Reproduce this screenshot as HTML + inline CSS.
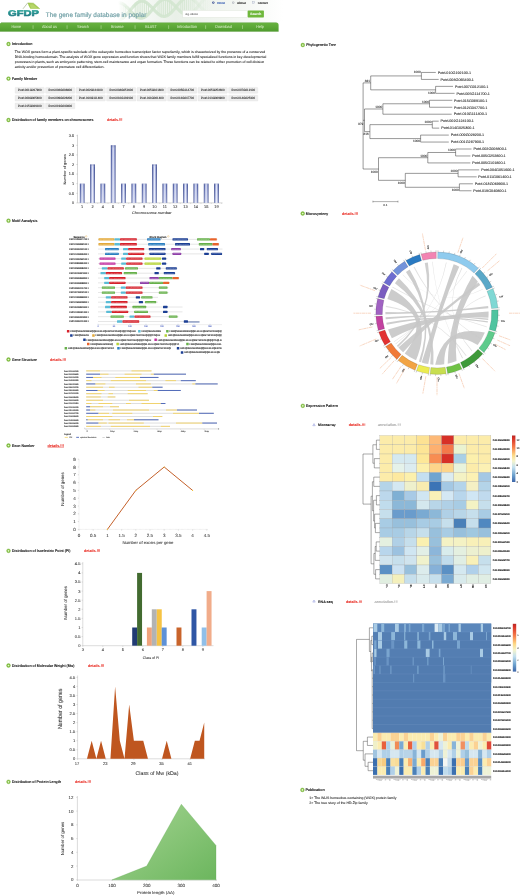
<!DOCTYPE html>
<html><head><meta charset="utf-8"><title>GFDP</title>
<style>html,body{margin:0;padding:0;background:#fff;}body{width:520px;height:896px;overflow:hidden;font-family:"Liberation Sans",sans-serif;}svg{display:block;will-change:transform;opacity:0.999;font-family:"Liberation Sans",sans-serif;}text{white-space:pre;}</style></head>
<body>
<svg width="520" height="896" viewBox="0 0 520 896" text-rendering="geometricPrecision">
<rect width="520" height="896" fill="#ffffff"/>
<defs>
<linearGradient id="nav" x1="0" y1="0" x2="0" y2="1"><stop offset="0" stop-color="#4b962c"/><stop offset="0.1" stop-color="#66b03e"/><stop offset="0.5" stop-color="#5ca837"/><stop offset="1" stop-color="#4f9b2e"/></linearGradient>
<linearGradient id="logo" x1="0" y1="0" x2="0" y2="1"><stop offset="0" stop-color="#2fb09f"/><stop offset="1" stop-color="#1c6c7c"/></linearGradient>
<linearGradient id="hdr" x1="0" y1="0" x2="1" y2="0"><stop offset="0" stop-color="#ffffff"/><stop offset="0.42" stop-color="#ffffff"/><stop offset="0.62" stop-color="#e9f0e8"/><stop offset="0.85" stop-color="#f4f7f3"/><stop offset="1" stop-color="#ffffff"/></linearGradient>
<linearGradient id="cyl" x1="0" y1="0" x2="1" y2="0"><stop offset="0" stop-color="#2e3d82"/><stop offset="0.1" stop-color="#3f4f96"/><stop offset="0.24" stop-color="#949fd3"/><stop offset="0.5" stop-color="#e2e6f7"/><stop offset="0.76" stop-color="#949fd3"/><stop offset="0.9" stop-color="#3f4f96"/><stop offset="1" stop-color="#2e3d82"/></linearGradient>
<linearGradient id="cylv" x1="0" y1="0" x2="0" y2="1"><stop offset="0" stop-color="#33438a" stop-opacity="0.35"/><stop offset="0.08" stop-color="#ffffff" stop-opacity="0"/><stop offset="1" stop-color="#ffffff" stop-opacity="0.3"/></linearGradient>
<linearGradient id="plen" x1="0" y1="0" x2="1" y2="1"><stop offset="0" stop-color="#a6d593"/><stop offset="1" stop-color="#6cb65e"/></linearGradient>
<linearGradient id="hm" x1="0" y1="0" x2="0" y2="1"><stop offset="0" stop-color="#b52a26"/><stop offset="0.06" stop-color="#d73027"/><stop offset="0.25" stop-color="#f67d4a"/><stop offset="0.42" stop-color="#fdd884"/><stop offset="0.55" stop-color="#f4f4cc"/><stop offset="0.68" stop-color="#c4e0ee"/><stop offset="0.85" stop-color="#6ea3cf"/><stop offset="1" stop-color="#3c65a8"/></linearGradient>
</defs>
<rect x="0" y="0" width="283" height="22" fill="url(#hdr)"/>
<linearGradient id="hx" gradientUnits="userSpaceOnUse" x1="118" y1="0" x2="212" y2="0"><stop offset="0" stop-color="#cfe4cc" stop-opacity="0"/><stop offset="0.18" stop-color="#cfe4cc" stop-opacity="0.9"/><stop offset="0.7" stop-color="#d3e6d0" stop-opacity="0.85"/><stop offset="1" stop-color="#d8e9d6" stop-opacity="0"/></linearGradient>
<clipPath id="hclip"><rect x="100" y="0" width="183" height="21.3"/></clipPath>
<g clip-path="url(#hclip)">
<polyline points="118.0,2.9 118.5,2.9 119.0,2.8 119.5,2.9 120.0,2.9 120.5,3.0 121.0,3.2 121.5,3.3 122.0,3.6 122.5,3.8 123.0,4.1 123.5,4.4 124.0,4.7 124.5,5.1 125.0,5.5 125.5,5.9 126.0,6.4 126.5,6.9 127.0,7.3 127.5,7.8 128.0,8.4 128.5,8.9 129.0,9.4 129.5,10.0 130.0,10.5 130.5,11.0 131.0,11.6 131.5,12.1 132.0,12.6 132.5,13.2 133.0,13.7 133.5,14.1 134.0,14.6 134.5,15.1 135.0,15.5 135.5,15.9 136.0,16.3 136.5,16.6 137.0,16.9 137.5,17.2 138.0,17.4 138.5,17.7 139.0,17.8 139.5,18.0 140.0,18.1 140.5,18.1 141.0,18.2 141.5,18.1 142.0,18.1 142.5,18.0 143.0,17.8 143.5,17.7 144.0,17.5 144.5,17.2 145.0,16.9 145.5,16.6 146.0,16.2 146.5,15.9 147.0,15.4 147.5,15.0 148.0,14.5 148.5,14.0 149.0,13.5 149.5,12.9 150.0,12.4 150.5,11.8 151.0,11.2 151.5,10.6 152.0,10.0 152.5,9.4 153.0,8.8 153.5,8.2 154.0,7.5 154.5,6.9 155.0,6.3 155.5,5.7 156.0,5.2 156.5,4.6 157.0,4.1 157.5,3.5 158.0,3.0 158.5,2.6 159.0,2.1 159.5,1.7 160.0,1.3 160.5,0.9 161.0,0.6 161.5,0.3 162.0,0.1 162.5,-0.1 163.0,-0.3 163.5,-0.4 164.0,-0.5 164.5,-0.6 165.0,-0.6 165.5,-0.6 166.0,-0.5 166.5,-0.4 167.0,-0.3 167.5,-0.1 168.0,0.1 168.5,0.3 169.0,0.6 169.5,0.9 170.0,1.3 170.5,1.7 171.0,2.1 171.5,2.5 172.0,2.9 172.5,3.4 173.0,3.9 173.5,4.4 174.0,4.9 174.5,5.4 175.0,6.0 175.5,6.5 176.0,7.0 176.5,7.6 177.0,8.1 177.5,8.7 178.0,9.2 178.5,9.7 179.0,10.2 179.5,10.7 180.0,11.2 180.5,11.6 181.0,12.0 181.5,12.4 182.0,12.8 182.5,13.2 183.0,13.5 183.5,13.8 184.0,14.0 184.5,14.2 185.0,14.4 185.5,14.5 186.0,14.6 186.5,14.7 187.0,14.7 187.5,14.7 188.0,14.6 188.5,14.5 189.0,14.4 189.5,14.2 190.0,14.0 190.5,13.8 191.0,13.5 191.5,13.2 192.0,12.8 192.5,12.4 193.0,12.0 193.5,11.5 194.0,11.1 194.5,10.6 195.0,10.0 195.5,9.5 196.0,8.9 196.5,8.4 197.0,7.8 197.5,7.2 198.0,6.6 198.5,5.9 199.0,5.3 199.5,4.7 200.0,4.1 200.5,3.5 201.0,2.9 201.5,2.3 202.0,1.7 202.5,1.2 203.0,0.6 203.5,0.1 204.0,-0.4 204.5,-0.9 205.0,-1.3 205.5,-1.8 206.0,-2.1 206.5,-2.5 207.0,-2.8 207.5,-3.1 208.0,-3.4 208.5,-3.6 209.0,-3.7 209.5,-3.9 210.0,-4.0 210.5,-4.0 211.0,-4.1 211.5,-4.0 212.0,-4.0 212.5,-3.9" fill="none" stroke="url(#hx)" stroke-width="3.2" stroke-linecap="round"/>
<polyline points="118.0,19.9 118.5,19.9 119.0,19.8 119.5,19.7 120.0,19.6 120.5,19.4 121.0,19.2 121.5,18.9 122.0,18.6 122.5,18.3 123.0,18.0 123.5,17.6 124.0,17.2 124.5,16.7 125.0,16.2 125.5,15.7 126.0,15.2 126.5,14.7 127.0,14.1 127.5,13.5 128.0,12.9 128.5,12.3 129.0,11.7 129.5,11.1 130.0,10.5 130.5,9.9 131.0,9.3 131.5,8.7 132.0,8.1 132.5,7.5 133.0,6.9 133.5,6.3 134.0,5.8 134.5,5.3 135.0,4.8 135.5,4.3 136.0,3.8 136.5,3.4 137.0,3.0 137.5,2.7 138.0,2.4 138.5,2.1 139.0,1.8 139.5,1.6 140.0,1.4 140.5,1.3 141.0,1.2 141.5,1.1 142.0,1.1 142.5,1.1 143.0,1.2 143.5,1.3 144.0,1.4 144.5,1.6 145.0,1.8 145.5,2.1 146.0,2.4 146.5,2.7 147.0,3.0 147.5,3.4 148.0,3.8 148.5,4.2 149.0,4.7 149.5,5.1 150.0,5.6 150.5,6.1 151.0,6.6 151.5,7.2 152.0,7.7 152.5,8.2 153.0,8.8 153.5,9.3 154.0,9.9 154.5,10.4 155.0,10.9 155.5,11.4 156.0,11.9 156.5,12.4 157.0,12.9 157.5,13.3 158.0,13.8 158.5,14.2 159.0,14.5 159.5,14.9 160.0,15.2 160.5,15.5 161.0,15.7 161.5,15.9 162.0,16.1 162.5,16.2 163.0,16.3 163.5,16.4 164.0,16.4 164.5,16.4 165.0,16.4 165.5,16.3 166.0,16.1 166.5,15.9 167.0,15.7 167.5,15.5 168.0,15.2 168.5,14.9 169.0,14.5 169.5,14.1 170.0,13.7 170.5,13.3 171.0,12.8 171.5,12.3 172.0,11.8 172.5,11.2 173.0,10.7 173.5,10.1 174.0,9.5 174.5,8.9 175.0,8.3 175.5,7.7 176.0,7.1 176.5,6.4 177.0,5.8 177.5,5.2 178.0,4.6 178.5,4.0 179.0,3.4 179.5,2.9 180.0,2.3 180.5,1.8 181.0,1.3 181.5,0.8 182.0,0.4 182.5,-0.0 183.0,-0.4 183.5,-0.8 184.0,-1.1 184.5,-1.4 185.0,-1.6 185.5,-1.8 186.0,-2.0 186.5,-2.2 187.0,-2.3 187.5,-2.3 188.0,-2.3 188.5,-2.3 189.0,-2.2 189.5,-2.1 190.0,-2.0 190.5,-1.8 191.0,-1.6 191.5,-1.4 192.0,-1.1 192.5,-0.8 193.0,-0.4 193.5,-0.1 194.0,0.3 194.5,0.8 195.0,1.2 195.5,1.7 196.0,2.2 196.5,2.7 197.0,3.2 197.5,3.7 198.0,4.2 198.5,4.8 199.0,5.3 199.5,5.9 200.0,6.4 200.5,6.9 201.0,7.5 201.5,8.0 202.0,8.5 202.5,9.0 203.0,9.4 203.5,9.9 204.0,10.3 204.5,10.7 205.0,11.1 205.5,11.4 206.0,11.7 206.5,12.0 207.0,12.3 207.5,12.5 208.0,12.7 208.5,12.8 209.0,12.9 209.5,13.0 210.0,13.0 210.5,13.0 211.0,12.9 211.5,12.8 212.0,12.7 212.5,12.5" fill="none" stroke="url(#hx)" stroke-width="3.2" stroke-linecap="round"/>
<line x1="120.0" y1="2.9" x2="120.0" y2="19.6" stroke="url(#hx)" stroke-width="1.0"/>
<line x1="121.9" y1="3.5" x2="121.9" y2="18.7" stroke="url(#hx)" stroke-width="1.0"/>
<line x1="123.8" y1="4.6" x2="123.8" y2="17.3" stroke="url(#hx)" stroke-width="1.0"/>
<line x1="125.7" y1="6.1" x2="125.7" y2="15.5" stroke="url(#hx)" stroke-width="1.0"/>
<line x1="135.2" y1="15.7" x2="135.2" y2="4.6" stroke="url(#hx)" stroke-width="1.0"/>
<line x1="137.1" y1="17.0" x2="137.1" y2="3.0" stroke="url(#hx)" stroke-width="1.0"/>
<line x1="139.0" y1="17.8" x2="139.0" y2="1.8" stroke="url(#hx)" stroke-width="1.0"/>
<line x1="140.9" y1="18.2" x2="140.9" y2="1.2" stroke="url(#hx)" stroke-width="1.0"/>
<line x1="142.8" y1="17.9" x2="142.8" y2="1.2" stroke="url(#hx)" stroke-width="1.0"/>
<line x1="144.7" y1="17.1" x2="144.7" y2="1.7" stroke="url(#hx)" stroke-width="1.0"/>
<line x1="146.6" y1="15.8" x2="146.6" y2="2.7" stroke="url(#hx)" stroke-width="1.0"/>
<line x1="148.5" y1="14.0" x2="148.5" y2="4.2" stroke="url(#hx)" stroke-width="1.0"/>
<line x1="158.0" y1="3.0" x2="158.0" y2="13.8" stroke="url(#hx)" stroke-width="1.0"/>
<line x1="159.9" y1="1.4" x2="159.9" y2="15.1" stroke="url(#hx)" stroke-width="1.0"/>
<line x1="161.8" y1="0.2" x2="161.8" y2="16.0" stroke="url(#hx)" stroke-width="1.0"/>
<line x1="163.7" y1="-0.5" x2="163.7" y2="16.4" stroke="url(#hx)" stroke-width="1.0"/>
<line x1="165.6" y1="-0.6" x2="165.6" y2="16.2" stroke="url(#hx)" stroke-width="1.0"/>
<line x1="167.5" y1="-0.1" x2="167.5" y2="15.5" stroke="url(#hx)" stroke-width="1.0"/>
<line x1="169.4" y1="0.9" x2="169.4" y2="14.2" stroke="url(#hx)" stroke-width="1.0"/>
<line x1="171.3" y1="2.3" x2="171.3" y2="12.5" stroke="url(#hx)" stroke-width="1.0"/>
<line x1="180.8" y1="11.9" x2="180.8" y2="1.5" stroke="url(#hx)" stroke-width="1.0"/>
<line x1="182.7" y1="13.3" x2="182.7" y2="-0.2" stroke="url(#hx)" stroke-width="1.0"/>
<line x1="184.6" y1="14.2" x2="184.6" y2="-1.4" stroke="url(#hx)" stroke-width="1.0"/>
<line x1="186.5" y1="14.7" x2="186.5" y2="-2.2" stroke="url(#hx)" stroke-width="1.0"/>
<line x1="188.4" y1="14.6" x2="188.4" y2="-2.3" stroke="url(#hx)" stroke-width="1.0"/>
<line x1="190.3" y1="13.9" x2="190.3" y2="-1.9" stroke="url(#hx)" stroke-width="1.0"/>
<line x1="192.2" y1="12.6" x2="192.2" y2="-1.0" stroke="url(#hx)" stroke-width="1.0"/>
<line x1="194.1" y1="11.0" x2="194.1" y2="0.4" stroke="url(#hx)" stroke-width="1.0"/>
<line x1="203.6" y1="-0.0" x2="203.6" y2="10.0" stroke="url(#hx)" stroke-width="1.0"/>
<line x1="205.5" y1="-1.8" x2="205.5" y2="11.4" stroke="url(#hx)" stroke-width="1.0"/>
<line x1="207.4" y1="-3.1" x2="207.4" y2="12.4" stroke="url(#hx)" stroke-width="1.0"/>
<line x1="209.3" y1="-3.8" x2="209.3" y2="12.9" stroke="url(#hx)" stroke-width="1.0"/>
</g>
<polygon points="27.7,2.9 33.4,3.2 39.8,8.8 30.3,8.8 28.6,5.4" fill="#a3ca50"/>
<polygon points="29.5,4.6 33,4.2 37.8,8.3 31.2,8.3" fill="#bcd86f" opacity="0.8"/>
<path d="M27.7,2.9 L23,8.8" stroke="#8a9d6b" stroke-width="0.55" fill="none"/>
<path d="M27.7,2.9 L33.4,3.2 L39.8,8.8" stroke="#8fb63e" stroke-width="0.5" fill="none"/>
<text x="8.00" y="16.20" font-size="8.4" fill="url(#logo)" font-weight="bold" textLength="31.00" lengthAdjust="spacingAndGlyphs" stroke="url(#logo)" stroke-width="0.55" stroke-linejoin="round">GFDP</text>
<text x="45.80" y="16.60" font-size="6.6" fill="#6e9ea4" textLength="100.50" lengthAdjust="spacingAndGlyphs" stroke="#6e9ea4" stroke-width="0.15">The gene family database in poplar</text>
<circle cx="213.3" cy="2.6" r="1.2" fill="#3b4f8f"/><circle cx="213.3" cy="2.6" r="0.5" fill="#cfd6ee"/>
<text x="217.20" y="3.70" font-size="3.0" fill="#2f56b0" font-weight="bold" textLength="8.00" lengthAdjust="spacingAndGlyphs" stroke="#2f56b0" stroke-width="0.06">Home</text>
<circle cx="233.2" cy="2.6" r="1.2" fill="#aab0b8"/><circle cx="233.2" cy="2.6" r="0.6" fill="#f2f2f2"/>
<text x="237.00" y="3.70" font-size="3.0" fill="#222" font-weight="bold" textLength="8.80" lengthAdjust="spacingAndGlyphs" stroke="#222" stroke-width="0.06">About</text>
<rect x="252.2" y="1.6" width="2.6" height="1.9" fill="#e8ebf2" stroke="#9aa3b8" stroke-width="0.3"/>
<text x="257.70" y="3.70" font-size="3.0" fill="#222" font-weight="bold" textLength="10.20" lengthAdjust="spacingAndGlyphs" stroke="#222" stroke-width="0.06">Contact</text>
<rect x="182.7" y="10.4" width="65" height="7" fill="#ffffff" stroke="#dfe6dc" stroke-width="0.5"/>
<text x="185.50" y="15.00" font-size="2.6" fill="#555" textLength="12.50" lengthAdjust="spacingAndGlyphs" stroke="#555" stroke-width="0.06">e.g. AtIAA1</text>
<rect x="247.7" y="10.4" width="16.2" height="7" rx="0.6" fill="#6fb83c"/>
<text x="255.80" y="15.00" font-size="3.3" fill="#ffffff" font-weight="bold" text-anchor="middle" textLength="11.00" lengthAdjust="spacingAndGlyphs" stroke="#ffffff" stroke-width="0.06">Search</text>
<path d="M0,23.4 L1.2,22.4 H276 Q278.6,22.4 278.6,25 V31.5 H0 Z" fill="url(#nav)"/>
<rect x="0" y="31.1" width="278.6" height="0.4" fill="#3f8a20" opacity="0.6"/>
<text x="16.30" y="28.30" font-size="4.1" fill="#e2f2d2" text-anchor="middle" textLength="9.50" lengthAdjust="spacingAndGlyphs">Home</text>
<text x="49.40" y="28.30" font-size="4.1" fill="#e2f2d2" text-anchor="middle" textLength="15.00" lengthAdjust="spacingAndGlyphs">About us</text>
<text x="83.00" y="28.30" font-size="4.1" fill="#e2f2d2" text-anchor="middle" textLength="11.50" lengthAdjust="spacingAndGlyphs">Search</text>
<text x="117.30" y="28.30" font-size="4.1" fill="#e2f2d2" text-anchor="middle" textLength="12.50" lengthAdjust="spacingAndGlyphs">Browse</text>
<text x="151.00" y="28.30" font-size="4.1" fill="#e2f2d2" text-anchor="middle" textLength="11.50" lengthAdjust="spacingAndGlyphs">BLAST</text>
<text x="187.00" y="28.30" font-size="4.1" fill="#e2f2d2" text-anchor="middle" textLength="20.00" lengthAdjust="spacingAndGlyphs">Introduction</text>
<text x="223.50" y="28.30" font-size="4.1" fill="#e2f2d2" text-anchor="middle" textLength="16.50" lengthAdjust="spacingAndGlyphs">Download</text>
<text x="260.00" y="28.30" font-size="4.1" fill="#e2f2d2" text-anchor="middle" textLength="7.50" lengthAdjust="spacingAndGlyphs">Help</text>
<rect x="32.8" y="25.3" width="0.45" height="3.6" fill="#d9efc2"/>
<rect x="66.8" y="25.3" width="0.45" height="3.6" fill="#d9efc2"/>
<rect x="100.8" y="25.3" width="0.45" height="3.6" fill="#d9efc2"/>
<rect x="134.8" y="25.3" width="0.45" height="3.6" fill="#d9efc2"/>
<rect x="168.60000000000002" y="25.3" width="0.45" height="3.6" fill="#d9efc2"/>
<rect x="205.60000000000002" y="25.3" width="0.45" height="3.6" fill="#d9efc2"/>
<rect x="242.10000000000002" y="25.3" width="0.45" height="3.6" fill="#d9efc2"/>
<circle cx="8.5" cy="44" r="1.9" fill="#82c341"/>
<circle cx="8.5" cy="44" r="0.85" fill="#e6f4cf"/>
<circle cx="8.5" cy="44" r="1.9" fill="none" stroke="#6aa32d" stroke-width="0.35"/>
<text x="12.00" y="45.35" font-size="3.9" fill="#111" font-weight="bold" textLength="20.30" lengthAdjust="spacingAndGlyphs" stroke="#111" stroke-width="0.06">Introduction</text>
<text x="14.70" y="52.90" font-size="3.45" fill="#222" textLength="250.60" lengthAdjust="spacingAndGlyphs" stroke="#222" stroke-width="0.06">The WOX genes form a plant-specific subclade of the eukaryotic homeobox transcription factor superfamily, which is characterized by the presence of a conserved</text>
<text x="14.70" y="57.90" font-size="3.45" fill="#222" textLength="251.50" lengthAdjust="spacingAndGlyphs" stroke="#222" stroke-width="0.06">DNA-binding homeodomain. The analysis of WOX gene expression and function shows that WOX family members fulfill specialized functions in key developmental</text>
<text x="14.70" y="62.90" font-size="3.45" fill="#222" textLength="249.60" lengthAdjust="spacingAndGlyphs" stroke="#222" stroke-width="0.06">processes in plants, such as embryonic patterning, stem-cell maintenance and organ formation. These functions can be related to either promotion of cell division</text>
<text x="14.70" y="67.90" font-size="3.45" fill="#222" textLength="89.80" lengthAdjust="spacingAndGlyphs" stroke="#222" stroke-width="0.06">activity and/or prevention of premature cell differentiation.</text>
<circle cx="8.5" cy="78.6" r="1.9" fill="#82c341"/>
<circle cx="8.5" cy="78.6" r="0.85" fill="#e6f4cf"/>
<circle cx="8.5" cy="78.6" r="1.9" fill="none" stroke="#6aa32d" stroke-width="0.35"/>
<text x="12.00" y="79.95" font-size="3.9" fill="#111" font-weight="bold" textLength="25.20" lengthAdjust="spacingAndGlyphs" stroke="#111" stroke-width="0.06">Family Member</text>
<rect x="15.10" y="87.40" width="29.2" height="5.8" rx="0.5" fill="#eeeeee" stroke="#dedede" stroke-width="0.3"/>
<text x="18.10" y="91.45" font-size="3.2" fill="#222" textLength="23.50" lengthAdjust="spacingAndGlyphs" stroke="#222" stroke-width="0.08">Potri.001G237900</text>
<rect x="45.60" y="87.40" width="29.2" height="5.8" rx="0.5" fill="#eeeeee" stroke="#dedede" stroke-width="0.3"/>
<text x="48.60" y="91.45" font-size="3.2" fill="#222" textLength="23.50" lengthAdjust="spacingAndGlyphs" stroke="#222" stroke-width="0.08">Potri.002G008800</text>
<rect x="76.10" y="87.40" width="29.2" height="5.8" rx="0.5" fill="#eeeeee" stroke="#dedede" stroke-width="0.3"/>
<text x="79.10" y="91.45" font-size="3.2" fill="#222" textLength="23.50" lengthAdjust="spacingAndGlyphs" stroke="#222" stroke-width="0.08">Potri.002G124100</text>
<rect x="106.60" y="87.40" width="29.2" height="5.8" rx="0.5" fill="#eeeeee" stroke="#dedede" stroke-width="0.3"/>
<text x="109.60" y="91.45" font-size="3.2" fill="#222" textLength="23.50" lengthAdjust="spacingAndGlyphs" stroke="#222" stroke-width="0.08">Potri.004G051600</text>
<rect x="137.10" y="87.40" width="29.2" height="5.8" rx="0.5" fill="#eeeeee" stroke="#dedede" stroke-width="0.3"/>
<text x="140.10" y="91.45" font-size="3.2" fill="#222" textLength="23.50" lengthAdjust="spacingAndGlyphs" stroke="#222" stroke-width="0.08">Potri.005G101800</text>
<rect x="167.60" y="87.40" width="29.2" height="5.8" rx="0.5" fill="#eeeeee" stroke="#dedede" stroke-width="0.3"/>
<text x="170.60" y="91.45" font-size="3.2" fill="#222" textLength="23.50" lengthAdjust="spacingAndGlyphs" stroke="#222" stroke-width="0.08">Potri.005G114700</text>
<rect x="198.10" y="87.40" width="29.2" height="5.8" rx="0.5" fill="#eeeeee" stroke="#dedede" stroke-width="0.3"/>
<text x="201.10" y="91.45" font-size="3.2" fill="#222" textLength="23.50" lengthAdjust="spacingAndGlyphs" stroke="#222" stroke-width="0.08">Potri.005G252800</text>
<rect x="228.60" y="87.40" width="29.2" height="5.8" rx="0.5" fill="#eeeeee" stroke="#dedede" stroke-width="0.3"/>
<text x="231.60" y="91.45" font-size="3.2" fill="#222" textLength="23.50" lengthAdjust="spacingAndGlyphs" stroke="#222" stroke-width="0.08">Potri.007G012100</text>
<rect x="15.10" y="95.20" width="29.2" height="5.8" rx="0.5" fill="#eeeeee" stroke="#dedede" stroke-width="0.3"/>
<text x="18.10" y="99.25" font-size="3.2" fill="#222" textLength="23.50" lengthAdjust="spacingAndGlyphs" stroke="#222" stroke-width="0.08">Potri.008G065400</text>
<rect x="45.60" y="95.20" width="29.2" height="5.8" rx="0.5" fill="#eeeeee" stroke="#dedede" stroke-width="0.3"/>
<text x="48.60" y="99.25" font-size="3.2" fill="#222" textLength="23.50" lengthAdjust="spacingAndGlyphs" stroke="#222" stroke-width="0.08">Potri.009G028200</text>
<rect x="76.10" y="95.20" width="29.2" height="5.8" rx="0.5" fill="#eeeeee" stroke="#dedede" stroke-width="0.3"/>
<text x="79.10" y="99.25" font-size="3.2" fill="#222" textLength="23.50" lengthAdjust="spacingAndGlyphs" stroke="#222" stroke-width="0.08">Potri.010G111400</text>
<rect x="106.60" y="95.20" width="29.2" height="5.8" rx="0.5" fill="#eeeeee" stroke="#dedede" stroke-width="0.3"/>
<text x="109.60" y="99.25" font-size="3.2" fill="#222" textLength="23.50" lengthAdjust="spacingAndGlyphs" stroke="#222" stroke-width="0.08">Potri.010G192100</text>
<rect x="137.10" y="95.20" width="29.2" height="5.8" rx="0.5" fill="#eeeeee" stroke="#dedede" stroke-width="0.3"/>
<text x="140.10" y="99.25" font-size="3.2" fill="#222" textLength="23.50" lengthAdjust="spacingAndGlyphs" stroke="#222" stroke-width="0.08">Potri.011G061400</text>
<rect x="167.60" y="95.20" width="29.2" height="5.8" rx="0.5" fill="#eeeeee" stroke="#dedede" stroke-width="0.3"/>
<text x="170.60" y="99.25" font-size="3.2" fill="#222" textLength="23.50" lengthAdjust="spacingAndGlyphs" stroke="#222" stroke-width="0.08">Potri.012G047700</text>
<rect x="198.10" y="95.20" width="29.2" height="5.8" rx="0.5" fill="#eeeeee" stroke="#dedede" stroke-width="0.3"/>
<text x="201.10" y="99.25" font-size="3.2" fill="#222" textLength="23.50" lengthAdjust="spacingAndGlyphs" stroke="#222" stroke-width="0.08">Potri.013G069900</text>
<rect x="228.60" y="95.20" width="29.2" height="5.8" rx="0.5" fill="#eeeeee" stroke="#dedede" stroke-width="0.3"/>
<text x="231.60" y="99.25" font-size="3.2" fill="#222" textLength="23.50" lengthAdjust="spacingAndGlyphs" stroke="#222" stroke-width="0.08">Potri.014G025300</text>
<rect x="15.10" y="103.00" width="29.2" height="5.8" rx="0.5" fill="#eeeeee" stroke="#dedede" stroke-width="0.3"/>
<text x="18.10" y="107.05" font-size="3.2" fill="#222" textLength="23.50" lengthAdjust="spacingAndGlyphs" stroke="#222" stroke-width="0.08">Potri.015G039100</text>
<rect x="45.60" y="103.00" width="29.2" height="5.8" rx="0.5" fill="#eeeeee" stroke="#dedede" stroke-width="0.3"/>
<text x="48.60" y="107.05" font-size="3.2" fill="#222" textLength="23.50" lengthAdjust="spacingAndGlyphs" stroke="#222" stroke-width="0.08">Potri.019G040800</text>
<circle cx="8.5" cy="120" r="1.9" fill="#82c341"/>
<circle cx="8.5" cy="120" r="0.85" fill="#e6f4cf"/>
<circle cx="8.5" cy="120" r="1.9" fill="none" stroke="#6aa32d" stroke-width="0.35"/>
<text x="12.00" y="121.35" font-size="3.9" fill="#111" font-weight="bold" textLength="81.50" lengthAdjust="spacingAndGlyphs" stroke="#111" stroke-width="0.06">Distribution of family members on chromosomes</text>
<text x="107.00" y="121.35" font-size="3.9" fill="#e8231a" font-weight="bold" textLength="15.50" lengthAdjust="spacingAndGlyphs" stroke="#e8231a" stroke-width="0.06">details.!!!</text>
<line x1="77.5" y1="134.70" x2="77.5" y2="202.9" stroke="#9a9a9a" stroke-width="0.4"/>
<line x1="77.5" y1="202.9" x2="222.5" y2="202.9" stroke="#9a9a9a" stroke-width="0.4"/>
<line x1="76.3" y1="202.90" x2="77.5" y2="202.90" stroke="#9a9a9a" stroke-width="0.35"/>
<text x="74.20" y="204.25" font-size="3.9" fill="#333" text-anchor="end" stroke="#333" stroke-width="0.06">0</text>
<line x1="76.3" y1="193.30" x2="77.5" y2="193.30" stroke="#9a9a9a" stroke-width="0.35"/>
<text x="74.20" y="194.65" font-size="3.9" fill="#333" text-anchor="end" stroke="#333" stroke-width="0.06">0.5</text>
<line x1="76.3" y1="183.70" x2="77.5" y2="183.70" stroke="#9a9a9a" stroke-width="0.35"/>
<text x="74.20" y="185.05" font-size="3.9" fill="#333" text-anchor="end" stroke="#333" stroke-width="0.06">1</text>
<line x1="76.3" y1="174.10" x2="77.5" y2="174.10" stroke="#9a9a9a" stroke-width="0.35"/>
<text x="74.20" y="175.45" font-size="3.9" fill="#333" text-anchor="end" stroke="#333" stroke-width="0.06">1.5</text>
<line x1="76.3" y1="164.50" x2="77.5" y2="164.50" stroke="#9a9a9a" stroke-width="0.35"/>
<text x="74.20" y="165.85" font-size="3.9" fill="#333" text-anchor="end" stroke="#333" stroke-width="0.06">2</text>
<line x1="76.3" y1="154.90" x2="77.5" y2="154.90" stroke="#9a9a9a" stroke-width="0.35"/>
<text x="74.20" y="156.25" font-size="3.9" fill="#333" text-anchor="end" stroke="#333" stroke-width="0.06">2.5</text>
<line x1="76.3" y1="145.30" x2="77.5" y2="145.30" stroke="#9a9a9a" stroke-width="0.35"/>
<text x="74.20" y="146.65" font-size="3.9" fill="#333" text-anchor="end" stroke="#333" stroke-width="0.06">3</text>
<line x1="76.3" y1="135.70" x2="77.5" y2="135.70" stroke="#9a9a9a" stroke-width="0.35"/>
<text x="74.20" y="137.05" font-size="3.9" fill="#333" text-anchor="end" stroke="#333" stroke-width="0.06">3.5</text>
<rect x="79.85" y="183.70" width="4.7" height="19.20" fill="url(#cyl)"/>
<rect x="79.85" y="183.70" width="4.7" height="19.20" fill="url(#cylv)"/>
<text x="82.20" y="207.80" font-size="3.9" fill="#333" text-anchor="middle" stroke="#333" stroke-width="0.06">1</text>
<line x1="87.36" y1="202.9" x2="87.36" y2="203.9" stroke="#9a9a9a" stroke-width="0.3"/>
<rect x="90.18" y="164.50" width="4.7" height="38.40" fill="url(#cyl)"/>
<rect x="90.18" y="164.50" width="4.7" height="38.40" fill="url(#cylv)"/>
<text x="92.53" y="207.80" font-size="3.9" fill="#333" text-anchor="middle" stroke="#333" stroke-width="0.06">2</text>
<line x1="97.69" y1="202.9" x2="97.69" y2="203.9" stroke="#9a9a9a" stroke-width="0.3"/>
<rect x="100.51" y="183.70" width="4.7" height="19.20" fill="url(#cyl)"/>
<rect x="100.51" y="183.70" width="4.7" height="19.20" fill="url(#cylv)"/>
<text x="102.86" y="207.80" font-size="3.9" fill="#333" text-anchor="middle" stroke="#333" stroke-width="0.06">4</text>
<line x1="108.02" y1="202.9" x2="108.02" y2="203.9" stroke="#9a9a9a" stroke-width="0.3"/>
<rect x="110.84" y="145.30" width="4.7" height="57.60" fill="url(#cyl)"/>
<rect x="110.84" y="145.30" width="4.7" height="57.60" fill="url(#cylv)"/>
<text x="113.19" y="207.80" font-size="3.9" fill="#333" text-anchor="middle" stroke="#333" stroke-width="0.06">5</text>
<line x1="118.35" y1="202.9" x2="118.35" y2="203.9" stroke="#9a9a9a" stroke-width="0.3"/>
<rect x="121.17" y="183.70" width="4.7" height="19.20" fill="url(#cyl)"/>
<rect x="121.17" y="183.70" width="4.7" height="19.20" fill="url(#cylv)"/>
<text x="123.52" y="207.80" font-size="3.9" fill="#333" text-anchor="middle" stroke="#333" stroke-width="0.06">7</text>
<line x1="128.68" y1="202.9" x2="128.68" y2="203.9" stroke="#9a9a9a" stroke-width="0.3"/>
<rect x="131.50" y="183.70" width="4.7" height="19.20" fill="url(#cyl)"/>
<rect x="131.50" y="183.70" width="4.7" height="19.20" fill="url(#cylv)"/>
<text x="133.85" y="207.80" font-size="3.9" fill="#333" text-anchor="middle" stroke="#333" stroke-width="0.06">8</text>
<line x1="139.01" y1="202.9" x2="139.01" y2="203.9" stroke="#9a9a9a" stroke-width="0.3"/>
<rect x="141.83" y="183.70" width="4.7" height="19.20" fill="url(#cyl)"/>
<rect x="141.83" y="183.70" width="4.7" height="19.20" fill="url(#cylv)"/>
<text x="144.18" y="207.80" font-size="3.9" fill="#333" text-anchor="middle" stroke="#333" stroke-width="0.06">9</text>
<line x1="149.34" y1="202.9" x2="149.34" y2="203.9" stroke="#9a9a9a" stroke-width="0.3"/>
<rect x="152.16" y="164.50" width="4.7" height="38.40" fill="url(#cyl)"/>
<rect x="152.16" y="164.50" width="4.7" height="38.40" fill="url(#cylv)"/>
<text x="154.51" y="207.80" font-size="3.9" fill="#333" text-anchor="middle" stroke="#333" stroke-width="0.06">10</text>
<line x1="159.67" y1="202.9" x2="159.67" y2="203.9" stroke="#9a9a9a" stroke-width="0.3"/>
<rect x="162.49" y="183.70" width="4.7" height="19.20" fill="url(#cyl)"/>
<rect x="162.49" y="183.70" width="4.7" height="19.20" fill="url(#cylv)"/>
<text x="164.84" y="207.80" font-size="3.9" fill="#333" text-anchor="middle" stroke="#333" stroke-width="0.06">11</text>
<line x1="170.00" y1="202.9" x2="170.00" y2="203.9" stroke="#9a9a9a" stroke-width="0.3"/>
<rect x="172.82" y="183.70" width="4.7" height="19.20" fill="url(#cyl)"/>
<rect x="172.82" y="183.70" width="4.7" height="19.20" fill="url(#cylv)"/>
<text x="175.17" y="207.80" font-size="3.9" fill="#333" text-anchor="middle" stroke="#333" stroke-width="0.06">12</text>
<line x1="180.33" y1="202.9" x2="180.33" y2="203.9" stroke="#9a9a9a" stroke-width="0.3"/>
<rect x="183.15" y="183.70" width="4.7" height="19.20" fill="url(#cyl)"/>
<rect x="183.15" y="183.70" width="4.7" height="19.20" fill="url(#cylv)"/>
<text x="185.50" y="207.80" font-size="3.9" fill="#333" text-anchor="middle" stroke="#333" stroke-width="0.06">13</text>
<line x1="190.66" y1="202.9" x2="190.66" y2="203.9" stroke="#9a9a9a" stroke-width="0.3"/>
<rect x="193.48" y="183.70" width="4.7" height="19.20" fill="url(#cyl)"/>
<rect x="193.48" y="183.70" width="4.7" height="19.20" fill="url(#cylv)"/>
<text x="195.83" y="207.80" font-size="3.9" fill="#333" text-anchor="middle" stroke="#333" stroke-width="0.06">14</text>
<line x1="200.99" y1="202.9" x2="200.99" y2="203.9" stroke="#9a9a9a" stroke-width="0.3"/>
<rect x="203.81" y="183.70" width="4.7" height="19.20" fill="url(#cyl)"/>
<rect x="203.81" y="183.70" width="4.7" height="19.20" fill="url(#cylv)"/>
<text x="206.16" y="207.80" font-size="3.9" fill="#333" text-anchor="middle" stroke="#333" stroke-width="0.06">15</text>
<line x1="211.32" y1="202.9" x2="211.32" y2="203.9" stroke="#9a9a9a" stroke-width="0.3"/>
<rect x="214.14" y="183.70" width="4.7" height="19.20" fill="url(#cyl)"/>
<rect x="214.14" y="183.70" width="4.7" height="19.20" fill="url(#cylv)"/>
<text x="216.49" y="207.80" font-size="3.9" fill="#333" text-anchor="middle" stroke="#333" stroke-width="0.06">19</text>
<line x1="221.65" y1="202.9" x2="221.65" y2="203.9" stroke="#9a9a9a" stroke-width="0.3"/>
<text x="151.70" y="214.40" font-size="3.6" fill="#333" text-anchor="middle" font-style="italic" textLength="40.00" lengthAdjust="spacingAndGlyphs" stroke="#333" stroke-width="0.06">Chromosome number</text>
<text x="66.00" y="169.30" font-size="3.7" fill="#333" text-anchor="middle" textLength="30.50" lengthAdjust="spacingAndGlyphs" transform="rotate(-90 66.00 169.30)" stroke="#333" stroke-width="0.06">Number of genes</text>
<circle cx="8.5" cy="220.7" r="1.9" fill="#82c341"/>
<circle cx="8.5" cy="220.7" r="0.85" fill="#e6f4cf"/>
<circle cx="8.5" cy="220.7" r="1.9" fill="none" stroke="#6aa32d" stroke-width="0.35"/>
<text x="12.00" y="222.05" font-size="3.9" fill="#111" font-weight="bold" textLength="25.40" lengthAdjust="spacingAndGlyphs" stroke="#111" stroke-width="0.06">Motif Aanalysis</text>
<text x="79.00" y="237.60" font-size="2.7" fill="#111" font-weight="bold" text-anchor="middle" textLength="11.00" lengthAdjust="spacingAndGlyphs" stroke="#111" stroke-width="0.06">Sequence</text>
<circle cx="86.2" cy="236.4" r="0.8" fill="none" stroke="#e0a030" stroke-width="0.3"/>
<text x="158.00" y="237.60" font-size="2.7" fill="#111" font-weight="bold" text-anchor="middle" textLength="17.00" lengthAdjust="spacingAndGlyphs" stroke="#111" stroke-width="0.06">Block Diagram</text>
<circle cx="168.3" cy="236.4" r="0.8" fill="none" stroke="#e0a030" stroke-width="0.3"/>
<text x="69.20" y="240.30" font-size="2.5" fill="#222" textLength="19.60" lengthAdjust="spacingAndGlyphs" stroke="#222" stroke-width="0.1">Potri.012G047700.1</text>
<line x1="98" y1="239.40" x2="217.5" y2="239.40" stroke="#b8b8b8" stroke-width="0.35"/>
<rect x="98.5" y="238.25" width="16.00" height="2.3" rx="0.5" fill="#e3a93a"/>
<text x="99.30" y="239.95" font-size="1.5" fill="#ffffff" textLength="14.40" lengthAdjust="spacingAndGlyphs" opacity="0.35" stroke="#ffffff" stroke-width="0.06">LWFQNRRARWKRQ</text>
<rect x="114.5" y="238.25" width="5.50" height="2.3" rx="0.5" fill="#5bbcd6"/>
<rect x="120" y="238.25" width="16.80" height="2.3" rx="0.5" fill="#d5202a"/>
<text x="120.80" y="239.95" font-size="1.5" fill="#ffffff" textLength="15.20" lengthAdjust="spacingAndGlyphs" opacity="0.35" stroke="#ffffff" stroke-width="0.06">LWFQNRRARWKRQ</text>
<rect x="147" y="238.25" width="13.50" height="2.3" rx="0.5" fill="#2b7fc0"/>
<text x="147.80" y="239.95" font-size="1.5" fill="#ffffff" textLength="11.90" lengthAdjust="spacingAndGlyphs" opacity="0.35" stroke="#ffffff" stroke-width="0.06">LWFQNRRARWKRQ</text>
<rect x="172.5" y="238.25" width="15.50" height="2.3" rx="0.5" fill="#1c3f94"/>
<text x="173.30" y="239.95" font-size="1.5" fill="#ffffff" textLength="13.90" lengthAdjust="spacingAndGlyphs" opacity="0.35" stroke="#ffffff" stroke-width="0.06">LWFQNRRARWKRQ</text>
<rect x="197" y="238.25" width="13.00" height="2.3" rx="0.5" fill="#66b04a"/>
<text x="197.80" y="239.95" font-size="1.5" fill="#ffffff" textLength="11.40" lengthAdjust="spacingAndGlyphs" opacity="0.35" stroke="#ffffff" stroke-width="0.06">LWFQNRRARWKRQ</text>
<rect x="210" y="238.25" width="6.80" height="2.3" rx="0.5" fill="#e8642c"/>
<text x="69.20" y="245.13" font-size="2.5" fill="#222" textLength="19.60" lengthAdjust="spacingAndGlyphs" stroke="#222" stroke-width="0.1">Potri.015G039100.1</text>
<line x1="98" y1="244.23" x2="219.5" y2="244.23" stroke="#b8b8b8" stroke-width="0.35"/>
<rect x="98.5" y="243.08" width="16.00" height="2.3" rx="0.5" fill="#e3a93a"/>
<text x="99.30" y="244.78" font-size="1.5" fill="#ffffff" textLength="14.40" lengthAdjust="spacingAndGlyphs" opacity="0.35" stroke="#ffffff" stroke-width="0.06">LWFQNRRARWKRQ</text>
<rect x="114.5" y="243.08" width="5.50" height="2.3" rx="0.5" fill="#5bbcd6"/>
<rect x="120" y="243.08" width="16.80" height="2.3" rx="0.5" fill="#d5202a"/>
<text x="120.80" y="244.78" font-size="1.5" fill="#ffffff" textLength="15.20" lengthAdjust="spacingAndGlyphs" opacity="0.35" stroke="#ffffff" stroke-width="0.06">LWFQNRRARWKRQ</text>
<rect x="148.2" y="243.08" width="16.80" height="2.3" rx="0.5" fill="#2b7fc0"/>
<text x="149.00" y="244.78" font-size="1.5" fill="#ffffff" textLength="15.20" lengthAdjust="spacingAndGlyphs" opacity="0.35" stroke="#ffffff" stroke-width="0.06">LWFQNRRARWKRQ</text>
<rect x="175" y="243.08" width="15.00" height="2.3" rx="0.5" fill="#1c3f94"/>
<text x="175.80" y="244.78" font-size="1.5" fill="#ffffff" textLength="13.40" lengthAdjust="spacingAndGlyphs" opacity="0.35" stroke="#ffffff" stroke-width="0.06">LWFQNRRARWKRQ</text>
<rect x="198.8" y="243.08" width="13.70" height="2.3" rx="0.5" fill="#66b04a"/>
<text x="199.60" y="244.78" font-size="1.5" fill="#ffffff" textLength="12.10" lengthAdjust="spacingAndGlyphs" opacity="0.35" stroke="#ffffff" stroke-width="0.06">LWFQNRRARWKRQ</text>
<rect x="212.5" y="243.08" width="6.30" height="2.3" rx="0.5" fill="#e8642c"/>
<text x="69.20" y="249.96" font-size="2.5" fill="#222" textLength="19.60" lengthAdjust="spacingAndGlyphs" stroke="#222" stroke-width="0.1">Potri.002G124100.1</text>
<line x1="98" y1="249.06" x2="222.5" y2="249.06" stroke="#b8b8b8" stroke-width="0.35"/>
<rect x="105" y="247.91" width="13.80" height="2.3" rx="0.5" fill="#2b7fc0"/>
<text x="105.80" y="249.61" font-size="1.5" fill="#ffffff" textLength="12.20" lengthAdjust="spacingAndGlyphs" opacity="0.35" stroke="#ffffff" stroke-width="0.06">LWFQNRRARWKRQ</text>
<rect x="123" y="247.91" width="5.20" height="2.3" rx="0.5" fill="#5bbcd6"/>
<rect x="128.2" y="247.91" width="16.00" height="2.3" rx="0.5" fill="#d5202a"/>
<text x="129.00" y="249.61" font-size="1.5" fill="#ffffff" textLength="14.40" lengthAdjust="spacingAndGlyphs" opacity="0.35" stroke="#ffffff" stroke-width="0.06">LWFQNRRARWKRQ</text>
<rect x="148.8" y="247.91" width="16.70" height="2.3" rx="0.5" fill="#1c3f94"/>
<text x="149.60" y="249.61" font-size="1.5" fill="#ffffff" textLength="15.10" lengthAdjust="spacingAndGlyphs" opacity="0.35" stroke="#ffffff" stroke-width="0.06">LWFQNRRARWKRQ</text>
<rect x="171.2" y="247.91" width="9.60" height="2.3" rx="0.5" fill="#8e3fa8"/>
<text x="172.00" y="249.61" font-size="1.5" fill="#ffffff" textLength="8.00" lengthAdjust="spacingAndGlyphs" opacity="0.35" stroke="#ffffff" stroke-width="0.06">LWFQNRRARWKRQ</text>
<rect x="200" y="247.91" width="4.20" height="2.3" rx="0.5" fill="#1c3f94"/>
<rect x="206.8" y="247.91" width="11.20" height="2.3" rx="0.5" fill="#1c3f94"/>
<text x="207.60" y="249.61" font-size="1.5" fill="#ffffff" textLength="9.60" lengthAdjust="spacingAndGlyphs" opacity="0.35" stroke="#ffffff" stroke-width="0.06">LWFQNRRARWKRQ</text>
<text x="69.20" y="254.79" font-size="2.5" fill="#222" textLength="19.60" lengthAdjust="spacingAndGlyphs" stroke="#222" stroke-width="0.1">Potri.014G025300.1</text>
<line x1="98" y1="253.89" x2="223" y2="253.89" stroke="#b8b8b8" stroke-width="0.35"/>
<rect x="105" y="252.74" width="13.80" height="2.3" rx="0.5" fill="#2b7fc0"/>
<text x="105.80" y="254.44" font-size="1.5" fill="#ffffff" textLength="12.20" lengthAdjust="spacingAndGlyphs" opacity="0.35" stroke="#ffffff" stroke-width="0.06">LWFQNRRARWKRQ</text>
<rect x="123" y="252.74" width="5.20" height="2.3" rx="0.5" fill="#5bbcd6"/>
<rect x="128.2" y="252.74" width="16.00" height="2.3" rx="0.5" fill="#d5202a"/>
<text x="129.00" y="254.44" font-size="1.5" fill="#ffffff" textLength="14.40" lengthAdjust="spacingAndGlyphs" opacity="0.35" stroke="#ffffff" stroke-width="0.06">LWFQNRRARWKRQ</text>
<rect x="149.5" y="252.74" width="16.00" height="2.3" rx="0.5" fill="#1c3f94"/>
<text x="150.30" y="254.44" font-size="1.5" fill="#ffffff" textLength="14.40" lengthAdjust="spacingAndGlyphs" opacity="0.35" stroke="#ffffff" stroke-width="0.06">LWFQNRRARWKRQ</text>
<rect x="172.5" y="252.74" width="8.70" height="2.3" rx="0.5" fill="#8e3fa8"/>
<text x="173.30" y="254.44" font-size="1.5" fill="#ffffff" textLength="7.10" lengthAdjust="spacingAndGlyphs" opacity="0.35" stroke="#ffffff" stroke-width="0.06">LWFQNRRARWKRQ</text>
<rect x="204.2" y="252.74" width="4.60" height="2.3" rx="0.5" fill="#1c3f94"/>
<rect x="211.2" y="252.74" width="10.80" height="2.3" rx="0.5" fill="#1c3f94"/>
<text x="212.00" y="254.44" font-size="1.5" fill="#ffffff" textLength="9.20" lengthAdjust="spacingAndGlyphs" opacity="0.35" stroke="#ffffff" stroke-width="0.06">LWFQNRRARWKRQ</text>
<text x="69.20" y="259.62" font-size="2.5" fill="#222" textLength="19.60" lengthAdjust="spacingAndGlyphs" stroke="#222" stroke-width="0.1">Potri.010G192100.1</text>
<line x1="98" y1="258.72" x2="167.5" y2="258.72" stroke="#b8b8b8" stroke-width="0.35"/>
<rect x="99.5" y="257.57" width="16.00" height="2.3" rx="0.5" fill="#c230a0"/>
<text x="100.30" y="259.27" font-size="1.5" fill="#ffffff" textLength="14.40" lengthAdjust="spacingAndGlyphs" opacity="0.35" stroke="#ffffff" stroke-width="0.06">LWFQNRRARWKRQ</text>
<rect x="121.2" y="257.57" width="5.00" height="2.3" rx="0.5" fill="#5bbcd6"/>
<rect x="126.2" y="257.57" width="16.30" height="2.3" rx="0.5" fill="#d5202a"/>
<text x="127.00" y="259.27" font-size="1.5" fill="#ffffff" textLength="14.70" lengthAdjust="spacingAndGlyphs" opacity="0.35" stroke="#ffffff" stroke-width="0.06">LWFQNRRARWKRQ</text>
<rect x="144.5" y="257.57" width="16.70" height="2.3" rx="0.5" fill="#b5d334"/>
<text x="145.30" y="259.27" font-size="1.5" fill="#ffffff" textLength="15.10" lengthAdjust="spacingAndGlyphs" opacity="0.35" stroke="#ffffff" stroke-width="0.06">LWFQNRRARWKRQ</text>
<rect x="162" y="257.57" width="4.20" height="2.3" rx="0.5" fill="#1c3f94"/>
<text x="69.20" y="264.45" font-size="2.5" fill="#222" textLength="19.60" lengthAdjust="spacingAndGlyphs" stroke="#222" stroke-width="0.1">Potri.008G065400.1</text>
<line x1="98" y1="263.55" x2="167.5" y2="263.55" stroke="#b8b8b8" stroke-width="0.35"/>
<rect x="99.5" y="262.40" width="16.00" height="2.3" rx="0.5" fill="#c230a0"/>
<text x="100.30" y="264.10" font-size="1.5" fill="#ffffff" textLength="14.40" lengthAdjust="spacingAndGlyphs" opacity="0.35" stroke="#ffffff" stroke-width="0.06">LWFQNRRARWKRQ</text>
<rect x="121.2" y="262.40" width="5.00" height="2.3" rx="0.5" fill="#5bbcd6"/>
<rect x="126.2" y="262.40" width="16.30" height="2.3" rx="0.5" fill="#d5202a"/>
<text x="127.00" y="264.10" font-size="1.5" fill="#ffffff" textLength="14.70" lengthAdjust="spacingAndGlyphs" opacity="0.35" stroke="#ffffff" stroke-width="0.06">LWFQNRRARWKRQ</text>
<rect x="144.5" y="262.40" width="16.70" height="2.3" rx="0.5" fill="#b5d334"/>
<text x="145.30" y="264.10" font-size="1.5" fill="#ffffff" textLength="15.10" lengthAdjust="spacingAndGlyphs" opacity="0.35" stroke="#ffffff" stroke-width="0.06">LWFQNRRARWKRQ</text>
<rect x="162" y="262.40" width="4.20" height="2.3" rx="0.5" fill="#1c3f94"/>
<text x="69.20" y="269.28" font-size="2.5" fill="#222" textLength="19.60" lengthAdjust="spacingAndGlyphs" stroke="#222" stroke-width="0.1">Potri.009G028200.1</text>
<line x1="98" y1="268.38" x2="177.5" y2="268.38" stroke="#b8b8b8" stroke-width="0.35"/>
<rect x="101.8" y="267.23" width="5.70" height="2.3" rx="0.5" fill="#5bbcd6"/>
<rect x="107.5" y="267.23" width="16.30" height="2.3" rx="0.5" fill="#d5202a"/>
<text x="108.30" y="268.93" font-size="1.5" fill="#ffffff" textLength="14.70" lengthAdjust="spacingAndGlyphs" opacity="0.35" stroke="#ffffff" stroke-width="0.06">LWFQNRRARWKRQ</text>
<rect x="125" y="267.23" width="13.00" height="2.3" rx="0.5" fill="#66b04a"/>
<text x="125.80" y="268.93" font-size="1.5" fill="#ffffff" textLength="11.40" lengthAdjust="spacingAndGlyphs" opacity="0.35" stroke="#ffffff" stroke-width="0.06">LWFQNRRARWKRQ</text>
<rect x="156.2" y="267.23" width="4.30" height="2.3" rx="0.5" fill="#1c3f94"/>
<rect x="165.8" y="267.23" width="11.00" height="2.3" rx="0.5" fill="#1c3f94"/>
<text x="166.60" y="268.93" font-size="1.5" fill="#ffffff" textLength="9.40" lengthAdjust="spacingAndGlyphs" opacity="0.35" stroke="#ffffff" stroke-width="0.06">LWFQNRRARWKRQ</text>
<text x="69.20" y="274.11" font-size="2.5" fill="#222" textLength="19.60" lengthAdjust="spacingAndGlyphs" stroke="#222" stroke-width="0.1">Potri.001G237900.1</text>
<line x1="98" y1="273.21" x2="176" y2="273.21" stroke="#b8b8b8" stroke-width="0.35"/>
<rect x="100.5" y="272.06" width="5.30" height="2.3" rx="0.5" fill="#5bbcd6"/>
<rect x="105.8" y="272.06" width="16.20" height="2.3" rx="0.5" fill="#d5202a"/>
<text x="106.60" y="273.76" font-size="1.5" fill="#ffffff" textLength="14.60" lengthAdjust="spacingAndGlyphs" opacity="0.35" stroke="#ffffff" stroke-width="0.06">LWFQNRRARWKRQ</text>
<rect x="123.8" y="272.06" width="13.20" height="2.3" rx="0.5" fill="#66b04a"/>
<text x="124.60" y="273.76" font-size="1.5" fill="#ffffff" textLength="11.60" lengthAdjust="spacingAndGlyphs" opacity="0.35" stroke="#ffffff" stroke-width="0.06">LWFQNRRARWKRQ</text>
<rect x="154.5" y="272.06" width="4.30" height="2.3" rx="0.5" fill="#1c3f94"/>
<rect x="163.8" y="272.06" width="11.20" height="2.3" rx="0.5" fill="#1c3f94"/>
<text x="164.60" y="273.76" font-size="1.5" fill="#ffffff" textLength="9.60" lengthAdjust="spacingAndGlyphs" opacity="0.35" stroke="#ffffff" stroke-width="0.06">LWFQNRRARWKRQ</text>
<text x="69.20" y="278.94" font-size="2.5" fill="#222" textLength="19.60" lengthAdjust="spacingAndGlyphs" stroke="#222" stroke-width="0.1">Potri.005G252800.1</text>
<line x1="98" y1="278.04" x2="179.5" y2="278.04" stroke="#b8b8b8" stroke-width="0.35"/>
<rect x="104.2" y="276.89" width="5.00" height="2.3" rx="0.5" fill="#5bbcd6"/>
<rect x="109.2" y="276.89" width="16.30" height="2.3" rx="0.5" fill="#d5202a"/>
<text x="110.00" y="278.59" font-size="1.5" fill="#ffffff" textLength="14.70" lengthAdjust="spacingAndGlyphs" opacity="0.35" stroke="#ffffff" stroke-width="0.06">LWFQNRRARWKRQ</text>
<rect x="149.5" y="276.89" width="9.30" height="2.3" rx="0.5" fill="#8e3fa8"/>
<text x="150.30" y="278.59" font-size="1.5" fill="#ffffff" textLength="7.70" lengthAdjust="spacingAndGlyphs" opacity="0.35" stroke="#ffffff" stroke-width="0.06">LWFQNRRARWKRQ</text>
<rect x="158.8" y="276.89" width="13.70" height="2.3" rx="0.5" fill="#66b04a"/>
<text x="159.60" y="278.59" font-size="1.5" fill="#ffffff" textLength="12.10" lengthAdjust="spacingAndGlyphs" opacity="0.35" stroke="#ffffff" stroke-width="0.06">LWFQNRRARWKRQ</text>
<rect x="172.5" y="276.89" width="6.30" height="2.3" rx="0.5" fill="#e8642c"/>
<text x="69.20" y="283.77" font-size="2.5" fill="#222" textLength="19.60" lengthAdjust="spacingAndGlyphs" stroke="#222" stroke-width="0.1">Potri.002G008800.1</text>
<line x1="98" y1="282.87" x2="170" y2="282.87" stroke="#b8b8b8" stroke-width="0.35"/>
<rect x="104.2" y="281.72" width="5.00" height="2.3" rx="0.5" fill="#5bbcd6"/>
<rect x="109.2" y="281.72" width="16.30" height="2.3" rx="0.5" fill="#d5202a"/>
<text x="110.00" y="283.42" font-size="1.5" fill="#ffffff" textLength="14.70" lengthAdjust="spacingAndGlyphs" opacity="0.35" stroke="#ffffff" stroke-width="0.06">LWFQNRRARWKRQ</text>
<rect x="140" y="281.72" width="9.20" height="2.3" rx="0.5" fill="#8e3fa8"/>
<text x="140.80" y="283.42" font-size="1.5" fill="#ffffff" textLength="7.60" lengthAdjust="spacingAndGlyphs" opacity="0.35" stroke="#ffffff" stroke-width="0.06">LWFQNRRARWKRQ</text>
<rect x="149.2" y="281.72" width="13.80" height="2.3" rx="0.5" fill="#66b04a"/>
<text x="150.00" y="283.42" font-size="1.5" fill="#ffffff" textLength="12.20" lengthAdjust="spacingAndGlyphs" opacity="0.35" stroke="#ffffff" stroke-width="0.06">LWFQNRRARWKRQ</text>
<rect x="163" y="281.72" width="6.20" height="2.3" rx="0.5" fill="#e8642c"/>
<text x="69.20" y="288.60" font-size="2.5" fill="#222" textLength="19.60" lengthAdjust="spacingAndGlyphs" stroke="#222" stroke-width="0.1">Potri.005G114700.1</text>
<line x1="98" y1="287.70" x2="168.5" y2="287.70" stroke="#b8b8b8" stroke-width="0.35"/>
<rect x="101.8" y="286.55" width="13.20" height="2.3" rx="0.5" fill="#66b04a"/>
<text x="102.60" y="288.25" font-size="1.5" fill="#ffffff" textLength="11.60" lengthAdjust="spacingAndGlyphs" opacity="0.35" stroke="#ffffff" stroke-width="0.06">LWFQNRRARWKRQ</text>
<rect x="120.8" y="286.55" width="5.00" height="2.3" rx="0.5" fill="#5bbcd6"/>
<rect x="125.8" y="286.55" width="16.70" height="2.3" rx="0.5" fill="#d5202a"/>
<text x="126.60" y="288.25" font-size="1.5" fill="#ffffff" textLength="15.10" lengthAdjust="spacingAndGlyphs" opacity="0.35" stroke="#ffffff" stroke-width="0.06">LWFQNRRARWKRQ</text>
<rect x="158.8" y="286.55" width="8.70" height="2.3" rx="0.5" fill="#66b04a"/>
<text x="159.60" y="288.25" font-size="1.5" fill="#ffffff" textLength="7.10" lengthAdjust="spacingAndGlyphs" opacity="0.35" stroke="#ffffff" stroke-width="0.06">LWFQNRRARWKRQ</text>
<text x="69.20" y="293.43" font-size="2.5" fill="#222" textLength="19.60" lengthAdjust="spacingAndGlyphs" stroke="#222" stroke-width="0.1">Potri.007G012100.1</text>
<line x1="98" y1="292.53" x2="168.5" y2="292.53" stroke="#b8b8b8" stroke-width="0.35"/>
<rect x="101.8" y="291.38" width="13.20" height="2.3" rx="0.5" fill="#66b04a"/>
<text x="102.60" y="293.08" font-size="1.5" fill="#ffffff" textLength="11.60" lengthAdjust="spacingAndGlyphs" opacity="0.35" stroke="#ffffff" stroke-width="0.06">LWFQNRRARWKRQ</text>
<rect x="120.8" y="291.38" width="5.00" height="2.3" rx="0.5" fill="#5bbcd6"/>
<rect x="125.8" y="291.38" width="16.70" height="2.3" rx="0.5" fill="#d5202a"/>
<text x="126.60" y="293.08" font-size="1.5" fill="#ffffff" textLength="15.10" lengthAdjust="spacingAndGlyphs" opacity="0.35" stroke="#ffffff" stroke-width="0.06">LWFQNRRARWKRQ</text>
<rect x="158.8" y="291.38" width="8.70" height="2.3" rx="0.5" fill="#66b04a"/>
<text x="159.60" y="293.08" font-size="1.5" fill="#ffffff" textLength="7.10" lengthAdjust="spacingAndGlyphs" opacity="0.35" stroke="#ffffff" stroke-width="0.06">LWFQNRRARWKRQ</text>
<text x="69.20" y="298.26" font-size="2.5" fill="#222" textLength="19.60" lengthAdjust="spacingAndGlyphs" stroke="#222" stroke-width="0.1">Potri.013G069900.1</text>
<line x1="98" y1="297.36" x2="158" y2="297.36" stroke="#b8b8b8" stroke-width="0.35"/>
<rect x="105.8" y="296.21" width="5.40" height="2.3" rx="0.5" fill="#5bbcd6"/>
<rect x="111.2" y="296.21" width="16.30" height="2.3" rx="0.5" fill="#d5202a"/>
<text x="112.00" y="297.91" font-size="1.5" fill="#ffffff" textLength="14.70" lengthAdjust="spacingAndGlyphs" opacity="0.35" stroke="#ffffff" stroke-width="0.06">LWFQNRRARWKRQ</text>
<rect x="135.8" y="296.21" width="4.20" height="2.3" rx="0.5" fill="#1c3f94"/>
<rect x="141.2" y="296.21" width="11.30" height="2.3" rx="0.5" fill="#66b04a"/>
<text x="142.00" y="297.91" font-size="1.5" fill="#ffffff" textLength="9.70" lengthAdjust="spacingAndGlyphs" opacity="0.35" stroke="#ffffff" stroke-width="0.06">LWFQNRRARWKRQ</text>
<text x="69.20" y="303.09" font-size="2.5" fill="#222" textLength="19.60" lengthAdjust="spacingAndGlyphs" stroke="#222" stroke-width="0.1">Potri.019G040800.1</text>
<line x1="98" y1="302.19" x2="158" y2="302.19" stroke="#b8b8b8" stroke-width="0.35"/>
<rect x="105.8" y="301.04" width="5.40" height="2.3" rx="0.5" fill="#5bbcd6"/>
<rect x="111.2" y="301.04" width="16.30" height="2.3" rx="0.5" fill="#d5202a"/>
<text x="112.00" y="302.74" font-size="1.5" fill="#ffffff" textLength="14.70" lengthAdjust="spacingAndGlyphs" opacity="0.35" stroke="#ffffff" stroke-width="0.06">LWFQNRRARWKRQ</text>
<rect x="138.8" y="301.04" width="4.20" height="2.3" rx="0.5" fill="#1c3f94"/>
<rect x="145" y="301.04" width="11.20" height="2.3" rx="0.5" fill="#66b04a"/>
<text x="145.80" y="302.74" font-size="1.5" fill="#ffffff" textLength="9.60" lengthAdjust="spacingAndGlyphs" opacity="0.35" stroke="#ffffff" stroke-width="0.06">LWFQNRRARWKRQ</text>
<text x="69.20" y="307.92" font-size="2.5" fill="#222" textLength="19.60" lengthAdjust="spacingAndGlyphs" stroke="#222" stroke-width="0.1">Potri.004G051600.1</text>
<line x1="98" y1="307.02" x2="182.5" y2="307.02" stroke="#b8b8b8" stroke-width="0.35"/>
<rect x="105" y="305.87" width="5.50" height="2.3" rx="0.5" fill="#5bbcd6"/>
<rect x="110.5" y="305.87" width="16.30" height="2.3" rx="0.5" fill="#d5202a"/>
<text x="111.30" y="307.57" font-size="1.5" fill="#ffffff" textLength="14.70" lengthAdjust="spacingAndGlyphs" opacity="0.35" stroke="#ffffff" stroke-width="0.06">LWFQNRRARWKRQ</text>
<rect x="132.5" y="305.87" width="13.70" height="2.3" rx="0.5" fill="#66b04a"/>
<text x="133.30" y="307.57" font-size="1.5" fill="#ffffff" textLength="12.10" lengthAdjust="spacingAndGlyphs" opacity="0.35" stroke="#ffffff" stroke-width="0.06">LWFQNRRARWKRQ</text>
<rect x="163" y="305.87" width="4.50" height="2.3" rx="0.5" fill="#1c3f94"/>
<text x="69.20" y="312.75" font-size="2.5" fill="#222" textLength="19.60" lengthAdjust="spacingAndGlyphs" stroke="#222" stroke-width="0.1">Potri.011G061400.1</text>
<line x1="98" y1="311.85" x2="182.5" y2="311.85" stroke="#b8b8b8" stroke-width="0.35"/>
<rect x="106.2" y="310.70" width="5.60" height="2.3" rx="0.5" fill="#5bbcd6"/>
<rect x="111.8" y="310.70" width="16.40" height="2.3" rx="0.5" fill="#d5202a"/>
<text x="112.60" y="312.40" font-size="1.5" fill="#ffffff" textLength="14.80" lengthAdjust="spacingAndGlyphs" opacity="0.35" stroke="#ffffff" stroke-width="0.06">LWFQNRRARWKRQ</text>
<rect x="134.2" y="310.70" width="13.80" height="2.3" rx="0.5" fill="#66b04a"/>
<text x="135.00" y="312.40" font-size="1.5" fill="#ffffff" textLength="12.20" lengthAdjust="spacingAndGlyphs" opacity="0.35" stroke="#ffffff" stroke-width="0.06">LWFQNRRARWKRQ</text>
<rect x="163" y="310.70" width="4.50" height="2.3" rx="0.5" fill="#1c3f94"/>
<text x="69.20" y="317.58" font-size="2.5" fill="#222" textLength="19.60" lengthAdjust="spacingAndGlyphs" stroke="#222" stroke-width="0.1">Potri.005G101800.1</text>
<line x1="98" y1="316.68" x2="178.5" y2="316.68" stroke="#b8b8b8" stroke-width="0.35"/>
<rect x="110.5" y="315.53" width="13.30" height="2.3" rx="0.5" fill="#66b04a"/>
<text x="111.30" y="317.23" font-size="1.5" fill="#ffffff" textLength="11.70" lengthAdjust="spacingAndGlyphs" opacity="0.35" stroke="#ffffff" stroke-width="0.06">LWFQNRRARWKRQ</text>
<rect x="129.5" y="315.53" width="5.00" height="2.3" rx="0.5" fill="#5bbcd6"/>
<rect x="134.5" y="315.53" width="16.00" height="2.3" rx="0.5" fill="#d5202a"/>
<text x="135.30" y="317.23" font-size="1.5" fill="#ffffff" textLength="14.40" lengthAdjust="spacingAndGlyphs" opacity="0.35" stroke="#ffffff" stroke-width="0.06">LWFQNRRARWKRQ</text>
<rect x="168.8" y="315.53" width="8.70" height="2.3" rx="0.5" fill="#66b04a"/>
<text x="169.60" y="317.23" font-size="1.5" fill="#ffffff" textLength="7.10" lengthAdjust="spacingAndGlyphs" opacity="0.35" stroke="#ffffff" stroke-width="0.06">LWFQNRRARWKRQ</text>
<text x="69.20" y="322.41" font-size="2.5" fill="#222" textLength="19.60" lengthAdjust="spacingAndGlyphs" stroke="#222" stroke-width="0.1">Potri.010G111400.1</text>
<line x1="98" y1="321.51" x2="199.5" y2="321.51" stroke="#b8b8b8" stroke-width="0.35"/>
<rect x="117" y="320.36" width="5.50" height="2.3" rx="0.5" fill="#5bbcd6"/>
<rect x="122.5" y="320.36" width="16.70" height="2.3" rx="0.5" fill="#d5202a"/>
<text x="123.30" y="322.06" font-size="1.5" fill="#ffffff" textLength="15.10" lengthAdjust="spacingAndGlyphs" opacity="0.35" stroke="#ffffff" stroke-width="0.06">LWFQNRRARWKRQ</text>
<rect x="183.8" y="320.36" width="4.20" height="2.3" rx="0.5" fill="#1c3f94"/>
<line x1="188" y1="322.01" x2="199.5" y2="322.01" stroke="#1c3f94" stroke-width="0.7"/>
<line x1="98" y1="324.6" x2="222" y2="324.6" stroke="#c8c8c8" stroke-width="0.3"/>
<line x1="98.0" y1="323.8" x2="98.0" y2="325.40000000000003" stroke="#7d8fd0" stroke-width="0.3"/>
<text x="98.00" y="327.30" font-size="2.2" fill="#4a5fc0" text-anchor="middle" stroke="#4a5fc0" stroke-width="0.06">0</text>
<line x1="114.0" y1="323.8" x2="114.0" y2="325.40000000000003" stroke="#7d8fd0" stroke-width="0.3"/>
<text x="114.00" y="327.30" font-size="2.2" fill="#4a5fc0" text-anchor="middle" stroke="#4a5fc0" stroke-width="0.06">50</text>
<line x1="130.0" y1="323.8" x2="130.0" y2="325.40000000000003" stroke="#7d8fd0" stroke-width="0.3"/>
<text x="130.00" y="327.30" font-size="2.2" fill="#4a5fc0" text-anchor="middle" stroke="#4a5fc0" stroke-width="0.06">100</text>
<line x1="146.0" y1="323.8" x2="146.0" y2="325.40000000000003" stroke="#7d8fd0" stroke-width="0.3"/>
<text x="146.00" y="327.30" font-size="2.2" fill="#4a5fc0" text-anchor="middle" stroke="#4a5fc0" stroke-width="0.06">150</text>
<line x1="162.0" y1="323.8" x2="162.0" y2="325.40000000000003" stroke="#7d8fd0" stroke-width="0.3"/>
<text x="162.00" y="327.30" font-size="2.2" fill="#4a5fc0" text-anchor="middle" stroke="#4a5fc0" stroke-width="0.06">200</text>
<line x1="178.0" y1="323.8" x2="178.0" y2="325.40000000000003" stroke="#7d8fd0" stroke-width="0.3"/>
<text x="178.00" y="327.30" font-size="2.2" fill="#4a5fc0" text-anchor="middle" stroke="#4a5fc0" stroke-width="0.06">250</text>
<line x1="194.0" y1="323.8" x2="194.0" y2="325.40000000000003" stroke="#7d8fd0" stroke-width="0.3"/>
<text x="194.00" y="327.30" font-size="2.2" fill="#4a5fc0" text-anchor="middle" stroke="#4a5fc0" stroke-width="0.06">300</text>
<line x1="210.0" y1="323.8" x2="210.0" y2="325.40000000000003" stroke="#7d8fd0" stroke-width="0.3"/>
<text x="210.00" y="327.30" font-size="2.2" fill="#4a5fc0" text-anchor="middle" stroke="#4a5fc0" stroke-width="0.06">350</text>
<rect x="66.9" y="330.00" width="2.5" height="2.5" rx="0.3" fill="#d5202a"/>
<text x="70.30" y="332.20" font-size="2.5" fill="#222" textLength="65.70" lengthAdjust="spacingAndGlyphs" stroke="#222" stroke-width="0.1">LWFQNRRARWKRQQKLEELFQKGTRPPAEQIQQITAQLRK</text>
<rect x="138.1" y="330.00" width="2.5" height="2.5" rx="0.3" fill="#5bbcd6"/>
<text x="141.50" y="332.20" font-size="2.5" fill="#222" textLength="19.70" lengthAdjust="spacingAndGlyphs" stroke="#222" stroke-width="0.1">LWFQNRRARWKR</text>
<rect x="166.1" y="330.00" width="2.5" height="2.5" rx="0.3" fill="#66b04a"/>
<text x="169.50" y="332.20" font-size="2.5" fill="#222" textLength="52.20" lengthAdjust="spacingAndGlyphs" stroke="#222" stroke-width="0.1">LWFQNRRARWKRQQKLEELFQKGTRPPAEQIQ</text>
<rect x="70.1" y="334.25" width="2.5" height="2.5" rx="0.3" fill="#1c3f94"/>
<text x="73.50" y="336.45" font-size="2.5" fill="#222" textLength="15.50" lengthAdjust="spacingAndGlyphs" stroke="#222" stroke-width="0.1">LWFQNRRAR</text>
<rect x="92.2" y="334.25" width="2.5" height="2.5" rx="0.3" fill="#e3a93a"/>
<text x="95.60" y="336.45" font-size="2.5" fill="#222" textLength="64.80" lengthAdjust="spacingAndGlyphs" stroke="#222" stroke-width="0.1">LWFQNRRARWKRQQKLEELFQKGTRPPAEQIQQITAQLR</text>
<rect x="164.5" y="334.25" width="2.5" height="2.5" rx="0.3" fill="#b5d334"/>
<text x="167.90" y="336.45" font-size="2.5" fill="#222" textLength="53.80" lengthAdjust="spacingAndGlyphs" stroke="#222" stroke-width="0.1">LWFQNRRARWKRQQKLEELFQKGTRPPAEQIQQ</text>
<rect x="83.2" y="338.50" width="2.5" height="2.5" rx="0.3" fill="#1c3f94"/>
<text x="86.60" y="340.70" font-size="2.5" fill="#222" textLength="64.80" lengthAdjust="spacingAndGlyphs" stroke="#222" stroke-width="0.1">LWFQNRRARWKRQQKLEELFQKGTRPPAEQIQQITAQLR</text>
<rect x="154.4" y="338.50" width="2.5" height="2.5" rx="0.3" fill="#c230a0"/>
<text x="157.80" y="340.70" font-size="2.5" fill="#222" textLength="63.90" lengthAdjust="spacingAndGlyphs" stroke="#222" stroke-width="0.1">LWFQNRRARWKRQQKLEELFQKGTRPPAEQIQQITAQLR</text>
<rect x="87" y="342.70" width="2.5" height="2.5" rx="0.3" fill="#e8642c"/>
<text x="90.40" y="344.90" font-size="2.5" fill="#222" textLength="22.60" lengthAdjust="spacingAndGlyphs" stroke="#222" stroke-width="0.1">LWFQNRRARWKRQ</text>
<rect x="116.4" y="342.70" width="2.5" height="2.5" rx="0.3" fill="#b5d334"/>
<text x="119.80" y="344.90" font-size="2.5" fill="#222" textLength="59.40" lengthAdjust="spacingAndGlyphs" stroke="#222" stroke-width="0.1">LWFQNRRARWKRQQKLEELFQKGTRPPAEQIQQITA</text>
<rect x="186.2" y="342.70" width="2.5" height="2.5" rx="0.3" fill="#66b04a"/>
<text x="189.60" y="344.90" font-size="2.5" fill="#222" textLength="32.10" lengthAdjust="spacingAndGlyphs" stroke="#222" stroke-width="0.1">LWFQNRRARWKRQQKLEEL</text>
<rect x="64.6" y="347.00" width="2.5" height="2.5" rx="0.3" fill="#66b04a"/>
<text x="68.00" y="349.20" font-size="2.5" fill="#222" textLength="46.00" lengthAdjust="spacingAndGlyphs" stroke="#222" stroke-width="0.1">LWFQNRRARWKRQQKLEELFQKGTRPPA</text>
<rect x="117.2" y="347.00" width="2.5" height="2.5" rx="0.3" fill="#2b7fc0"/>
<text x="120.60" y="349.20" font-size="2.5" fill="#222" textLength="50.40" lengthAdjust="spacingAndGlyphs" stroke="#222" stroke-width="0.1">LWFQNRRARWKRQQKLEELFQKGTRPPAEQI</text>
<rect x="176.8" y="347.00" width="2.5" height="2.5" rx="0.3" fill="#1c3f94"/>
<text x="180.20" y="349.20" font-size="2.5" fill="#222" textLength="41.50" lengthAdjust="spacingAndGlyphs" stroke="#222" stroke-width="0.1">LWFQNRRARWKRQQKLEELFQKGTR</text>
<rect x="180.8" y="351.20" width="2.5" height="2.5" rx="0.3" fill="#1c3f94"/>
<text x="184.20" y="353.40" font-size="2.5" fill="#222" textLength="35.80" lengthAdjust="spacingAndGlyphs" stroke="#222" stroke-width="0.1">LWFQNRRARWKRQQKLEELFQK</text>
<circle cx="8.5" cy="359.5" r="1.9" fill="#82c341"/>
<circle cx="8.5" cy="359.5" r="0.85" fill="#e6f4cf"/>
<circle cx="8.5" cy="359.5" r="1.9" fill="none" stroke="#6aa32d" stroke-width="0.35"/>
<text x="12.00" y="360.85" font-size="3.9" fill="#111" font-weight="bold" textLength="25.00" lengthAdjust="spacingAndGlyphs" stroke="#111" stroke-width="0.06">Gene Structure</text>
<text x="50.00" y="360.85" font-size="3.9" fill="#e8231a" font-weight="bold" textLength="16.20" lengthAdjust="spacingAndGlyphs" stroke="#e8231a" stroke-width="0.06">details.!!!</text>
<text x="64.00" y="371.65" font-size="2.1" fill="#222" font-weight="bold" textLength="14.60" lengthAdjust="spacingAndGlyphs" stroke="#222" stroke-width="0.06">Potri.001G237900</text>
<line x1="86.2" y1="370.90" x2="151.5" y2="370.90" stroke="#bcbcbc" stroke-width="0.5"/>
<rect x="86.2" y="370.47" width="13.80" height="0.85" fill="#f4d25c"/>
<rect x="131.5" y="370.47" width="20.00" height="0.85" fill="#f4d25c"/>
<text x="64.00" y="374.91" font-size="2.1" fill="#222" font-weight="bold" textLength="14.60" lengthAdjust="spacingAndGlyphs" stroke="#222" stroke-width="0.06">Potri.002G008800</text>
<line x1="86.2" y1="374.16" x2="186" y2="374.16" stroke="#bcbcbc" stroke-width="0.5"/>
<rect x="86.2" y="373.68" width="13.80" height="0.95" fill="#4c66b8"/>
<rect x="100" y="373.73" width="8.50" height="0.85" fill="#f4d25c"/>
<rect x="124.6" y="373.73" width="16.90" height="0.85" fill="#f4d25c"/>
<rect x="150.8" y="373.73" width="3.00" height="0.85" fill="#f4d25c"/>
<rect x="153.8" y="373.68" width="32.20" height="0.95" fill="#4c66b8"/>
<text x="64.00" y="378.17" font-size="2.1" fill="#222" font-weight="bold" textLength="14.60" lengthAdjust="spacingAndGlyphs" stroke="#222" stroke-width="0.06">Potri.002G124100</text>
<line x1="86.2" y1="377.42" x2="158.5" y2="377.42" stroke="#bcbcbc" stroke-width="0.5"/>
<rect x="86.2" y="376.94" width="6.80" height="0.95" fill="#4c66b8"/>
<rect x="93" y="376.99" width="8.50" height="0.85" fill="#f4d25c"/>
<rect x="115.4" y="376.99" width="24.60" height="0.85" fill="#f4d25c"/>
<rect x="140" y="376.94" width="18.50" height="0.95" fill="#4c66b8"/>
<text x="64.00" y="381.43" font-size="2.1" fill="#222" font-weight="bold" textLength="14.60" lengthAdjust="spacingAndGlyphs" stroke="#222" stroke-width="0.06">Potri.004G051600</text>
<line x1="86.2" y1="380.68" x2="195.8" y2="380.68" stroke="#bcbcbc" stroke-width="0.5"/>
<rect x="86.2" y="380.25" width="5.30" height="0.85" fill="#f4d25c"/>
<rect x="110.8" y="380.25" width="35.20" height="0.85" fill="#f4d25c"/>
<rect x="165.4" y="380.25" width="10.60" height="0.85" fill="#f4d25c"/>
<rect x="180.8" y="380.20" width="15.00" height="0.95" fill="#4c66b8"/>
<text x="64.00" y="384.69" font-size="2.1" fill="#222" font-weight="bold" textLength="14.60" lengthAdjust="spacingAndGlyphs" stroke="#222" stroke-width="0.06">Potri.005G101800</text>
<line x1="86.2" y1="383.94" x2="217.7" y2="383.94" stroke="#bcbcbc" stroke-width="0.5"/>
<rect x="86.2" y="383.46" width="9.20" height="0.95" fill="#4c66b8"/>
<rect x="95.4" y="383.51" width="10.00" height="0.85" fill="#f4d25c"/>
<rect x="136" y="383.51" width="14.80" height="0.85" fill="#f4d25c"/>
<rect x="192.3" y="383.51" width="3.10" height="0.85" fill="#f4d25c"/>
<rect x="195.4" y="383.46" width="22.30" height="0.95" fill="#4c66b8"/>
<text x="64.00" y="387.95" font-size="2.1" fill="#222" font-weight="bold" textLength="14.60" lengthAdjust="spacingAndGlyphs" stroke="#222" stroke-width="0.06">Potri.005G114700</text>
<line x1="86.2" y1="387.20" x2="162.6" y2="387.20" stroke="#bcbcbc" stroke-width="0.5"/>
<rect x="86.2" y="386.77" width="16.80" height="0.85" fill="#f4d25c"/>
<rect x="109" y="386.77" width="5.60" height="0.85" fill="#f4d25c"/>
<rect x="138.5" y="386.77" width="13.80" height="0.85" fill="#f4d25c"/>
<rect x="152.3" y="386.72" width="10.30" height="0.95" fill="#4c66b8"/>
<text x="64.00" y="391.21" font-size="2.1" fill="#222" font-weight="bold" textLength="14.60" lengthAdjust="spacingAndGlyphs" stroke="#222" stroke-width="0.06">Potri.005G252800</text>
<line x1="86.2" y1="390.46" x2="180.8" y2="390.46" stroke="#bcbcbc" stroke-width="0.5"/>
<rect x="86.2" y="389.98" width="11.50" height="0.95" fill="#4c66b8"/>
<rect x="97.7" y="390.03" width="6.90" height="0.85" fill="#f4d25c"/>
<rect x="127.7" y="390.03" width="18.30" height="0.85" fill="#f4d25c"/>
<rect x="153.8" y="390.03" width="3.90" height="0.85" fill="#f4d25c"/>
<rect x="157.7" y="389.98" width="23.10" height="0.95" fill="#4c66b8"/>
<text x="64.00" y="394.47" font-size="2.1" fill="#222" font-weight="bold" textLength="14.60" lengthAdjust="spacingAndGlyphs" stroke="#222" stroke-width="0.06">Potri.007G012100</text>
<line x1="86.2" y1="393.72" x2="147.7" y2="393.72" stroke="#bcbcbc" stroke-width="0.5"/>
<rect x="86.2" y="393.29" width="15.30" height="0.85" fill="#f4d25c"/>
<rect x="108.5" y="393.29" width="4.50" height="0.85" fill="#f4d25c"/>
<rect x="127.7" y="393.29" width="20.00" height="0.85" fill="#f4d25c"/>
<text x="64.00" y="397.73" font-size="2.1" fill="#222" font-weight="bold" textLength="14.60" lengthAdjust="spacingAndGlyphs" stroke="#222" stroke-width="0.06">Potri.008G065400</text>
<line x1="86.2" y1="396.98" x2="115.4" y2="396.98" stroke="#bcbcbc" stroke-width="0.5"/>
<rect x="86.2" y="396.55" width="14.60" height="0.85" fill="#f4d25c"/>
<rect x="107.7" y="396.55" width="7.70" height="0.85" fill="#f4d25c"/>
<text x="64.00" y="400.99" font-size="2.1" fill="#222" font-weight="bold" textLength="14.60" lengthAdjust="spacingAndGlyphs" stroke="#222" stroke-width="0.06">Potri.009G028200</text>
<line x1="86.2" y1="400.24" x2="149" y2="400.24" stroke="#bcbcbc" stroke-width="0.5"/>
<rect x="86.2" y="399.81" width="16.80" height="0.85" fill="#f4d25c"/>
<rect x="129" y="399.81" width="20.00" height="0.85" fill="#f4d25c"/>
<text x="64.00" y="404.25" font-size="2.1" fill="#222" font-weight="bold" textLength="14.60" lengthAdjust="spacingAndGlyphs" stroke="#222" stroke-width="0.06">Potri.010G111400</text>
<line x1="86.2" y1="403.50" x2="165.4" y2="403.50" stroke="#bcbcbc" stroke-width="0.5"/>
<rect x="86.2" y="403.07" width="5.30" height="0.85" fill="#f4d25c"/>
<rect x="98.5" y="403.07" width="13.80" height="0.85" fill="#f4d25c"/>
<rect x="126" y="403.07" width="4.80" height="0.85" fill="#f4d25c"/>
<rect x="141.5" y="403.07" width="19.30" height="0.85" fill="#f4d25c"/>
<rect x="160.8" y="403.02" width="4.60" height="0.95" fill="#4c66b8"/>
<text x="64.00" y="407.51" font-size="2.1" fill="#222" font-weight="bold" textLength="14.60" lengthAdjust="spacingAndGlyphs" stroke="#222" stroke-width="0.06">Potri.010G192100</text>
<line x1="86.2" y1="406.76" x2="119" y2="406.76" stroke="#bcbcbc" stroke-width="0.5"/>
<rect x="86.2" y="406.28" width="3.80" height="0.95" fill="#4c66b8"/>
<rect x="90" y="406.33" width="13.00" height="0.85" fill="#f4d25c"/>
<rect x="110" y="406.33" width="9.00" height="0.85" fill="#f4d25c"/>
<text x="64.00" y="410.77" font-size="2.1" fill="#222" font-weight="bold" textLength="14.60" lengthAdjust="spacingAndGlyphs" stroke="#222" stroke-width="0.06">Potri.011G061400</text>
<line x1="86.2" y1="410.02" x2="197" y2="410.02" stroke="#bcbcbc" stroke-width="0.5"/>
<rect x="86.2" y="409.54" width="3.80" height="0.95" fill="#4c66b8"/>
<rect x="90" y="409.59" width="5.40" height="0.85" fill="#f4d25c"/>
<rect x="113" y="409.59" width="36.00" height="0.85" fill="#f4d25c"/>
<rect x="166" y="409.59" width="11.00" height="0.85" fill="#f4d25c"/>
<rect x="177" y="409.54" width="20.00" height="0.95" fill="#4c66b8"/>
<text x="64.00" y="414.03" font-size="2.1" fill="#222" font-weight="bold" textLength="14.60" lengthAdjust="spacingAndGlyphs" stroke="#222" stroke-width="0.06">Potri.012G047700</text>
<line x1="86.2" y1="413.28" x2="213.8" y2="413.28" stroke="#bcbcbc" stroke-width="0.5"/>
<rect x="86.2" y="412.80" width="12.30" height="0.95" fill="#4c66b8"/>
<rect x="98.5" y="412.85" width="10.50" height="0.85" fill="#f4d25c"/>
<rect x="112.3" y="412.85" width="20.00" height="0.85" fill="#f4d25c"/>
<rect x="173" y="412.85" width="26.00" height="0.85" fill="#f4d25c"/>
<rect x="199" y="412.80" width="14.80" height="0.95" fill="#4c66b8"/>
<text x="64.00" y="417.29" font-size="2.1" fill="#222" font-weight="bold" textLength="14.60" lengthAdjust="spacingAndGlyphs" stroke="#222" stroke-width="0.06">Potri.013G069900</text>
<line x1="86.2" y1="416.54" x2="162.3" y2="416.54" stroke="#bcbcbc" stroke-width="0.5"/>
<rect x="86.2" y="416.11" width="26.10" height="0.85" fill="#f4d25c"/>
<rect x="153" y="416.11" width="9.30" height="0.85" fill="#f4d25c"/>
<text x="64.00" y="420.55" font-size="2.1" fill="#222" font-weight="bold" textLength="14.60" lengthAdjust="spacingAndGlyphs" stroke="#222" stroke-width="0.06">Potri.014G025300</text>
<line x1="86.2" y1="419.80" x2="158.5" y2="419.80" stroke="#bcbcbc" stroke-width="0.5"/>
<rect x="86.2" y="419.32" width="1.50" height="0.95" fill="#4c66b8"/>
<rect x="87.7" y="419.37" width="15.30" height="0.85" fill="#f4d25c"/>
<rect x="108.5" y="419.37" width="11.50" height="0.85" fill="#f4d25c"/>
<rect x="127" y="419.37" width="7.00" height="0.85" fill="#f4d25c"/>
<rect x="134" y="419.32" width="24.50" height="0.95" fill="#4c66b8"/>
<text x="64.00" y="423.81" font-size="2.1" fill="#222" font-weight="bold" textLength="14.60" lengthAdjust="spacingAndGlyphs" stroke="#222" stroke-width="0.06">Potri.015G039100</text>
<line x1="86.2" y1="423.06" x2="217" y2="423.06" stroke="#bcbcbc" stroke-width="0.5"/>
<rect x="86.2" y="422.58" width="12.30" height="0.95" fill="#4c66b8"/>
<rect x="98.5" y="422.63" width="8.30" height="0.85" fill="#f4d25c"/>
<rect x="108.5" y="422.63" width="35.30" height="0.85" fill="#f4d25c"/>
<rect x="176" y="422.63" width="26.30" height="0.85" fill="#f4d25c"/>
<rect x="202.3" y="422.58" width="14.70" height="0.95" fill="#4c66b8"/>
<text x="64.00" y="427.07" font-size="2.1" fill="#222" font-weight="bold" textLength="14.60" lengthAdjust="spacingAndGlyphs" stroke="#222" stroke-width="0.06">Potri.019G040800</text>
<line x1="86.2" y1="426.32" x2="170" y2="426.32" stroke="#bcbcbc" stroke-width="0.5"/>
<rect x="86.2" y="425.89" width="14.60" height="0.85" fill="#f4d25c"/>
<rect x="110.8" y="425.89" width="39.20" height="0.85" fill="#f4d25c"/>
<rect x="160.8" y="425.89" width="9.20" height="0.85" fill="#f4d25c"/>
<line x1="84.6" y1="428.9" x2="218" y2="428.9" stroke="#9a9a9a" stroke-width="0.35"/>
<path d="M218,428.09999999999997 L219.4,428.9 L218,429.7 Z" fill="#888"/>
<path d="M84.6,428.9 v-1.2" stroke="#9a9a9a" stroke-width="0.35"/>
<line x1="86.2" y1="428.9" x2="86.2" y2="429.7" stroke="#9a9a9a" stroke-width="0.3"/>
<text x="86.40" y="431.50" font-size="2.1" fill="#444" textLength="1.60" lengthAdjust="spacingAndGlyphs" stroke="#444" stroke-width="0.06">5'</text>
<line x1="109.80000000000001" y1="428.9" x2="109.80000000000001" y2="429.7" stroke="#9a9a9a" stroke-width="0.3"/>
<text x="110.00" y="431.50" font-size="2.1" fill="#444" textLength="4.60" lengthAdjust="spacingAndGlyphs" stroke="#444" stroke-width="0.06">1kbp</text>
<line x1="133.4" y1="428.9" x2="133.4" y2="429.7" stroke="#9a9a9a" stroke-width="0.3"/>
<text x="133.60" y="431.50" font-size="2.1" fill="#444" textLength="4.60" lengthAdjust="spacingAndGlyphs" stroke="#444" stroke-width="0.06">2kbp</text>
<line x1="157.0" y1="428.9" x2="157.0" y2="429.7" stroke="#9a9a9a" stroke-width="0.3"/>
<text x="157.20" y="431.50" font-size="2.1" fill="#444" textLength="4.60" lengthAdjust="spacingAndGlyphs" stroke="#444" stroke-width="0.06">3kbp</text>
<line x1="180.60000000000002" y1="428.9" x2="180.60000000000002" y2="429.7" stroke="#9a9a9a" stroke-width="0.3"/>
<text x="180.80" y="431.50" font-size="2.1" fill="#444" textLength="4.60" lengthAdjust="spacingAndGlyphs" stroke="#444" stroke-width="0.06">4kbp</text>
<line x1="204.2" y1="428.9" x2="204.2" y2="429.7" stroke="#9a9a9a" stroke-width="0.3"/>
<text x="204.40" y="431.50" font-size="2.1" fill="#444" textLength="4.60" lengthAdjust="spacingAndGlyphs" stroke="#444" stroke-width="0.06">5kbp</text>
<text x="64.00" y="435.10" font-size="2.4" fill="#222" font-weight="bold" textLength="7.20" lengthAdjust="spacingAndGlyphs" stroke="#222" stroke-width="0.06">Legend:</text>
<rect x="64.7" y="436.9" width="3.2" height="0.8" fill="#f3d468"/>
<text x="69.20" y="438.10" font-size="2.1" fill="#333" textLength="2.90" lengthAdjust="spacingAndGlyphs" stroke="#333" stroke-width="0.06">CDS</text>
<rect x="76.2" y="436.85" width="2.8" height="0.9" fill="#4c66b8"/>
<text x="80.20" y="438.10" font-size="2.1" fill="#333" textLength="16.20" lengthAdjust="spacingAndGlyphs" stroke="#333" stroke-width="0.06">upstream/ downstream</text>
<rect x="102.4" y="437.0" width="2.4" height="0.6" fill="#bdbdbd"/>
<text x="106.00" y="438.10" font-size="2.1" fill="#333" textLength="3.90" lengthAdjust="spacingAndGlyphs" stroke="#333" stroke-width="0.06">Intron</text>
<circle cx="8.5" cy="445.5" r="1.9" fill="#82c341"/>
<circle cx="8.5" cy="445.5" r="0.85" fill="#e6f4cf"/>
<circle cx="8.5" cy="445.5" r="1.9" fill="none" stroke="#6aa32d" stroke-width="0.35"/>
<text x="12.00" y="446.85" font-size="3.9" fill="#111" font-weight="bold" textLength="22.60" lengthAdjust="spacingAndGlyphs" stroke="#111" stroke-width="0.06">Exon Number</text>
<text x="47.50" y="446.85" font-size="3.9" fill="#e8231a" font-weight="bold" textLength="16.50" lengthAdjust="spacingAndGlyphs" stroke="#e8231a" stroke-width="0.06">details.!!!</text>
<rect x="47.5" y="447.3" width="16.5" height="0.35" fill="#e8231a"/>
<line x1="79.0" y1="459" x2="79.0" y2="529.4" stroke="#c4c4c4" stroke-width="0.4" stroke-dasharray="0.7 0.5"/>
<line x1="79.0" y1="529.4" x2="208" y2="529.4" stroke="#c4c4c4" stroke-width="0.4" stroke-dasharray="0.7 0.5"/>
<line x1="77.8" y1="529.40" x2="79.0" y2="529.40" stroke="#a8a8a8" stroke-width="0.35"/>
<text x="75.80" y="530.95" font-size="4.5" fill="#333" text-anchor="end" stroke="#333" stroke-width="0.06">0</text>
<line x1="77.8" y1="521.60" x2="79.0" y2="521.60" stroke="#a8a8a8" stroke-width="0.35"/>
<text x="75.80" y="523.15" font-size="4.5" fill="#333" text-anchor="end" stroke="#333" stroke-width="0.06">1</text>
<line x1="77.8" y1="513.80" x2="79.0" y2="513.80" stroke="#a8a8a8" stroke-width="0.35"/>
<text x="75.80" y="515.35" font-size="4.5" fill="#333" text-anchor="end" stroke="#333" stroke-width="0.06">2</text>
<line x1="77.8" y1="506.00" x2="79.0" y2="506.00" stroke="#a8a8a8" stroke-width="0.35"/>
<text x="75.80" y="507.55" font-size="4.5" fill="#333" text-anchor="end" stroke="#333" stroke-width="0.06">3</text>
<line x1="77.8" y1="498.20" x2="79.0" y2="498.20" stroke="#a8a8a8" stroke-width="0.35"/>
<text x="75.80" y="499.75" font-size="4.5" fill="#333" text-anchor="end" stroke="#333" stroke-width="0.06">4</text>
<line x1="77.8" y1="490.40" x2="79.0" y2="490.40" stroke="#a8a8a8" stroke-width="0.35"/>
<text x="75.80" y="491.95" font-size="4.5" fill="#333" text-anchor="end" stroke="#333" stroke-width="0.06">5</text>
<line x1="77.8" y1="482.60" x2="79.0" y2="482.60" stroke="#a8a8a8" stroke-width="0.35"/>
<text x="75.80" y="484.15" font-size="4.5" fill="#333" text-anchor="end" stroke="#333" stroke-width="0.06">6</text>
<line x1="77.8" y1="474.80" x2="79.0" y2="474.80" stroke="#a8a8a8" stroke-width="0.35"/>
<text x="75.80" y="476.35" font-size="4.5" fill="#333" text-anchor="end" stroke="#333" stroke-width="0.06">7</text>
<line x1="77.8" y1="467.00" x2="79.0" y2="467.00" stroke="#a8a8a8" stroke-width="0.35"/>
<text x="75.80" y="468.55" font-size="4.5" fill="#333" text-anchor="end" stroke="#333" stroke-width="0.06">8</text>
<line x1="77.8" y1="459.20" x2="79.0" y2="459.20" stroke="#a8a8a8" stroke-width="0.35"/>
<text x="75.80" y="460.75" font-size="4.5" fill="#333" text-anchor="end" stroke="#333" stroke-width="0.06">9</text>
<line x1="79.00" y1="529.4" x2="79.00" y2="530.6" stroke="#a8a8a8" stroke-width="0.35"/>
<text x="79.00" y="537.10" font-size="4.5" fill="#333" text-anchor="middle" stroke="#333" stroke-width="0.06">0</text>
<line x1="93.20" y1="529.4" x2="93.20" y2="530.6" stroke="#a8a8a8" stroke-width="0.35"/>
<text x="93.20" y="537.10" font-size="4.5" fill="#333" text-anchor="middle" stroke="#333" stroke-width="0.06">0.5</text>
<line x1="107.40" y1="529.4" x2="107.40" y2="530.6" stroke="#a8a8a8" stroke-width="0.35"/>
<text x="107.40" y="537.10" font-size="4.5" fill="#333" text-anchor="middle" stroke="#333" stroke-width="0.06">1</text>
<line x1="121.60" y1="529.4" x2="121.60" y2="530.6" stroke="#a8a8a8" stroke-width="0.35"/>
<text x="121.60" y="537.10" font-size="4.5" fill="#333" text-anchor="middle" stroke="#333" stroke-width="0.06">1.5</text>
<line x1="135.80" y1="529.4" x2="135.80" y2="530.6" stroke="#a8a8a8" stroke-width="0.35"/>
<text x="135.80" y="537.10" font-size="4.5" fill="#333" text-anchor="middle" stroke="#333" stroke-width="0.06">2</text>
<line x1="150.00" y1="529.4" x2="150.00" y2="530.6" stroke="#a8a8a8" stroke-width="0.35"/>
<text x="150.00" y="537.10" font-size="4.5" fill="#333" text-anchor="middle" stroke="#333" stroke-width="0.06">2.5</text>
<line x1="164.20" y1="529.4" x2="164.20" y2="530.6" stroke="#a8a8a8" stroke-width="0.35"/>
<text x="164.20" y="537.10" font-size="4.5" fill="#333" text-anchor="middle" stroke="#333" stroke-width="0.06">3</text>
<line x1="178.40" y1="529.4" x2="178.40" y2="530.6" stroke="#a8a8a8" stroke-width="0.35"/>
<text x="178.40" y="537.10" font-size="4.5" fill="#333" text-anchor="middle" stroke="#333" stroke-width="0.06">3.5</text>
<line x1="192.60" y1="529.4" x2="192.60" y2="530.6" stroke="#a8a8a8" stroke-width="0.35"/>
<text x="192.60" y="537.10" font-size="4.5" fill="#333" text-anchor="middle" stroke="#333" stroke-width="0.06">4</text>
<line x1="206.80" y1="529.4" x2="206.80" y2="530.6" stroke="#a8a8a8" stroke-width="0.35"/>
<text x="206.80" y="537.10" font-size="4.5" fill="#333" text-anchor="middle" stroke="#333" stroke-width="0.06">4.5</text>
<polyline points="107.40,529.40 135.80,490.40 164.20,467.00 192.60,490.40" fill="none" stroke="#c4602a" stroke-width="1.0" stroke-linejoin="round"/>
<circle cx="107.40" cy="529.40" r="0.55" fill="#f0c030"/>
<circle cx="135.80" cy="490.40" r="0.55" fill="#f0c030"/>
<circle cx="164.20" cy="467.00" r="0.55" fill="#f0c030"/>
<circle cx="192.60" cy="490.40" r="0.55" fill="#f0c030"/>
<text x="148.00" y="544.20" font-size="4.1" fill="#333" text-anchor="middle" textLength="51.00" lengthAdjust="spacingAndGlyphs" stroke="#333" stroke-width="0.06">Number of exons per gene</text>
<text x="63.60" y="489.00" font-size="4.3" fill="#333" text-anchor="middle" textLength="33.50" lengthAdjust="spacingAndGlyphs" transform="rotate(-90 63.60 489.00)" stroke="#333" stroke-width="0.06">Number of genes</text>
<circle cx="8.5" cy="550.8" r="1.9" fill="#82c341"/>
<circle cx="8.5" cy="550.8" r="0.85" fill="#e6f4cf"/>
<circle cx="8.5" cy="550.8" r="1.9" fill="none" stroke="#6aa32d" stroke-width="0.35"/>
<text x="12.00" y="552.15" font-size="3.9" fill="#111" font-weight="bold" textLength="58.30" lengthAdjust="spacingAndGlyphs" stroke="#111" stroke-width="0.06">Distribution of Isoelectric Point (PI)</text>
<text x="84.00" y="552.15" font-size="3.9" fill="#e8231a" font-weight="bold" textLength="16.30" lengthAdjust="spacingAndGlyphs" stroke="#e8231a" stroke-width="0.06">details.!!!</text>
<line x1="82.8" y1="562" x2="82.8" y2="645.7" stroke="#a8a8a8" stroke-width="0.4"/>
<line x1="82.8" y1="645.7" x2="213.5" y2="645.7" stroke="#a8a8a8" stroke-width="0.4"/>
<line x1="81.6" y1="645.70" x2="82.8" y2="645.70" stroke="#a8a8a8" stroke-width="0.35"/>
<text x="80.40" y="647.15" font-size="4.0" fill="#333" text-anchor="end" stroke="#333" stroke-width="0.06">0</text>
<line x1="81.6" y1="636.60" x2="82.8" y2="636.60" stroke="#a8a8a8" stroke-width="0.35"/>
<text x="80.40" y="638.05" font-size="4.0" fill="#333" text-anchor="end" stroke="#333" stroke-width="0.06">0.5</text>
<line x1="81.6" y1="627.50" x2="82.8" y2="627.50" stroke="#a8a8a8" stroke-width="0.35"/>
<text x="80.40" y="628.95" font-size="4.0" fill="#333" text-anchor="end" stroke="#333" stroke-width="0.06">1</text>
<line x1="81.6" y1="618.40" x2="82.8" y2="618.40" stroke="#a8a8a8" stroke-width="0.35"/>
<text x="80.40" y="619.85" font-size="4.0" fill="#333" text-anchor="end" stroke="#333" stroke-width="0.06">1.5</text>
<line x1="81.6" y1="609.30" x2="82.8" y2="609.30" stroke="#a8a8a8" stroke-width="0.35"/>
<text x="80.40" y="610.75" font-size="4.0" fill="#333" text-anchor="end" stroke="#333" stroke-width="0.06">2</text>
<line x1="81.6" y1="600.20" x2="82.8" y2="600.20" stroke="#a8a8a8" stroke-width="0.35"/>
<text x="80.40" y="601.65" font-size="4.0" fill="#333" text-anchor="end" stroke="#333" stroke-width="0.06">2.5</text>
<line x1="81.6" y1="591.10" x2="82.8" y2="591.10" stroke="#a8a8a8" stroke-width="0.35"/>
<text x="80.40" y="592.55" font-size="4.0" fill="#333" text-anchor="end" stroke="#333" stroke-width="0.06">3</text>
<line x1="81.6" y1="582.00" x2="82.8" y2="582.00" stroke="#a8a8a8" stroke-width="0.35"/>
<text x="80.40" y="583.45" font-size="4.0" fill="#333" text-anchor="end" stroke="#333" stroke-width="0.06">3.5</text>
<line x1="81.6" y1="572.90" x2="82.8" y2="572.90" stroke="#a8a8a8" stroke-width="0.35"/>
<text x="80.40" y="574.35" font-size="4.0" fill="#333" text-anchor="end" stroke="#333" stroke-width="0.06">4</text>
<line x1="81.6" y1="563.80" x2="82.8" y2="563.80" stroke="#a8a8a8" stroke-width="0.35"/>
<text x="80.40" y="565.25" font-size="4.0" fill="#333" text-anchor="end" stroke="#333" stroke-width="0.06">4.5</text>
<line x1="82.80" y1="645.7" x2="82.80" y2="646.9000000000001" stroke="#a8a8a8" stroke-width="0.35"/>
<text x="82.80" y="651.10" font-size="3.9" fill="#333" text-anchor="middle" stroke="#333" stroke-width="0.06">3</text>
<line x1="102.80" y1="645.7" x2="102.80" y2="646.9000000000001" stroke="#a8a8a8" stroke-width="0.35"/>
<text x="102.80" y="651.10" font-size="3.9" fill="#333" text-anchor="middle" stroke="#333" stroke-width="0.06">4</text>
<line x1="122.80" y1="645.7" x2="122.80" y2="646.9000000000001" stroke="#a8a8a8" stroke-width="0.35"/>
<text x="122.80" y="651.10" font-size="3.9" fill="#333" text-anchor="middle" stroke="#333" stroke-width="0.06">5</text>
<line x1="142.80" y1="645.7" x2="142.80" y2="646.9000000000001" stroke="#a8a8a8" stroke-width="0.35"/>
<text x="142.80" y="651.10" font-size="3.9" fill="#333" text-anchor="middle" stroke="#333" stroke-width="0.06">6</text>
<line x1="162.80" y1="645.7" x2="162.80" y2="646.9000000000001" stroke="#a8a8a8" stroke-width="0.35"/>
<text x="162.80" y="651.10" font-size="3.9" fill="#333" text-anchor="middle" stroke="#333" stroke-width="0.06">7</text>
<line x1="182.80" y1="645.7" x2="182.80" y2="646.9000000000001" stroke="#a8a8a8" stroke-width="0.35"/>
<text x="182.80" y="651.10" font-size="3.9" fill="#333" text-anchor="middle" stroke="#333" stroke-width="0.06">8</text>
<line x1="202.80" y1="645.7" x2="202.80" y2="646.9000000000001" stroke="#a8a8a8" stroke-width="0.35"/>
<text x="202.80" y="651.10" font-size="3.9" fill="#333" text-anchor="middle" stroke="#333" stroke-width="0.06">9</text>
<rect x="132.2" y="627.50" width="4.95" height="18.20" fill="#213b74"/>
<rect x="137.1" y="572.90" width="4.95" height="72.80" fill="#426b30"/>
<rect x="146.9" y="627.50" width="4.95" height="18.20" fill="#f0a37c"/>
<rect x="151.8" y="609.30" width="4.95" height="36.40" fill="#b3b3b3"/>
<rect x="156.8" y="609.30" width="4.95" height="36.40" fill="#f6c344"/>
<rect x="161.7" y="627.50" width="4.95" height="18.20" fill="#5d91d7"/>
<rect x="176.5" y="627.50" width="4.95" height="18.20" fill="#c9642b"/>
<rect x="191.5" y="609.30" width="4.95" height="36.40" fill="#2f56a5"/>
<rect x="201.7" y="627.50" width="4.95" height="18.20" fill="#8fbfe9"/>
<rect x="206.6" y="591.10" width="4.95" height="54.60" fill="#f1ac8a"/>
<text x="151.00" y="658.50" font-size="3.7" fill="#333" text-anchor="middle" textLength="16.50" lengthAdjust="spacingAndGlyphs" stroke="#333" stroke-width="0.06">Class of PI</text>
<text x="67.20" y="602.80" font-size="4.3" fill="#333" text-anchor="middle" textLength="33.50" lengthAdjust="spacingAndGlyphs" transform="rotate(-90 67.20 602.80)" stroke="#333" stroke-width="0.06">Number of genes</text>
<circle cx="8.5" cy="665.5" r="1.9" fill="#82c341"/>
<circle cx="8.5" cy="665.5" r="0.85" fill="#e6f4cf"/>
<circle cx="8.5" cy="665.5" r="1.9" fill="none" stroke="#6aa32d" stroke-width="0.35"/>
<text x="12.00" y="666.85" font-size="3.9" fill="#111" font-weight="bold" textLength="62.50" lengthAdjust="spacingAndGlyphs" stroke="#111" stroke-width="0.06">Distribution of Molecular Weight (Mw)</text>
<text x="88.00" y="666.85" font-size="3.9" fill="#e8231a" font-weight="bold" textLength="16.30" lengthAdjust="spacingAndGlyphs" stroke="#e8231a" stroke-width="0.06">details.!!!</text>
<line x1="77.6" y1="675.5" x2="77.6" y2="758.8" stroke="#a8a8a8" stroke-width="0.4"/>
<line x1="77.6" y1="758.8" x2="205" y2="758.8" stroke="#a8a8a8" stroke-width="0.4"/>
<line x1="76.39999999999999" y1="758.80" x2="77.6" y2="758.80" stroke="#a8a8a8" stroke-width="0.35"/>
<text x="75.20" y="760.30" font-size="4.1" fill="#333" text-anchor="end" stroke="#333" stroke-width="0.06">0</text>
<line x1="76.39999999999999" y1="749.75" x2="77.6" y2="749.75" stroke="#a8a8a8" stroke-width="0.35"/>
<text x="75.20" y="751.25" font-size="4.1" fill="#333" text-anchor="end" stroke="#333" stroke-width="0.06">0.5</text>
<line x1="76.39999999999999" y1="740.70" x2="77.6" y2="740.70" stroke="#a8a8a8" stroke-width="0.35"/>
<text x="75.20" y="742.20" font-size="4.1" fill="#333" text-anchor="end" stroke="#333" stroke-width="0.06">1</text>
<line x1="76.39999999999999" y1="731.65" x2="77.6" y2="731.65" stroke="#a8a8a8" stroke-width="0.35"/>
<text x="75.20" y="733.15" font-size="4.1" fill="#333" text-anchor="end" stroke="#333" stroke-width="0.06">1.5</text>
<line x1="76.39999999999999" y1="722.60" x2="77.6" y2="722.60" stroke="#a8a8a8" stroke-width="0.35"/>
<text x="75.20" y="724.10" font-size="4.1" fill="#333" text-anchor="end" stroke="#333" stroke-width="0.06">2</text>
<line x1="76.39999999999999" y1="713.55" x2="77.6" y2="713.55" stroke="#a8a8a8" stroke-width="0.35"/>
<text x="75.20" y="715.05" font-size="4.1" fill="#333" text-anchor="end" stroke="#333" stroke-width="0.06">2.5</text>
<line x1="76.39999999999999" y1="704.50" x2="77.6" y2="704.50" stroke="#a8a8a8" stroke-width="0.35"/>
<text x="75.20" y="706.00" font-size="4.1" fill="#333" text-anchor="end" stroke="#333" stroke-width="0.06">3</text>
<line x1="76.39999999999999" y1="695.45" x2="77.6" y2="695.45" stroke="#a8a8a8" stroke-width="0.35"/>
<text x="75.20" y="696.95" font-size="4.1" fill="#333" text-anchor="end" stroke="#333" stroke-width="0.06">3.5</text>
<line x1="76.39999999999999" y1="686.40" x2="77.6" y2="686.40" stroke="#a8a8a8" stroke-width="0.35"/>
<text x="75.20" y="687.90" font-size="4.1" fill="#333" text-anchor="end" stroke="#333" stroke-width="0.06">4</text>
<line x1="76.39999999999999" y1="677.35" x2="77.6" y2="677.35" stroke="#a8a8a8" stroke-width="0.35"/>
<text x="75.20" y="678.85" font-size="4.1" fill="#333" text-anchor="end" stroke="#333" stroke-width="0.06">4.5</text>
<line x1="77.60" y1="758.8" x2="77.60" y2="760.0" stroke="#a8a8a8" stroke-width="0.35"/>
<text x="77.10" y="764.80" font-size="4.1" fill="#333" text-anchor="middle" stroke="#333" stroke-width="0.06">17</text>
<line x1="105.74" y1="758.8" x2="105.74" y2="760.0" stroke="#a8a8a8" stroke-width="0.35"/>
<text x="105.24" y="764.80" font-size="4.1" fill="#333" text-anchor="middle" stroke="#333" stroke-width="0.06">23</text>
<line x1="133.88" y1="758.8" x2="133.88" y2="760.0" stroke="#a8a8a8" stroke-width="0.35"/>
<text x="133.38" y="764.80" font-size="4.1" fill="#333" text-anchor="middle" stroke="#333" stroke-width="0.06">29</text>
<line x1="162.02" y1="758.8" x2="162.02" y2="760.0" stroke="#a8a8a8" stroke-width="0.35"/>
<text x="161.52" y="764.80" font-size="4.1" fill="#333" text-anchor="middle" stroke="#333" stroke-width="0.06">35</text>
<line x1="190.16" y1="758.8" x2="190.16" y2="760.0" stroke="#a8a8a8" stroke-width="0.35"/>
<text x="189.66" y="764.80" font-size="4.1" fill="#333" text-anchor="middle" stroke="#333" stroke-width="0.06">41</text>
<polygon points="77.60,758.80 82.29,758.80 86.98,758.80 91.67,740.70 96.36,758.80 101.05,740.70 105.74,758.80 110.43,758.80 115.12,686.40 119.81,740.70 124.50,758.80 129.19,704.50 133.88,740.70 138.57,740.70 143.26,740.70 147.95,758.80 152.64,758.80 157.33,758.80 162.02,758.80 166.71,740.70 171.40,758.80 176.09,758.80 180.78,758.80 185.47,758.80 190.16,758.80 194.85,740.70 199.54,740.70 204.23,722.60 204.23,758.8 77.6,758.8" fill="#bf561f"/>
<text x="157.00" y="774.50" font-size="5.3" fill="#333" text-anchor="middle" textLength="43.00" lengthAdjust="spacingAndGlyphs" stroke="#333" stroke-width="0.06">Class of Mw (kDa)</text>
<text x="62.20" y="708.80" font-size="6.0" fill="#333" text-anchor="middle" textLength="40.50" lengthAdjust="spacingAndGlyphs" transform="rotate(-90 62.20 708.80)" stroke="#333" stroke-width="0.06">Number of genes</text>
<circle cx="8.5" cy="781.8" r="1.9" fill="#82c341"/>
<circle cx="8.5" cy="781.8" r="0.85" fill="#e6f4cf"/>
<circle cx="8.5" cy="781.8" r="1.9" fill="none" stroke="#6aa32d" stroke-width="0.35"/>
<text x="12.00" y="783.15" font-size="3.9" fill="#111" font-weight="bold" textLength="49.00" lengthAdjust="spacingAndGlyphs" stroke="#111" stroke-width="0.06">Distribution of Protein Length</text>
<text x="75.00" y="783.15" font-size="3.9" fill="#e8231a" font-weight="bold" textLength="16.20" lengthAdjust="spacingAndGlyphs" stroke="#e8231a" stroke-width="0.06">details.!!!</text>
<line x1="77.4" y1="796" x2="77.4" y2="879.8" stroke="#cbcbcb" stroke-width="0.7"/>
<line x1="77.4" y1="880.0" x2="217" y2="880.0" stroke="#cbcbcb" stroke-width="0.7"/>
<line x1="76.2" y1="879.80" x2="77.4" y2="879.80" stroke="#a8a8a8" stroke-width="0.35"/>
<text x="73.40" y="881.35" font-size="4.4" fill="#333" text-anchor="end" stroke="#333" stroke-width="0.06">0</text>
<line x1="76.2" y1="866.06" x2="77.4" y2="866.06" stroke="#a8a8a8" stroke-width="0.35"/>
<text x="73.40" y="867.61" font-size="4.4" fill="#333" text-anchor="end" stroke="#333" stroke-width="0.06">2</text>
<line x1="76.2" y1="852.32" x2="77.4" y2="852.32" stroke="#a8a8a8" stroke-width="0.35"/>
<text x="73.40" y="853.87" font-size="4.4" fill="#333" text-anchor="end" stroke="#333" stroke-width="0.06">4</text>
<line x1="76.2" y1="838.58" x2="77.4" y2="838.58" stroke="#a8a8a8" stroke-width="0.35"/>
<text x="73.40" y="840.13" font-size="4.4" fill="#333" text-anchor="end" stroke="#333" stroke-width="0.06">6</text>
<line x1="76.2" y1="824.84" x2="77.4" y2="824.84" stroke="#a8a8a8" stroke-width="0.35"/>
<text x="73.40" y="826.39" font-size="4.4" fill="#333" text-anchor="end" stroke="#333" stroke-width="0.06">8</text>
<line x1="76.2" y1="811.10" x2="77.4" y2="811.10" stroke="#a8a8a8" stroke-width="0.35"/>
<text x="73.40" y="812.65" font-size="4.4" fill="#333" text-anchor="end" stroke="#333" stroke-width="0.06">10</text>
<line x1="76.2" y1="797.36" x2="77.4" y2="797.36" stroke="#a8a8a8" stroke-width="0.35"/>
<text x="73.40" y="798.91" font-size="4.4" fill="#333" text-anchor="end" stroke="#333" stroke-width="0.06">12</text>
<line x1="77.40" y1="879.8" x2="77.40" y2="881.0" stroke="#a8a8a8" stroke-width="0.35"/>
<text x="77.40" y="887.30" font-size="4.5" fill="#333" text-anchor="middle" stroke="#333" stroke-width="0.06">0</text>
<line x1="112.05" y1="879.8" x2="112.05" y2="881.0" stroke="#a8a8a8" stroke-width="0.35"/>
<text x="112.05" y="887.30" font-size="4.5" fill="#333" text-anchor="middle" stroke="#333" stroke-width="0.06">100</text>
<line x1="146.70" y1="879.8" x2="146.70" y2="881.0" stroke="#a8a8a8" stroke-width="0.35"/>
<text x="146.70" y="887.30" font-size="4.5" fill="#333" text-anchor="middle" stroke="#333" stroke-width="0.06">200</text>
<line x1="181.35" y1="879.8" x2="181.35" y2="881.0" stroke="#a8a8a8" stroke-width="0.35"/>
<text x="181.35" y="887.30" font-size="4.5" fill="#333" text-anchor="middle" stroke="#333" stroke-width="0.06">300</text>
<line x1="216.00" y1="879.8" x2="216.00" y2="881.0" stroke="#a8a8a8" stroke-width="0.35"/>
<text x="216.00" y="887.30" font-size="4.5" fill="#333" text-anchor="middle" stroke="#333" stroke-width="0.06">400</text>
<polygon points="112.05,879.80 146.70,866.06 181.35,804.23 216.00,845.45 216.00,879.80" fill="url(#plen)" stroke="#5ea651" stroke-width="0.3"/>
<text x="155.80" y="894.30" font-size="4.0" fill="#333" text-anchor="middle" textLength="37.50" lengthAdjust="spacingAndGlyphs" stroke="#333" stroke-width="0.06">Protein length (AA)</text>
<text x="63.80" y="838.50" font-size="4.3" fill="#333" text-anchor="middle" textLength="33.50" lengthAdjust="spacingAndGlyphs" transform="rotate(-90 63.80 838.50)" stroke="#333" stroke-width="0.06">Number of genes</text>
<circle cx="302.8" cy="45.0" r="1.9" fill="#82c341"/>
<circle cx="302.8" cy="45.0" r="0.85" fill="#e6f4cf"/>
<circle cx="302.8" cy="45.0" r="1.9" fill="none" stroke="#6aa32d" stroke-width="0.35"/>
<text x="306.20" y="46.35" font-size="3.9" fill="#111" font-weight="bold" textLength="29.80" lengthAdjust="spacingAndGlyphs" stroke="#111" stroke-width="0.06">Phylogenetic Tree</text>
<text x="437.70" y="73.70" font-size="3.6" fill="#111" textLength="33.30" lengthAdjust="spacingAndGlyphs" stroke="#111" stroke-width="0.06">Potri.010G192100.1</text>
<text x="440.60" y="80.66" font-size="3.6" fill="#111" textLength="33.30" lengthAdjust="spacingAndGlyphs" stroke="#111" stroke-width="0.06">Potri.008G065400.1</text>
<text x="455.00" y="87.62" font-size="3.6" fill="#111" textLength="33.30" lengthAdjust="spacingAndGlyphs" stroke="#111" stroke-width="0.06">Potri.007G012100.1</text>
<text x="456.50" y="94.58" font-size="3.6" fill="#111" textLength="33.30" lengthAdjust="spacingAndGlyphs" stroke="#111" stroke-width="0.06">Potri.005G114700.1</text>
<text x="454.00" y="101.54" font-size="3.6" fill="#111" textLength="33.30" lengthAdjust="spacingAndGlyphs" stroke="#111" stroke-width="0.06">Potri.015G039100.1</text>
<text x="454.00" y="108.50" font-size="3.6" fill="#111" textLength="33.30" lengthAdjust="spacingAndGlyphs" stroke="#111" stroke-width="0.06">Potri.012G047700.1</text>
<text x="453.70" y="115.46" font-size="3.6" fill="#111" textLength="33.30" lengthAdjust="spacingAndGlyphs" stroke="#111" stroke-width="0.06">Potri.010G111400.1</text>
<text x="440.60" y="122.42" font-size="3.6" fill="#111" textLength="33.30" lengthAdjust="spacingAndGlyphs" stroke="#111" stroke-width="0.06">Potri.002G124100.1</text>
<text x="441.20" y="129.38" font-size="3.6" fill="#111" textLength="33.30" lengthAdjust="spacingAndGlyphs" stroke="#111" stroke-width="0.06">Potri.014G025300.1</text>
<text x="450.80" y="136.34" font-size="3.6" fill="#111" textLength="33.30" lengthAdjust="spacingAndGlyphs" stroke="#111" stroke-width="0.06">Potri.009G028200.1</text>
<text x="450.80" y="143.30" font-size="3.6" fill="#111" textLength="33.30" lengthAdjust="spacingAndGlyphs" stroke="#111" stroke-width="0.06">Potri.001G237900.1</text>
<text x="473.50" y="150.26" font-size="3.6" fill="#111" textLength="33.30" lengthAdjust="spacingAndGlyphs" stroke="#111" stroke-width="0.06">Potri.002G008800.1</text>
<text x="472.30" y="157.22" font-size="3.6" fill="#111" textLength="33.30" lengthAdjust="spacingAndGlyphs" stroke="#111" stroke-width="0.06">Potri.005G252800.1</text>
<text x="472.30" y="164.18" font-size="3.6" fill="#111" textLength="33.30" lengthAdjust="spacingAndGlyphs" stroke="#111" stroke-width="0.06">Potri.005G101800.1</text>
<text x="481.20" y="171.14" font-size="3.6" fill="#111" textLength="33.30" lengthAdjust="spacingAndGlyphs" stroke="#111" stroke-width="0.06">Potri.004G051600.1</text>
<text x="478.30" y="178.10" font-size="3.6" fill="#111" textLength="33.30" lengthAdjust="spacingAndGlyphs" stroke="#111" stroke-width="0.06">Potri.011G061400.1</text>
<text x="474.80" y="185.06" font-size="3.6" fill="#111" textLength="33.30" lengthAdjust="spacingAndGlyphs" stroke="#111" stroke-width="0.06">Potri.013G069900.1</text>
<text x="473.30" y="192.02" font-size="3.6" fill="#111" textLength="33.30" lengthAdjust="spacingAndGlyphs" stroke="#111" stroke-width="0.06">Potri.019G040800.1</text>
<path d="M421.4,72.45 H435.8 M421.4,79.41 H438.7 M435.6,86.37 H453 M435.6,93.33 H454.6 M429.5,100.29 H452.3 M429.5,107.25 H452.3 M382.9,114.21 H451.7 M432.3,121.17 H438.7 M432.3,128.13 H439.2 M420.6,135.09 H448.8 M420.6,142.05 H448.8 M455.6,149.01 H471.5 M455.6,155.97 H470.4 M427.8,162.93 H470.4 M458.1,169.89 H479.2 M458.1,176.85 H476.7 M459.4,183.81 H472.9 M459.4,190.77 H471.5 M421.4,72.45 V79.41 M370.7,75.93 H421.4 M435.6,86.37 V93.33 M370.7,89.85 H435.6 M370.7,75.93 V89.85 M363.1,82.89 H370.7 M429.5,100.29 V107.25 M382.9,103.77 H429.5 M382.9,103.77 V114.21 M364.5,108.99 H382.9 M432.3,121.17 V128.13 M369.9,124.65 H432.3 M420.6,135.09 V142.05 M369.9,138.57 H420.6 M369.9,124.65 V138.57 M364.5,131.61 H369.9 M364.5,108.99 V131.61 M363.1,120.30 H364.5 M455.6,149.01 V155.97 M427.8,152.49 H455.6 M427.8,152.49 V162.93 M378.5,157.71 H427.8 M458.1,169.89 V176.85 M405.3,173.37 H458.1 M459.4,183.81 V190.77 M405.3,187.29 H459.4 M405.3,173.37 V187.29 M378.5,180.33 H405.3 M378.5,157.71 V180.33 M363.1,169.02 H378.5 M363.1,82.89 V169.02" stroke="#222" stroke-width="0.46" fill="none"/>
<text x="420.80" y="73.05" font-size="3.15" fill="#222" text-anchor="end" stroke="#222" stroke-width="0.06">1000</text>
<text x="435.00" y="93.75" font-size="3.15" fill="#222" text-anchor="end" stroke="#222" stroke-width="0.06">1000</text>
<text x="370.00" y="81.69" font-size="3.15" fill="#222" text-anchor="end" stroke="#222" stroke-width="0.06">831</text>
<text x="428.90" y="102.57" font-size="3.15" fill="#222" text-anchor="end" stroke="#222" stroke-width="0.06">1000</text>
<text x="382.20" y="107.79" font-size="3.15" fill="#222" text-anchor="end" stroke="#222" stroke-width="0.06">1000</text>
<text x="431.60" y="123.45" font-size="3.15" fill="#222" text-anchor="end" stroke="#222" stroke-width="0.06">1000</text>
<text x="420.00" y="142.47" font-size="3.15" fill="#222" text-anchor="end" stroke="#222" stroke-width="0.06">1000</text>
<text x="368.80" y="135.01" font-size="3.15" fill="#222" text-anchor="end" stroke="#222" stroke-width="0.06">816</text>
<text x="363.20" y="124.50" font-size="3.15" fill="#222" text-anchor="end" stroke="#222" stroke-width="0.06">979</text>
<text x="455.00" y="151.49" font-size="3.15" fill="#222" text-anchor="end" stroke="#222" stroke-width="0.06">1000</text>
<text x="427.20" y="156.51" font-size="3.15" fill="#222" text-anchor="end" stroke="#222" stroke-width="0.06">1000</text>
<text x="457.40" y="172.17" font-size="3.15" fill="#222" text-anchor="end" stroke="#222" stroke-width="0.06">1000</text>
<text x="458.70" y="191.19" font-size="3.15" fill="#222" text-anchor="end" stroke="#222" stroke-width="0.06">1000</text>
<text x="404.70" y="184.23" font-size="3.15" fill="#222" text-anchor="end" stroke="#222" stroke-width="0.06">1000</text>
<text x="377.80" y="172.92" font-size="3.15" fill="#222" text-anchor="end" stroke="#222" stroke-width="0.06">1000</text>
<path d="M372.9,201.6 H398 M372.9,200.7 v1.8 M398,200.7 v1.8" stroke="#333" stroke-width="0.38" fill="none"/>
<text x="385.40" y="206.30" font-size="3.0" fill="#222" text-anchor="middle" stroke="#222" stroke-width="0.06">0.1</text>
<circle cx="302.7" cy="213.5" r="1.9" fill="#82c341"/>
<circle cx="302.7" cy="213.5" r="0.85" fill="#e6f4cf"/>
<circle cx="302.7" cy="213.5" r="1.9" fill="none" stroke="#6aa32d" stroke-width="0.35"/>
<text x="305.80" y="214.85" font-size="3.9" fill="#111" font-weight="bold" textLength="22.40" lengthAdjust="spacingAndGlyphs" stroke="#111" stroke-width="0.06">Microsynteny</text>
<text x="341.90" y="214.85" font-size="3.9" fill="#e8231a" font-weight="bold" textLength="16.30" lengthAdjust="spacingAndGlyphs" stroke="#e8231a" stroke-width="0.06">details.!!!</text>
<path d="M416.01,360.34 A51.6,51.6 0 0 1 404.74,353.47 Q434.95,313.85 387.40,298.98 A51.6,51.6 0 0 1 391.44,288.98 Q435.34,313.77 416.01,360.34 Z" fill="#c8c8c8" opacity="0.92"/>
<path d="M488.57,311.40 A51.6,51.6 0 0 1 488.40,317.70 Q437.16,313.94 391.87,338.22 A51.6,51.6 0 0 1 388.07,329.57 Q437.07,313.56 488.57,311.40 Z" fill="#c8c8c8" opacity="0.92"/>
<path d="M484.84,332.53 A51.6,51.6 0 0 1 477.66,344.97 Q444.18,325.63 444.18,364.30 A51.6,51.6 0 0 1 435.20,364.77 Q443.91,323.83 484.84,332.53 Z" fill="#c8c8c8" opacity="0.92"/>
<path d="M453.63,264.35 A51.6,51.6 0 0 1 459.21,266.63 Q437.34,313.31 428.22,364.05 A51.6,51.6 0 0 1 421.66,362.47 Q437.03,313.21 453.63,264.35 Z" fill="#c8c8c8" opacity="0.92"/>
<path d="M472.52,275.77 A51.6,51.6 0 0 1 477.94,281.79 Q452.11,317.29 456.50,360.97 A51.6,51.6 0 0 1 447.73,363.67 Q448.56,316.46 472.52,275.77 Z" fill="#c8c8c8" opacity="0.92"/>
<path d="M488.10,306.02 A51.6,51.6 0 0 1 488.36,308.25 Q436.99,313.10 385.41,314.28 A51.6,51.6 0 0 1 385.41,312.03 Q436.99,312.99 488.10,306.02 Z" fill="#c8c8c8" opacity="0.9"/>
<path d="M488.32,318.59 A51.6,51.6 0 0 1 488.16,319.94 Q437.00,313.52 385.76,319.31 A51.6,51.6 0 0 1 385.55,317.16 Q437.00,313.43 488.32,318.59 Z" fill="#c8c8c8" opacity="0.9"/>
<path d="M487.96,321.27 A51.6,51.6 0 0 1 487.74,322.60 Q437.01,313.73 386.72,324.81 A51.6,51.6 0 0 1 386.28,322.69 Q437.01,313.64 487.96,321.27 Z" fill="#c8c8c8" opacity="0.9"/>
<path d="M433.40,364.67 A51.6,51.6 0 0 1 430.26,364.36 Q435.78,313.73 394.99,283.24 A51.6,51.6 0 0 1 398.96,278.34 Q435.96,313.62 433.40,364.67 Z" fill="#c8c8c8" opacity="0.9"/>
<path d="M421.05,362.27 A51.6,51.6 0 0 1 418.93,361.53 Q435.77,313.38 405.95,271.99 A51.6,51.6 0 0 1 409.66,269.44 Q435.92,313.33 421.05,362.27 Z" fill="#c8c8c8" opacity="0.9"/>
<path d="M478.48,282.51 A51.6,51.6 0 0 1 480.28,285.10 Q437.24,313.47 403.15,352.14 A51.6,51.6 0 0 1 398.41,347.46 Q437.07,313.29 478.48,282.51 Z" fill="#c8c8c8" opacity="0.9"/>
<path d="M398.06,347.05 A51.6,51.6 0 0 1 396.90,345.67 Q435.69,312.76 424.78,263.07 A51.6,51.6 0 0 1 427.86,262.42 Q435.80,312.78 398.06,347.05 Z" fill="#c8c8c8" opacity="0.88"/>
<path d="M461.62,267.85 A51.6,51.6 0 0 1 462.25,268.20 Q438.51,313.02 472.32,350.81 A51.6,51.6 0 0 1 471.79,351.30 Q438.49,313.02 461.62,267.85 Z" fill="#c8c8c8" opacity="0.6"/>
<path d="M462.80,357.89 A51.6,51.6 0 0 1 462.25,358.20 Q437.51,313.04 432.14,261.83 A51.6,51.6 0 0 1 432.68,261.78 Q437.54,313.03 462.80,357.89 Z" fill="#c8c8c8" opacity="0.5"/>
<path d="M445.96,262.38 A51.6,51.6 0 0 1 446.67,262.51 Q436.21,312.71 395.79,344.25 A51.6,51.6 0 0 1 395.36,343.68 Q436.18,312.69 445.96,262.38 Z" fill="#c8c8c8" opacity="0.55"/>
<path d="M466.60,355.47 A51.6,51.6 0 0 1 465.85,355.98 Q436.44,314.11 385.78,306.91 A51.6,51.6 0 0 1 385.93,305.84 Q436.46,314.07 466.60,355.47 Z" fill="#c8c8c8" opacity="0.55"/>
<path d="M481.69,339.00 A51.6,51.6 0 0 1 481.32,339.62 Q437.52,312.71 413.57,267.22 A51.6,51.6 0 0 1 414.54,266.74 Q437.56,312.68 481.69,339.00 Z" fill="#c8c8c8" opacity="0.55"/>
<path d="M466.60,270.93 A51.6,51.6 0 0 1 467.11,271.30 Q436.68,312.87 394.22,342.05 A51.6,51.6 0 0 1 393.87,341.53 Q436.66,312.85 466.60,270.93 Z" fill="#c8c8c8" opacity="0.5"/>
<path d="M486.84,326.56 A51.6,51.6 0 0 1 486.67,327.16 Q437.12,312.90 392.31,287.40 A51.6,51.6 0 0 1 392.63,286.86 Q437.14,312.88 486.84,326.56 Z" fill="#c8c8c8" opacity="0.5"/>
<path d="M482.56,288.98 A51.6,51.6 0 0 1 482.85,289.53 Q437.28,311.65 402.47,274.85 A51.6,51.6 0 0 1 402.94,274.43 Q437.29,311.63 482.56,288.98 Z" fill="#c8c8c8" opacity="0.45"/>
<path d="M485.49,295.55 A51.6,51.6 0 0 1 485.70,296.15 Q438.86,313.89 462.80,357.89 A51.6,51.6 0 0 1 462.25,358.20 Q438.84,313.88 485.49,295.55 Z" fill="#c8c8c8" opacity="0.5"/>
<path d="M437.75,252.00 A61.2,61.2 0 0 1 478.42,268.15 L474.03,272.94 A54.7,54.7 0 0 0 437.67,258.50 Z" fill="#8fcbee" stroke="#00000055" stroke-width="0.35"/>
<line x1="437.96" y1="252.01" x2="437.99" y2="250.31" stroke="#666" stroke-width="0.3"/>
<line x1="443.49" y1="252.35" x2="443.67" y2="250.65" stroke="#666" stroke-width="0.3"/>
<line x1="448.97" y1="253.18" x2="449.30" y2="251.51" stroke="#666" stroke-width="0.3"/>
<line x1="454.34" y1="254.51" x2="454.83" y2="252.88" stroke="#666" stroke-width="0.3"/>
<line x1="459.58" y1="256.32" x2="460.21" y2="254.74" stroke="#666" stroke-width="0.3"/>
<line x1="464.63" y1="258.59" x2="465.40" y2="257.07" stroke="#666" stroke-width="0.3"/>
<line x1="469.45" y1="261.31" x2="470.36" y2="259.87" stroke="#666" stroke-width="0.3"/>
<line x1="474.01" y1="264.46" x2="475.04" y2="263.11" stroke="#666" stroke-width="0.3"/>
<line x1="478.27" y1="268.01" x2="479.41" y2="266.75" stroke="#666" stroke-width="0.3"/>
<text x="460.76" y="253.34" font-size="2.3" fill="#222" font-weight="bold" text-anchor="start" transform="rotate(-68.35 460.76 253.34)" stroke="#222" stroke-width="0.06" dominant-baseline="middle">Chr</text>
<path d="M479.51,269.18 A61.2,61.2 0 0 1 492.38,287.14 L486.49,289.91 A54.7,54.7 0 0 0 475.00,273.85 Z" fill="#5aa8c8" stroke="#00000055" stroke-width="0.35"/>
<line x1="479.67" y1="269.33" x2="480.85" y2="268.11" stroke="#666" stroke-width="0.3"/>
<line x1="483.40" y1="273.29" x2="484.69" y2="272.18" stroke="#666" stroke-width="0.3"/>
<line x1="486.76" y1="277.57" x2="488.14" y2="276.58" stroke="#666" stroke-width="0.3"/>
<line x1="489.73" y1="282.14" x2="491.20" y2="281.28" stroke="#666" stroke-width="0.3"/>
<line x1="492.28" y1="286.95" x2="493.82" y2="286.22" stroke="#666" stroke-width="0.3"/>
<text x="489.36" y="275.71" font-size="2.3" fill="#222" font-weight="bold" text-anchor="start" transform="rotate(-35.599999999999994 489.36 275.71)" stroke="#222" stroke-width="0.06" dominant-baseline="middle">Chr</text>
<path d="M493.00,288.50 A61.2,61.2 0 0 1 497.99,308.08 L491.51,308.62 A54.7,54.7 0 0 0 487.05,291.13 Z" fill="#7fd8d4" stroke="#00000055" stroke-width="0.35"/>
<line x1="493.08" y1="288.70" x2="494.64" y2="288.02" stroke="#666" stroke-width="0.3"/>
<line x1="495.40" y1="294.90" x2="497.02" y2="294.39" stroke="#666" stroke-width="0.3"/>
<line x1="497.03" y1="301.31" x2="498.70" y2="300.98" stroke="#666" stroke-width="0.3"/>
<line x1="497.97" y1="307.87" x2="499.66" y2="307.72" stroke="#666" stroke-width="0.3"/>
<text x="499.40" y="297.29" font-size="2.3" fill="#222" font-weight="bold" text-anchor="start" transform="rotate(-14.300000000000011 499.40 297.29)" stroke="#222" stroke-width="0.06" dominant-baseline="middle">Chr</text>
<path d="M498.10,309.68 A61.2,61.2 0 0 1 495.46,331.30 L489.25,329.38 A54.7,54.7 0 0 0 491.61,310.05 Z" fill="#4fc4a0" stroke="#00000055" stroke-width="0.35"/>
<line x1="498.11" y1="309.89" x2="499.81" y2="309.80" stroke="#666" stroke-width="0.3"/>
<line x1="498.17" y1="315.26" x2="499.86" y2="315.31" stroke="#666" stroke-width="0.3"/>
<line x1="497.75" y1="320.61" x2="499.44" y2="320.81" stroke="#666" stroke-width="0.3"/>
<line x1="496.87" y1="325.90" x2="498.53" y2="326.25" stroke="#666" stroke-width="0.3"/>
<line x1="495.53" y1="331.09" x2="497.15" y2="331.59" stroke="#666" stroke-width="0.3"/>
<text x="500.93" y="320.99" font-size="2.3" fill="#222" font-weight="bold" text-anchor="start" transform="rotate(6.949999999999989 500.93 320.99)" stroke="#222" stroke-width="0.06" dominant-baseline="middle">Chr</text>
<path d="M495.00,332.72 A61.2,61.2 0 0 1 483.88,352.54 L478.90,348.36 A54.7,54.7 0 0 0 488.84,330.65 Z" fill="#5ecb8c" stroke="#00000055" stroke-width="0.35"/>
<line x1="494.93" y1="332.92" x2="496.54" y2="333.47" stroke="#666" stroke-width="0.3"/>
<line x1="492.89" y1="338.14" x2="494.44" y2="338.83" stroke="#666" stroke-width="0.3"/>
<line x1="490.37" y1="343.15" x2="491.85" y2="343.98" stroke="#666" stroke-width="0.3"/>
<line x1="487.41" y1="347.91" x2="488.81" y2="348.87" stroke="#666" stroke-width="0.3"/>
<line x1="484.02" y1="352.37" x2="485.33" y2="353.46" stroke="#666" stroke-width="0.3"/>
<text x="493.16" y="344.72" font-size="2.3" fill="#222" font-weight="bold" text-anchor="start" transform="rotate(29.30000000000001 493.16 344.72)" stroke="#222" stroke-width="0.06" dominant-baseline="middle">Chr</text>
<path d="M482.91,353.67 A61.2,61.2 0 0 1 463.25,368.48 L460.46,362.61 A54.7,54.7 0 0 0 478.03,349.37 Z" fill="#3f9a3a" stroke="#00000055" stroke-width="0.35"/>
<line x1="482.77" y1="353.83" x2="484.04" y2="354.96" stroke="#666" stroke-width="0.3"/>
<line x1="478.50" y1="358.18" x2="479.66" y2="359.43" stroke="#666" stroke-width="0.3"/>
<line x1="473.83" y1="362.08" x2="474.85" y2="363.43" stroke="#666" stroke-width="0.3"/>
<line x1="468.79" y1="365.49" x2="469.68" y2="366.95" stroke="#666" stroke-width="0.3"/>
<line x1="463.44" y1="368.39" x2="464.18" y2="369.93" stroke="#666" stroke-width="0.3"/>
<text x="475.76" y="364.63" font-size="2.3" fill="#222" font-weight="bold" text-anchor="start" transform="rotate(53.0 475.76 364.63)" stroke="#222" stroke-width="0.06" dominant-baseline="middle">Chr</text>
<path d="M461.89,369.11 A61.2,61.2 0 0 1 447.63,373.47 L446.50,367.07 A54.7,54.7 0 0 0 459.25,363.17 Z" fill="#6fc244" stroke="#00000055" stroke-width="0.35"/>
<line x1="461.70" y1="369.20" x2="462.38" y2="370.75" stroke="#666" stroke-width="0.3"/>
<line x1="454.89" y1="371.73" x2="455.39" y2="373.35" stroke="#666" stroke-width="0.3"/>
<line x1="447.84" y1="373.43" x2="448.14" y2="375.11" stroke="#666" stroke-width="0.3"/>
<text x="455.83" y="374.79" font-size="2.3" fill="#222" font-weight="bold" text-anchor="start" transform="rotate(73.0 455.83 374.79)" stroke="#222" stroke-width="0.06" dominant-baseline="middle">Chr</text>
<path d="M446.15,373.71 A61.2,61.2 0 0 1 430.18,374.02 L430.90,367.56 A54.7,54.7 0 0 0 445.18,367.28 Z" fill="#c8de50" stroke="#00000055" stroke-width="0.35"/>
<line x1="445.94" y1="373.74" x2="446.19" y2="375.43" stroke="#666" stroke-width="0.3"/>
<line x1="440.77" y1="374.28" x2="440.88" y2="375.98" stroke="#666" stroke-width="0.3"/>
<line x1="435.58" y1="374.38" x2="435.54" y2="376.08" stroke="#666" stroke-width="0.3"/>
<line x1="430.39" y1="374.04" x2="430.21" y2="375.73" stroke="#666" stroke-width="0.3"/>
<text x="438.24" y="377.59" font-size="2.3" fill="#222" font-weight="bold" text-anchor="start" transform="rotate(88.9 438.24 377.59)" stroke="#222" stroke-width="0.06" dominant-baseline="middle">Chr</text>
<path d="M428.69,373.83 A61.2,61.2 0 0 1 416.47,370.85 L418.65,364.73 A54.7,54.7 0 0 0 429.58,367.39 Z" fill="#ecec50" stroke="#00000055" stroke-width="0.35"/>
<line x1="428.48" y1="373.80" x2="428.25" y2="375.49" stroke="#666" stroke-width="0.3"/>
<line x1="422.51" y1="372.66" x2="422.10" y2="374.31" stroke="#666" stroke-width="0.3"/>
<line x1="416.67" y1="370.93" x2="416.11" y2="372.53" stroke="#666" stroke-width="0.3"/>
<text x="421.75" y="375.77" font-size="2.3" fill="#222" font-weight="bold" text-anchor="end" transform="rotate(283.7 421.75 375.77)" stroke="#222" stroke-width="0.06" dominant-baseline="middle">Chr</text>
<path d="M415.07,370.34 A61.2,61.2 0 0 1 397.99,360.36 L402.13,355.35 A54.7,54.7 0 0 0 417.40,364.27 Z" fill="#f2a444" stroke="#00000055" stroke-width="0.35"/>
<line x1="414.87" y1="370.26" x2="414.25" y2="371.84" stroke="#666" stroke-width="0.3"/>
<line x1="408.96" y1="367.60" x2="408.18" y2="369.11" stroke="#666" stroke-width="0.3"/>
<line x1="403.37" y1="364.33" x2="402.44" y2="365.75" stroke="#666" stroke-width="0.3"/>
<line x1="398.15" y1="360.49" x2="397.08" y2="361.80" stroke="#666" stroke-width="0.3"/>
<text x="404.51" y="368.80" font-size="2.3" fill="#222" font-weight="bold" text-anchor="end" transform="rotate(300.3 404.51 368.80)" stroke="#222" stroke-width="0.06" dominant-baseline="middle">Chr</text>
<path d="M396.85,359.39 A61.2,61.2 0 0 1 385.67,346.53 L391.12,342.99 A54.7,54.7 0 0 0 401.11,354.48 Z" fill="#f07a38" stroke="#00000055" stroke-width="0.35"/>
<line x1="396.69" y1="359.25" x2="395.57" y2="360.53" stroke="#666" stroke-width="0.3"/>
<line x1="392.68" y1="355.40" x2="391.45" y2="356.58" stroke="#666" stroke-width="0.3"/>
<line x1="389.04" y1="351.21" x2="387.71" y2="352.27" stroke="#666" stroke-width="0.3"/>
<line x1="385.79" y1="346.71" x2="384.37" y2="347.64" stroke="#666" stroke-width="0.3"/>
<text x="388.40" y="355.45" font-size="2.3" fill="#222" font-weight="bold" text-anchor="end" transform="rotate(319.0 388.40 355.45)" stroke="#222" stroke-width="0.06" dominant-baseline="middle">Chr</text>
<path d="M384.87,345.27 A61.2,61.2 0 0 1 378.73,331.91 L384.92,329.92 A54.7,54.7 0 0 0 390.41,341.86 Z" fill="#e23232" stroke="#00000055" stroke-width="0.35"/>
<line x1="384.76" y1="345.09" x2="383.31" y2="345.97" stroke="#666" stroke-width="0.3"/>
<line x1="381.40" y1="338.77" x2="379.85" y2="339.48" stroke="#666" stroke-width="0.3"/>
<line x1="378.80" y1="332.11" x2="377.18" y2="332.64" stroke="#666" stroke-width="0.3"/>
<text x="378.49" y="340.11" font-size="2.3" fill="#222" font-weight="bold" text-anchor="end" transform="rotate(335.3 378.49 340.11)" stroke="#222" stroke-width="0.06" dominant-baseline="middle">Chr</text>
<path d="M378.29,330.48 A61.2,61.2 0 0 1 375.88,316.30 L382.37,315.97 A54.7,54.7 0 0 0 384.53,328.64 Z" fill="#c242a0" stroke="#00000055" stroke-width="0.35"/>
<line x1="378.23" y1="330.27" x2="376.60" y2="330.75" stroke="#666" stroke-width="0.3"/>
<line x1="376.67" y1="323.46" x2="374.99" y2="323.74" stroke="#666" stroke-width="0.3"/>
<line x1="375.89" y1="316.51" x2="374.19" y2="316.60" stroke="#666" stroke-width="0.3"/>
<text x="373.51" y="324.00" font-size="2.3" fill="#222" font-weight="bold" text-anchor="end" transform="rotate(350.35 373.51 324.00)" stroke="#222" stroke-width="0.06" dominant-baseline="middle">Chr</text>
<path d="M375.82,314.80 A61.2,61.2 0 0 1 377.57,298.60 L383.88,300.15 A54.7,54.7 0 0 0 382.32,314.63 Z" fill="#a062c2" stroke="#00000055" stroke-width="0.35"/>
<line x1="375.82" y1="314.59" x2="374.12" y2="314.63" stroke="#666" stroke-width="0.3"/>
<line x1="375.93" y1="309.29" x2="374.23" y2="309.18" stroke="#666" stroke-width="0.3"/>
<line x1="376.49" y1="304.01" x2="374.81" y2="303.76" stroke="#666" stroke-width="0.3"/>
<line x1="377.52" y1="298.81" x2="375.86" y2="298.41" stroke="#666" stroke-width="0.3"/>
<text x="372.97" y="306.30" font-size="2.3" fill="#222" font-weight="bold" text-anchor="end" transform="rotate(366.15 372.97 306.30)" stroke="#222" stroke-width="0.06" dominant-baseline="middle">Chr</text>
<path d="M377.94,297.15 A61.2,61.2 0 0 1 383.17,284.09 L388.88,287.18 A54.7,54.7 0 0 0 384.21,298.86 Z" fill="#7a5cc0" stroke="#00000055" stroke-width="0.35"/>
<line x1="378.00" y1="296.95" x2="376.36" y2="296.50" stroke="#666" stroke-width="0.3"/>
<line x1="380.18" y1="290.47" x2="378.60" y2="289.84" stroke="#666" stroke-width="0.3"/>
<line x1="383.06" y1="284.28" x2="381.57" y2="283.48" stroke="#666" stroke-width="0.3"/>
<text x="377.21" y="289.28" font-size="2.3" fill="#222" font-weight="bold" text-anchor="end" transform="rotate(381.8 377.21 289.28)" stroke="#222" stroke-width="0.06" dominant-baseline="middle">Chr</text>
<path d="M383.89,282.79 A61.2,61.2 0 0 1 391.95,271.78 L396.74,276.17 A54.7,54.7 0 0 0 389.53,286.02 Z" fill="#6c6cd0" stroke="#00000055" stroke-width="0.35"/>
<line x1="384.00" y1="282.60" x2="382.53" y2="281.75" stroke="#666" stroke-width="0.3"/>
<line x1="387.61" y1="277.05" x2="386.24" y2="276.05" stroke="#666" stroke-width="0.3"/>
<line x1="391.81" y1="271.93" x2="390.55" y2="270.79" stroke="#666" stroke-width="0.3"/>
<text x="385.03" y="275.16" font-size="2.3" fill="#222" font-weight="bold" text-anchor="end" transform="rotate(396.2 385.03 275.16)" stroke="#222" stroke-width="0.06" dominant-baseline="middle">Chr</text>
<path d="M392.98,270.69 A61.2,61.2 0 0 1 404.66,261.24 L408.09,266.76 A54.7,54.7 0 0 0 397.65,275.20 Z" fill="#7292da" stroke="#00000055" stroke-width="0.35"/>
<line x1="393.13" y1="270.53" x2="391.91" y2="269.35" stroke="#666" stroke-width="0.3"/>
<line x1="398.53" y1="265.61" x2="397.46" y2="264.28" stroke="#666" stroke-width="0.3"/>
<line x1="404.48" y1="261.36" x2="403.58" y2="259.92" stroke="#666" stroke-width="0.3"/>
<text x="396.52" y="263.12" font-size="2.3" fill="#222" font-weight="bold" text-anchor="end" transform="rotate(411.05 396.52 263.12)" stroke="#222" stroke-width="0.06" dominant-baseline="middle">Chr</text>
<path d="M405.94,260.47 A61.2,61.2 0 0 1 419.72,254.49 L421.56,260.73 A54.7,54.7 0 0 0 409.24,266.07 Z" fill="#2a7ac2" stroke="#00000055" stroke-width="0.35"/>
<line x1="406.12" y1="260.36" x2="405.27" y2="258.89" stroke="#666" stroke-width="0.3"/>
<line x1="412.65" y1="257.05" x2="411.97" y2="255.50" stroke="#666" stroke-width="0.3"/>
<line x1="419.52" y1="254.55" x2="419.03" y2="252.92" stroke="#666" stroke-width="0.3"/>
<text x="411.37" y="254.12" font-size="2.3" fill="#222" font-weight="bold" text-anchor="end" transform="rotate(426.55 411.37 254.12)" stroke="#222" stroke-width="0.06" dominant-baseline="middle">Chr</text>
<path d="M421.16,254.09 A61.2,61.2 0 0 1 436.25,252.00 L436.33,258.50 A54.7,54.7 0 0 0 422.84,260.36 Z" fill="#f284b2" stroke="#00000055" stroke-width="0.35"/>
<line x1="421.37" y1="254.03" x2="420.93" y2="252.39" stroke="#666" stroke-width="0.3"/>
<line x1="426.20" y1="252.96" x2="425.90" y2="251.29" stroke="#666" stroke-width="0.3"/>
<line x1="431.10" y1="252.29" x2="430.93" y2="250.59" stroke="#666" stroke-width="0.3"/>
<line x1="436.04" y1="252.01" x2="436.01" y2="250.31" stroke="#666" stroke-width="0.3"/>
<text x="428.20" y="249.40" font-size="2.3" fill="#222" font-weight="bold" text-anchor="end" transform="rotate(442.15 428.20 249.40)" stroke="#222" stroke-width="0.06" dominant-baseline="middle">Chr</text>
<line x1="425.45" y1="250.25" x2="422.38" y2="233.53" stroke="#f0a071" stroke-width="0.45" opacity="0.95" stroke-dasharray="3.5 0.5 1.5 0.4"/>
<line x1="457.84" y1="252.69" x2="463.05" y2="237.56" stroke="#f0a071" stroke-width="0.45" opacity="0.95" stroke-dasharray="3.5 0.5 1.5 0.4"/>
<line x1="482.25" y1="267.95" x2="496.40" y2="253.80" stroke="#f0a071" stroke-width="0.45" opacity="0.95" stroke-dasharray="3.5 0.5 1.5 0.4"/>
<line x1="487.56" y1="270.78" x2="499.82" y2="260.49" stroke="#f0a071" stroke-width="0.45" opacity="0.95" stroke-dasharray="3.5 0.5 1.5 0.4"/>
<line x1="509.00" y1="313.20" x2="535.00" y2="313.20" stroke="#f0a071" stroke-width="0.45" opacity="0.95" stroke-dasharray="3.5 0.5 1.5 0.4"/>
<line x1="499.02" y1="335.77" x2="510.30" y2="339.88" stroke="#f0a071" stroke-width="0.45" opacity="0.95" stroke-dasharray="3.5 0.5 1.5 0.4"/>
<line x1="497.29" y1="340.04" x2="510.08" y2="345.74" stroke="#f0a071" stroke-width="0.45" opacity="0.95" stroke-dasharray="3.5 0.5 1.5 0.4"/>
<line x1="495.27" y1="344.19" x2="505.87" y2="349.82" stroke="#f0a071" stroke-width="0.45" opacity="0.95" stroke-dasharray="3.5 0.5 1.5 0.4"/>
<line x1="482.25" y1="358.45" x2="494.98" y2="371.18" stroke="#f0a071" stroke-width="0.45" opacity="0.95" stroke-dasharray="3.5 0.5 1.5 0.4"/>
<line x1="458.89" y1="373.34" x2="464.36" y2="388.38" stroke="#f0a071" stroke-width="0.45" opacity="0.95" stroke-dasharray="3.5 0.5 1.5 0.4"/>
<line x1="437.00" y1="377.20" x2="437.00" y2="395.20" stroke="#f0a071" stroke-width="0.45" opacity="0.95" stroke-dasharray="3.5 0.5 1.5 0.4"/>
<line x1="425.89" y1="376.23" x2="422.76" y2="393.95" stroke="#f0a071" stroke-width="0.45" opacity="0.95" stroke-dasharray="3.5 0.5 1.5 0.4"/>
<line x1="405.00" y1="368.63" x2="396.50" y2="383.35" stroke="#f0a071" stroke-width="0.45" opacity="0.95" stroke-dasharray="3.5 0.5 1.5 0.4"/>
<line x1="401.21" y1="366.26" x2="392.26" y2="379.52" stroke="#f0a071" stroke-width="0.45" opacity="0.95" stroke-dasharray="3.5 0.5 1.5 0.4"/>
<line x1="394.18" y1="360.76" x2="382.13" y2="374.14" stroke="#f0a071" stroke-width="0.45" opacity="0.95" stroke-dasharray="3.5 0.5 1.5 0.4"/>
<line x1="390.96" y1="357.66" x2="379.45" y2="368.77" stroke="#f0a071" stroke-width="0.45" opacity="0.95" stroke-dasharray="3.5 0.5 1.5 0.4"/>
<line x1="376.25" y1="338.99" x2="359.68" y2="346.02" stroke="#f0a071" stroke-width="0.45" opacity="0.95" stroke-dasharray="3.5 0.5 1.5 0.4"/>
<line x1="372.44" y1="326.92" x2="358.75" y2="329.83" stroke="#f0a071" stroke-width="0.45" opacity="0.95" stroke-dasharray="3.5 0.5 1.5 0.4"/>
<line x1="371.00" y1="313.20" x2="353.00" y2="313.20" stroke="#f0a071" stroke-width="0.45" opacity="0.95" stroke-dasharray="3.5 0.5 1.5 0.4"/>
<line x1="374.98" y1="290.63" x2="359.95" y2="285.15" stroke="#f0a071" stroke-width="0.45" opacity="0.95" stroke-dasharray="3.5 0.5 1.5 0.4"/>
<circle cx="302.8" cy="405.8" r="1.9" fill="#82c341"/>
<circle cx="302.8" cy="405.8" r="0.85" fill="#e6f4cf"/>
<circle cx="302.8" cy="405.8" r="1.9" fill="none" stroke="#6aa32d" stroke-width="0.35"/>
<text x="306.00" y="407.15" font-size="3.9" fill="#111" font-weight="bold" textLength="31.90" lengthAdjust="spacingAndGlyphs" stroke="#111" stroke-width="0.06">Expression Pattern</text>
<path d="M312.8,425.7 L314,423.6 L315.2,425.7 Z" fill="none" stroke="#5560c8" stroke-width="0.35"/>
<text x="318.10" y="426.20" font-size="3.5" fill="#111" font-weight="bold" textLength="17.70" lengthAdjust="spacingAndGlyphs" stroke="#111" stroke-width="0.06">Microarray</text>
<text x="348.80" y="426.30" font-size="3.7" fill="#e8231a" font-weight="bold" textLength="16.60" lengthAdjust="spacingAndGlyphs" stroke="#e8231a" stroke-width="0.06">details.!!!</text>
<text x="377.70" y="426.30" font-size="3.7" fill="#9a9a9a" textLength="23.10" lengthAdjust="spacingAndGlyphs" stroke="#9a9a9a" stroke-width="0.06">annotation.!!!</text>
<rect x="379.80" y="435.50" width="12.34" height="9.25" fill="#fcecaa" stroke="#9a9a9a" stroke-width="0.22"/>
<rect x="392.14" y="435.50" width="12.34" height="9.25" fill="#fcecaa" stroke="#9a9a9a" stroke-width="0.22"/>
<rect x="404.49" y="435.50" width="12.34" height="9.25" fill="#fcecaa" stroke="#9a9a9a" stroke-width="0.22"/>
<rect x="416.83" y="435.50" width="12.34" height="9.25" fill="#fde293" stroke="#9a9a9a" stroke-width="0.22"/>
<rect x="429.18" y="435.50" width="12.34" height="9.25" fill="#fdb977" stroke="#9a9a9a" stroke-width="0.22"/>
<rect x="441.52" y="435.50" width="12.34" height="9.25" fill="#d73027" stroke="#9a9a9a" stroke-width="0.22"/>
<rect x="453.87" y="435.50" width="12.34" height="9.25" fill="#fcecaa" stroke="#9a9a9a" stroke-width="0.22"/>
<rect x="466.21" y="435.50" width="12.34" height="9.25" fill="#fcecaa" stroke="#9a9a9a" stroke-width="0.22"/>
<rect x="478.56" y="435.50" width="12.34" height="9.25" fill="#fcecaa" stroke="#9a9a9a" stroke-width="0.22"/>
<rect x="379.80" y="444.75" width="12.34" height="9.25" fill="#fcecaa" stroke="#9a9a9a" stroke-width="0.22"/>
<rect x="392.14" y="444.75" width="12.34" height="9.25" fill="#fcecaa" stroke="#9a9a9a" stroke-width="0.22"/>
<rect x="404.49" y="444.75" width="12.34" height="9.25" fill="#fcecaa" stroke="#9a9a9a" stroke-width="0.22"/>
<rect x="416.83" y="444.75" width="12.34" height="9.25" fill="#fde596" stroke="#9a9a9a" stroke-width="0.22"/>
<rect x="429.18" y="444.75" width="12.34" height="9.25" fill="#fdb070" stroke="#9a9a9a" stroke-width="0.22"/>
<rect x="441.52" y="444.75" width="12.34" height="9.25" fill="#f4794a" stroke="#9a9a9a" stroke-width="0.22"/>
<rect x="453.87" y="444.75" width="12.34" height="9.25" fill="#eaf3d0" stroke="#9a9a9a" stroke-width="0.22"/>
<rect x="466.21" y="444.75" width="12.34" height="9.25" fill="#fcecaa" stroke="#9a9a9a" stroke-width="0.22"/>
<rect x="478.56" y="444.75" width="12.34" height="9.25" fill="#fcecaa" stroke="#9a9a9a" stroke-width="0.22"/>
<rect x="379.80" y="454.00" width="12.34" height="9.25" fill="#fcecaa" stroke="#9a9a9a" stroke-width="0.22"/>
<rect x="392.14" y="454.00" width="12.34" height="9.25" fill="#d5e9f0" stroke="#9a9a9a" stroke-width="0.22"/>
<rect x="404.49" y="454.00" width="12.34" height="9.25" fill="#d5e9f0" stroke="#9a9a9a" stroke-width="0.22"/>
<rect x="416.83" y="454.00" width="12.34" height="9.25" fill="#fde898" stroke="#9a9a9a" stroke-width="0.22"/>
<rect x="429.18" y="454.00" width="12.34" height="9.25" fill="#f88d52" stroke="#9a9a9a" stroke-width="0.22"/>
<rect x="441.52" y="454.00" width="12.34" height="9.25" fill="#d73027" stroke="#9a9a9a" stroke-width="0.22"/>
<rect x="453.87" y="454.00" width="12.34" height="9.25" fill="#a9d0e6" stroke="#9a9a9a" stroke-width="0.22"/>
<rect x="466.21" y="454.00" width="12.34" height="9.25" fill="#fcf0ac" stroke="#9a9a9a" stroke-width="0.22"/>
<rect x="478.56" y="454.00" width="12.34" height="9.25" fill="#fcecaa" stroke="#9a9a9a" stroke-width="0.22"/>
<rect x="379.80" y="463.25" width="12.34" height="9.25" fill="#fcecaa" stroke="#9a9a9a" stroke-width="0.22"/>
<rect x="392.14" y="463.25" width="12.34" height="9.25" fill="#e5f2ea" stroke="#9a9a9a" stroke-width="0.22"/>
<rect x="404.49" y="463.25" width="12.34" height="9.25" fill="#dcecf0" stroke="#9a9a9a" stroke-width="0.22"/>
<rect x="416.83" y="463.25" width="12.34" height="9.25" fill="#fcf0ac" stroke="#9a9a9a" stroke-width="0.22"/>
<rect x="429.18" y="463.25" width="12.34" height="9.25" fill="#fdd58a" stroke="#9a9a9a" stroke-width="0.22"/>
<rect x="441.52" y="463.25" width="12.34" height="9.25" fill="#fdd58a" stroke="#9a9a9a" stroke-width="0.22"/>
<rect x="453.87" y="463.25" width="12.34" height="9.25" fill="#e8f3dc" stroke="#9a9a9a" stroke-width="0.22"/>
<rect x="466.21" y="463.25" width="12.34" height="9.25" fill="#fcecaa" stroke="#9a9a9a" stroke-width="0.22"/>
<rect x="478.56" y="463.25" width="12.34" height="9.25" fill="#fcf1b4" stroke="#9a9a9a" stroke-width="0.22"/>
<rect x="379.80" y="472.50" width="12.34" height="9.25" fill="#fcecaa" stroke="#9a9a9a" stroke-width="0.22"/>
<rect x="392.14" y="472.50" width="12.34" height="9.25" fill="#fde9a0" stroke="#9a9a9a" stroke-width="0.22"/>
<rect x="404.49" y="472.50" width="12.34" height="9.25" fill="#fcf0ac" stroke="#9a9a9a" stroke-width="0.22"/>
<rect x="416.83" y="472.50" width="12.34" height="9.25" fill="#c4dff0" stroke="#9a9a9a" stroke-width="0.22"/>
<rect x="429.18" y="472.50" width="12.34" height="9.25" fill="#6fa4d0" stroke="#9a9a9a" stroke-width="0.22"/>
<rect x="441.52" y="472.50" width="12.34" height="9.25" fill="#dcecf0" stroke="#9a9a9a" stroke-width="0.22"/>
<rect x="453.87" y="472.50" width="12.34" height="9.25" fill="#f4f2c4" stroke="#9a9a9a" stroke-width="0.22"/>
<rect x="466.21" y="472.50" width="12.34" height="9.25" fill="#fcf1b4" stroke="#9a9a9a" stroke-width="0.22"/>
<rect x="478.56" y="472.50" width="12.34" height="9.25" fill="#a4c8e4" stroke="#9a9a9a" stroke-width="0.22"/>
<rect x="379.80" y="481.75" width="12.34" height="9.25" fill="#b4d4e8" stroke="#9a9a9a" stroke-width="0.22"/>
<rect x="392.14" y="481.75" width="12.34" height="9.25" fill="#d4e8f2" stroke="#9a9a9a" stroke-width="0.22"/>
<rect x="404.49" y="481.75" width="12.34" height="9.25" fill="#eef0cc" stroke="#9a9a9a" stroke-width="0.22"/>
<rect x="416.83" y="481.75" width="12.34" height="9.25" fill="#f8ecb0" stroke="#9a9a9a" stroke-width="0.22"/>
<rect x="429.18" y="481.75" width="12.34" height="9.25" fill="#3c74b6" stroke="#9a9a9a" stroke-width="0.22"/>
<rect x="441.52" y="481.75" width="12.34" height="9.25" fill="#a4c8e4" stroke="#9a9a9a" stroke-width="0.22"/>
<rect x="453.87" y="481.75" width="12.34" height="9.25" fill="#b4d4ea" stroke="#9a9a9a" stroke-width="0.22"/>
<rect x="466.21" y="481.75" width="12.34" height="9.25" fill="#f4f0c4" stroke="#9a9a9a" stroke-width="0.22"/>
<rect x="478.56" y="481.75" width="12.34" height="9.25" fill="#b4d4e8" stroke="#9a9a9a" stroke-width="0.22"/>
<rect x="379.80" y="491.00" width="12.34" height="9.25" fill="#bcd8ec" stroke="#9a9a9a" stroke-width="0.22"/>
<rect x="392.14" y="491.00" width="12.34" height="9.25" fill="#7fb0d4" stroke="#9a9a9a" stroke-width="0.22"/>
<rect x="404.49" y="491.00" width="12.34" height="9.25" fill="#a8cae6" stroke="#9a9a9a" stroke-width="0.22"/>
<rect x="416.83" y="491.00" width="12.34" height="9.25" fill="#d0e6f2" stroke="#9a9a9a" stroke-width="0.22"/>
<rect x="429.18" y="491.00" width="12.34" height="9.25" fill="#f8f0b8" stroke="#9a9a9a" stroke-width="0.22"/>
<rect x="441.52" y="491.00" width="12.34" height="9.25" fill="#d4e8f4" stroke="#9a9a9a" stroke-width="0.22"/>
<rect x="453.87" y="491.00" width="12.34" height="9.25" fill="#b8d6ec" stroke="#9a9a9a" stroke-width="0.22"/>
<rect x="466.21" y="491.00" width="12.34" height="9.25" fill="#d0e6f4" stroke="#9a9a9a" stroke-width="0.22"/>
<rect x="478.56" y="491.00" width="12.34" height="9.25" fill="#c0daee" stroke="#9a9a9a" stroke-width="0.22"/>
<rect x="379.80" y="500.25" width="12.34" height="9.25" fill="#c0dcec" stroke="#9a9a9a" stroke-width="0.22"/>
<rect x="392.14" y="500.25" width="12.34" height="9.25" fill="#8cb8d8" stroke="#9a9a9a" stroke-width="0.22"/>
<rect x="404.49" y="500.25" width="12.34" height="9.25" fill="#8cb8d8" stroke="#9a9a9a" stroke-width="0.22"/>
<rect x="416.83" y="500.25" width="12.34" height="9.25" fill="#d4e8ee" stroke="#9a9a9a" stroke-width="0.22"/>
<rect x="429.18" y="500.25" width="12.34" height="9.25" fill="#b8d6e8" stroke="#9a9a9a" stroke-width="0.22"/>
<rect x="441.52" y="500.25" width="12.34" height="9.25" fill="#b0d0e6" stroke="#9a9a9a" stroke-width="0.22"/>
<rect x="453.87" y="500.25" width="12.34" height="9.25" fill="#a8cce4" stroke="#9a9a9a" stroke-width="0.22"/>
<rect x="466.21" y="500.25" width="12.34" height="9.25" fill="#f4f2c4" stroke="#9a9a9a" stroke-width="0.22"/>
<rect x="478.56" y="500.25" width="12.34" height="9.25" fill="#c6dfec" stroke="#9a9a9a" stroke-width="0.22"/>
<rect x="379.80" y="509.50" width="12.34" height="9.25" fill="#c6dfec" stroke="#9a9a9a" stroke-width="0.22"/>
<rect x="392.14" y="509.50" width="12.34" height="9.25" fill="#6a9ccc" stroke="#9a9a9a" stroke-width="0.22"/>
<rect x="404.49" y="509.50" width="12.34" height="9.25" fill="#6a9ccc" stroke="#9a9a9a" stroke-width="0.22"/>
<rect x="416.83" y="509.50" width="12.34" height="9.25" fill="#7aaad2" stroke="#9a9a9a" stroke-width="0.22"/>
<rect x="429.18" y="509.50" width="12.34" height="9.25" fill="#8cb8d8" stroke="#9a9a9a" stroke-width="0.22"/>
<rect x="441.52" y="509.50" width="12.34" height="9.25" fill="#b0d0e6" stroke="#9a9a9a" stroke-width="0.22"/>
<rect x="453.87" y="509.50" width="12.34" height="9.25" fill="#b8d6e8" stroke="#9a9a9a" stroke-width="0.22"/>
<rect x="466.21" y="509.50" width="12.34" height="9.25" fill="#c6dfec" stroke="#9a9a9a" stroke-width="0.22"/>
<rect x="478.56" y="509.50" width="12.34" height="9.25" fill="#a8cce4" stroke="#9a9a9a" stroke-width="0.22"/>
<rect x="379.80" y="518.75" width="12.34" height="9.25" fill="#a8cce4" stroke="#9a9a9a" stroke-width="0.22"/>
<rect x="392.14" y="518.75" width="12.34" height="9.25" fill="#98c0dc" stroke="#9a9a9a" stroke-width="0.22"/>
<rect x="404.49" y="518.75" width="12.34" height="9.25" fill="#98c0dc" stroke="#9a9a9a" stroke-width="0.22"/>
<rect x="416.83" y="518.75" width="12.34" height="9.25" fill="#a8cce4" stroke="#9a9a9a" stroke-width="0.22"/>
<rect x="429.18" y="518.75" width="12.34" height="9.25" fill="#a8cce4" stroke="#9a9a9a" stroke-width="0.22"/>
<rect x="441.52" y="518.75" width="12.34" height="9.25" fill="#c6dfec" stroke="#9a9a9a" stroke-width="0.22"/>
<rect x="453.87" y="518.75" width="12.34" height="9.25" fill="#4a80b8" stroke="#9a9a9a" stroke-width="0.22"/>
<rect x="466.21" y="518.75" width="12.34" height="9.25" fill="#c6dfec" stroke="#9a9a9a" stroke-width="0.22"/>
<rect x="478.56" y="518.75" width="12.34" height="9.25" fill="#5088c0" stroke="#9a9a9a" stroke-width="0.22"/>
<rect x="379.80" y="528.00" width="12.34" height="9.25" fill="#a8cce4" stroke="#9a9a9a" stroke-width="0.22"/>
<rect x="392.14" y="528.00" width="12.34" height="9.25" fill="#a8cce4" stroke="#9a9a9a" stroke-width="0.22"/>
<rect x="404.49" y="528.00" width="12.34" height="9.25" fill="#b8d6e8" stroke="#9a9a9a" stroke-width="0.22"/>
<rect x="416.83" y="528.00" width="12.34" height="9.25" fill="#c6dfec" stroke="#9a9a9a" stroke-width="0.22"/>
<rect x="429.18" y="528.00" width="12.34" height="9.25" fill="#98c0dc" stroke="#9a9a9a" stroke-width="0.22"/>
<rect x="441.52" y="528.00" width="12.34" height="9.25" fill="#a8cce4" stroke="#9a9a9a" stroke-width="0.22"/>
<rect x="453.87" y="528.00" width="12.34" height="9.25" fill="#98c0dc" stroke="#9a9a9a" stroke-width="0.22"/>
<rect x="466.21" y="528.00" width="12.34" height="9.25" fill="#a0c8e0" stroke="#9a9a9a" stroke-width="0.22"/>
<rect x="478.56" y="528.00" width="12.34" height="9.25" fill="#98c0dc" stroke="#9a9a9a" stroke-width="0.22"/>
<rect x="379.80" y="537.25" width="12.34" height="9.25" fill="#e4f0e0" stroke="#9a9a9a" stroke-width="0.22"/>
<rect x="392.14" y="537.25" width="12.34" height="9.25" fill="#b0d0e6" stroke="#9a9a9a" stroke-width="0.22"/>
<rect x="404.49" y="537.25" width="12.34" height="9.25" fill="#c6dfec" stroke="#9a9a9a" stroke-width="0.22"/>
<rect x="416.83" y="537.25" width="12.34" height="9.25" fill="#faf0b0" stroke="#9a9a9a" stroke-width="0.22"/>
<rect x="429.18" y="537.25" width="12.34" height="9.25" fill="#98c0dc" stroke="#9a9a9a" stroke-width="0.22"/>
<rect x="441.52" y="537.25" width="12.34" height="9.25" fill="#f4f2c4" stroke="#9a9a9a" stroke-width="0.22"/>
<rect x="453.87" y="537.25" width="12.34" height="9.25" fill="#f4f2c4" stroke="#9a9a9a" stroke-width="0.22"/>
<rect x="466.21" y="537.25" width="12.34" height="9.25" fill="#f8f0b8" stroke="#9a9a9a" stroke-width="0.22"/>
<rect x="478.56" y="537.25" width="12.34" height="9.25" fill="#f8f0b8" stroke="#9a9a9a" stroke-width="0.22"/>
<rect x="379.80" y="546.50" width="12.34" height="9.25" fill="#b8d6ec" stroke="#9a9a9a" stroke-width="0.22"/>
<rect x="392.14" y="546.50" width="12.34" height="9.25" fill="#9cc2e0" stroke="#9a9a9a" stroke-width="0.22"/>
<rect x="404.49" y="546.50" width="12.34" height="9.25" fill="#d0e6f2" stroke="#9a9a9a" stroke-width="0.22"/>
<rect x="416.83" y="546.50" width="12.34" height="9.25" fill="#e2efe6" stroke="#9a9a9a" stroke-width="0.22"/>
<rect x="429.18" y="546.50" width="12.34" height="9.25" fill="#8cb6da" stroke="#9a9a9a" stroke-width="0.22"/>
<rect x="441.52" y="546.50" width="12.34" height="9.25" fill="#d8ecec" stroke="#9a9a9a" stroke-width="0.22"/>
<rect x="453.87" y="546.50" width="12.34" height="9.25" fill="#e4f0e0" stroke="#9a9a9a" stroke-width="0.22"/>
<rect x="466.21" y="546.50" width="12.34" height="9.25" fill="#ecf0d0" stroke="#9a9a9a" stroke-width="0.22"/>
<rect x="478.56" y="546.50" width="12.34" height="9.25" fill="#eef0cc" stroke="#9a9a9a" stroke-width="0.22"/>
<rect x="379.80" y="555.75" width="12.34" height="9.25" fill="#d0e4ee" stroke="#9a9a9a" stroke-width="0.22"/>
<rect x="392.14" y="555.75" width="12.34" height="9.25" fill="#c6dfec" stroke="#9a9a9a" stroke-width="0.22"/>
<rect x="404.49" y="555.75" width="12.34" height="9.25" fill="#d0e4ee" stroke="#9a9a9a" stroke-width="0.22"/>
<rect x="416.83" y="555.75" width="12.34" height="9.25" fill="#f0f2cc" stroke="#9a9a9a" stroke-width="0.22"/>
<rect x="429.18" y="555.75" width="12.34" height="9.25" fill="#98c0dc" stroke="#9a9a9a" stroke-width="0.22"/>
<rect x="441.52" y="555.75" width="12.34" height="9.25" fill="#c0dcec" stroke="#9a9a9a" stroke-width="0.22"/>
<rect x="453.87" y="555.75" width="12.34" height="9.25" fill="#e0eee4" stroke="#9a9a9a" stroke-width="0.22"/>
<rect x="466.21" y="555.75" width="12.34" height="9.25" fill="#f8f0b8" stroke="#9a9a9a" stroke-width="0.22"/>
<rect x="478.56" y="555.75" width="12.34" height="9.25" fill="#c6dfec" stroke="#9a9a9a" stroke-width="0.22"/>
<rect x="379.80" y="565.00" width="12.34" height="9.25" fill="#5a90c4" stroke="#9a9a9a" stroke-width="0.22"/>
<rect x="392.14" y="565.00" width="12.34" height="9.25" fill="#cce2f2" stroke="#9a9a9a" stroke-width="0.22"/>
<rect x="404.49" y="565.00" width="12.34" height="9.25" fill="#98c0dc" stroke="#9a9a9a" stroke-width="0.22"/>
<rect x="416.83" y="565.00" width="12.34" height="9.25" fill="#dcecec" stroke="#9a9a9a" stroke-width="0.22"/>
<rect x="429.18" y="565.00" width="12.34" height="9.25" fill="#86b1d8" stroke="#9a9a9a" stroke-width="0.22"/>
<rect x="441.52" y="565.00" width="12.34" height="9.25" fill="#5a90c4" stroke="#9a9a9a" stroke-width="0.22"/>
<rect x="453.87" y="565.00" width="12.34" height="9.25" fill="#d4e8f0" stroke="#9a9a9a" stroke-width="0.22"/>
<rect x="466.21" y="565.00" width="12.34" height="9.25" fill="#b0d0ea" stroke="#9a9a9a" stroke-width="0.22"/>
<rect x="478.56" y="565.00" width="12.34" height="9.25" fill="#d0e6f0" stroke="#9a9a9a" stroke-width="0.22"/>
<rect x="379.80" y="574.25" width="12.34" height="9.25" fill="#e0eee0" stroke="#9a9a9a" stroke-width="0.22"/>
<rect x="392.14" y="574.25" width="12.34" height="9.25" fill="#f4f0bc" stroke="#9a9a9a" stroke-width="0.22"/>
<rect x="404.49" y="574.25" width="12.34" height="9.25" fill="#c6dfec" stroke="#9a9a9a" stroke-width="0.22"/>
<rect x="416.83" y="574.25" width="12.34" height="9.25" fill="#d8eaec" stroke="#9a9a9a" stroke-width="0.22"/>
<rect x="429.18" y="574.25" width="12.34" height="9.25" fill="#c6dfec" stroke="#9a9a9a" stroke-width="0.22"/>
<rect x="441.52" y="574.25" width="12.34" height="9.25" fill="#7aaad2" stroke="#9a9a9a" stroke-width="0.22"/>
<rect x="453.87" y="574.25" width="12.34" height="9.25" fill="#d8eaec" stroke="#9a9a9a" stroke-width="0.22"/>
<rect x="466.21" y="574.25" width="12.34" height="9.25" fill="#e0eee4" stroke="#9a9a9a" stroke-width="0.22"/>
<rect x="478.56" y="574.25" width="12.34" height="9.25" fill="#e0eee4" stroke="#9a9a9a" stroke-width="0.22"/>
<text x="492.80" y="441.02" font-size="2.45" fill="#111" textLength="16.90" lengthAdjust="spacingAndGlyphs" stroke="#111" stroke-width="0.13">Potri.002G008800</text>
<text x="492.80" y="450.27" font-size="2.45" fill="#111" textLength="16.90" lengthAdjust="spacingAndGlyphs" stroke="#111" stroke-width="0.13">Potri.005G101800</text>
<text x="492.80" y="459.52" font-size="2.45" fill="#111" textLength="16.90" lengthAdjust="spacingAndGlyphs" stroke="#111" stroke-width="0.13">Potri.002G124100</text>
<text x="492.80" y="468.77" font-size="2.45" fill="#111" textLength="16.90" lengthAdjust="spacingAndGlyphs" stroke="#111" stroke-width="0.13">Potri.014G025300</text>
<text x="492.80" y="478.02" font-size="2.45" fill="#111" textLength="16.90" lengthAdjust="spacingAndGlyphs" stroke="#111" stroke-width="0.13">Potri.013G069900</text>
<text x="492.80" y="487.27" font-size="2.45" fill="#111" textLength="16.90" lengthAdjust="spacingAndGlyphs" stroke="#111" stroke-width="0.13">Potri.015G039100</text>
<text x="492.80" y="496.52" font-size="2.45" fill="#111" textLength="16.90" lengthAdjust="spacingAndGlyphs" stroke="#111" stroke-width="0.13">Potri.005G114700</text>
<text x="492.80" y="505.77" font-size="2.45" fill="#111" textLength="16.90" lengthAdjust="spacingAndGlyphs" stroke="#111" stroke-width="0.13">Potri.008G065400</text>
<text x="492.80" y="515.02" font-size="2.45" fill="#111" textLength="16.90" lengthAdjust="spacingAndGlyphs" stroke="#111" stroke-width="0.13">Potri.007G012100</text>
<text x="492.80" y="524.27" font-size="2.45" fill="#111" textLength="16.90" lengthAdjust="spacingAndGlyphs" stroke="#111" stroke-width="0.13">Potri.009G028200</text>
<text x="492.80" y="533.52" font-size="2.45" fill="#111" textLength="16.90" lengthAdjust="spacingAndGlyphs" stroke="#111" stroke-width="0.13">Potri.010G192100</text>
<text x="492.80" y="542.77" font-size="2.45" fill="#111" textLength="16.90" lengthAdjust="spacingAndGlyphs" stroke="#111" stroke-width="0.13">Potri.001G237900</text>
<text x="492.80" y="552.02" font-size="2.45" fill="#111" textLength="16.90" lengthAdjust="spacingAndGlyphs" stroke="#111" stroke-width="0.13">Potri.010G111400</text>
<text x="492.80" y="561.27" font-size="2.45" fill="#111" textLength="16.90" lengthAdjust="spacingAndGlyphs" stroke="#111" stroke-width="0.13">Potri.012G047700</text>
<text x="492.80" y="570.52" font-size="2.45" fill="#111" textLength="16.90" lengthAdjust="spacingAndGlyphs" stroke="#111" stroke-width="0.13">Potri.004G051600</text>
<text x="492.80" y="579.77" font-size="2.45" fill="#111" textLength="16.90" lengthAdjust="spacingAndGlyphs" stroke="#111" stroke-width="0.13">Potri.019G040800</text>
<text x="385.77" y="584.60" font-size="2.8" fill="#111" font-weight="bold" textLength="3.40" lengthAdjust="spacingAndGlyphs" transform="rotate(90 385.77 584.60)" stroke="#111" stroke-width="0.06">CL</text>
<text x="398.12" y="584.60" font-size="2.8" fill="#111" font-weight="bold" textLength="3.40" lengthAdjust="spacingAndGlyphs" transform="rotate(90 398.12 584.60)" stroke="#111" stroke-width="0.06">DL</text>
<text x="410.46" y="584.60" font-size="2.8" fill="#111" font-weight="bold" textLength="3.40" lengthAdjust="spacingAndGlyphs" transform="rotate(90 410.46 584.60)" stroke="#111" stroke-width="0.06">ML</text>
<text x="422.81" y="584.60" font-size="2.8" fill="#111" font-weight="bold" textLength="3.40" lengthAdjust="spacingAndGlyphs" transform="rotate(90 422.81 584.60)" stroke="#111" stroke-width="0.06">RT</text>
<text x="435.15" y="584.60" font-size="2.8" fill="#111" font-weight="bold" textLength="3.40" lengthAdjust="spacingAndGlyphs" transform="rotate(90 435.15 584.60)" stroke="#111" stroke-width="0.06">FC</text>
<text x="447.49" y="584.60" font-size="2.8" fill="#111" font-weight="bold" textLength="3.40" lengthAdjust="spacingAndGlyphs" transform="rotate(90 447.49 584.60)" stroke="#111" stroke-width="0.06">MC</text>
<text x="459.84" y="584.60" font-size="2.8" fill="#111" font-weight="bold" textLength="3.40" lengthAdjust="spacingAndGlyphs" transform="rotate(90 459.84 584.60)" stroke="#111" stroke-width="0.06">XY</text>
<text x="472.18" y="584.60" font-size="2.8" fill="#111" font-weight="bold" textLength="3.40" lengthAdjust="spacingAndGlyphs" transform="rotate(90 472.18 584.60)" stroke="#111" stroke-width="0.06">IN</text>
<text x="484.53" y="584.60" font-size="2.8" fill="#111" font-weight="bold" textLength="3.40" lengthAdjust="spacingAndGlyphs" transform="rotate(90 484.53 584.60)" stroke="#111" stroke-width="0.06">NO</text>
<rect x="512.0" y="435.5" width="3.4" height="46.5" fill="url(#hm)"/>
<text x="516.60" y="440.70" font-size="2.6" fill="#222" font-weight="bold" stroke="#222" stroke-width="0.06">12</text>
<text x="516.60" y="449.06" font-size="2.6" fill="#222" font-weight="bold" stroke="#222" stroke-width="0.06">10</text>
<text x="516.60" y="457.42" font-size="2.6" fill="#222" font-weight="bold" stroke="#222" stroke-width="0.06">8</text>
<text x="516.60" y="465.78" font-size="2.6" fill="#222" font-weight="bold" stroke="#222" stroke-width="0.06">6</text>
<text x="516.60" y="474.14" font-size="2.6" fill="#222" font-weight="bold" stroke="#222" stroke-width="0.06">4</text>
<text x="516.60" y="482.50" font-size="2.6" fill="#222" font-weight="bold" stroke="#222" stroke-width="0.06">2</text>
<path d="M379.80,440.12 H376.40 V449.38 H379.80 M379.80,458.62 H374.30 V467.88 H379.80 M376.40,444.75 H372.90 V463.25 H374.30 M379.80,477.12 H373.75 V486.38 H379.80 M379.80,495.62 H376.40 V504.88 H379.80 M379.80,523.38 H375.40 V532.62 H379.80 M379.80,514.12 H374.60 V528.00 H375.40 M376.40,500.25 H373.60 V521.06 H374.60 M373.75,481.75 H372.40 V510.66 H373.60 M379.80,541.88 H376.20 V551.12 H379.80 M376.20,546.50 H375.20 V560.38 H379.80 M379.80,569.62 H375.60 V578.88 H379.80 M375.20,553.44 H373.90 V574.25 H375.60 M372.40,496.20 H371.1 V563.84 H373.90 M372.90,454.00 H363 V504.1 H371.1" stroke="#333" stroke-width="0.42" fill="none"/>
<path d="M312.8,602.1 L314,600.0 L315.2,602.1 Z" fill="none" stroke="#5560c8" stroke-width="0.35"/>
<text x="318.10" y="602.60" font-size="3.5" fill="#111" font-weight="bold" textLength="14.80" lengthAdjust="spacingAndGlyphs" stroke="#111" stroke-width="0.06">RNA-seq</text>
<text x="346.00" y="602.70" font-size="3.7" fill="#e8231a" font-weight="bold" textLength="16.30" lengthAdjust="spacingAndGlyphs" stroke="#e8231a" stroke-width="0.06">details.!!!</text>
<text x="374.60" y="602.70" font-size="3.7" fill="#9a9a9a" textLength="23.10" lengthAdjust="spacingAndGlyphs" stroke="#9a9a9a" stroke-width="0.06">annotation.!!!</text>
<rect x="373.0" y="623.6" width="118.20" height="109.27" fill="#527cb0"/>
<rect x="373.0" y="623.60" width="118.20" height="8.41" fill="#5b87bb"/>
<rect x="373.5" y="623.60" width="3.80" height="8.41" fill="#a9cbe4"/>
<rect x="381.2" y="623.60" width="3.00" height="8.41" fill="#8db7d9"/>
<rect x="395" y="623.60" width="3.80" height="8.41" fill="#a9cbe4"/>
<rect x="404.2" y="623.60" width="1.60" height="8.41" fill="#8db7d9"/>
<rect x="408.8" y="623.60" width="1.60" height="8.41" fill="#7aa5cf"/>
<rect x="422" y="623.60" width="2.20" height="8.41" fill="#7aa5cf"/>
<rect x="434.6" y="623.60" width="3.80" height="8.41" fill="#dbeaf3"/>
<rect x="438.4" y="623.60" width="3.90" height="8.41" fill="#a9cbe4"/>
<rect x="442.3" y="623.60" width="2.70" height="8.41" fill="#7aa5cf"/>
<rect x="448.5" y="623.60" width="1.50" height="8.41" fill="#7aa5cf"/>
<rect x="458.5" y="623.60" width="2.30" height="8.41" fill="#a9cbe4"/>
<rect x="480.8" y="623.60" width="2.20" height="8.41" fill="#a9cbe4"/>
<rect x="373.0" y="632.01" width="118.20" height="8.41" fill="#547fb3"/>
<rect x="378" y="632.01" width="4.00" height="8.41" fill="#a9cbe4"/>
<rect x="391.2" y="632.01" width="3.80" height="8.41" fill="#8db7d9"/>
<rect x="404.2" y="632.01" width="1.10" height="8.41" fill="#8db7d9"/>
<rect x="417.3" y="632.01" width="1.50" height="8.41" fill="#8db7d9"/>
<rect x="428.8" y="632.01" width="1.60" height="8.41" fill="#7aa5cf"/>
<rect x="443.8" y="632.01" width="2.40" height="8.41" fill="#a9cbe4"/>
<rect x="453" y="632.01" width="4.00" height="8.41" fill="#8db7d9"/>
<rect x="470" y="632.01" width="3.00" height="8.41" fill="#a9cbe4"/>
<rect x="486" y="632.01" width="1.00" height="8.41" fill="#7aa5cf"/>
<rect x="373.0" y="640.41" width="118.20" height="8.41" fill="#537db1"/>
<rect x="374.2" y="640.41" width="2.30" height="8.41" fill="#7aa5cf"/>
<rect x="378" y="640.41" width="4.00" height="8.41" fill="#a9cbe4"/>
<rect x="391.2" y="640.41" width="3.00" height="8.41" fill="#6a94c4"/>
<rect x="404.2" y="640.41" width="3.10" height="8.41" fill="#8db7d9"/>
<rect x="417.3" y="640.41" width="3.10" height="8.41" fill="#8db7d9"/>
<rect x="432" y="640.41" width="1.50" height="8.41" fill="#8db7d9"/>
<rect x="457" y="640.41" width="3.00" height="8.41" fill="#7aa5cf"/>
<rect x="373.0" y="648.82" width="118.20" height="8.41" fill="#547eb2"/>
<rect x="374.2" y="648.82" width="2.30" height="8.41" fill="#a9cbe4"/>
<rect x="386.5" y="648.82" width="3.10" height="8.41" fill="#7aa5cf"/>
<rect x="425.8" y="648.82" width="3.80" height="8.41" fill="#a9cbe4"/>
<rect x="438.8" y="648.82" width="1.60" height="8.41" fill="#7aa5cf"/>
<rect x="480" y="648.82" width="3.00" height="8.41" fill="#a9cbe4"/>
<rect x="373.0" y="657.22" width="118.20" height="8.41" fill="#527cb0"/>
<rect x="374.2" y="657.22" width="1.60" height="8.41" fill="#6a94c4"/>
<rect x="386.5" y="657.22" width="2.30" height="8.41" fill="#6a94c4"/>
<rect x="412.7" y="657.22" width="0.90" height="8.41" fill="#7aa5cf"/>
<rect x="427.3" y="657.22" width="1.10" height="8.41" fill="#7aa5cf"/>
<rect x="443" y="657.22" width="1.00" height="8.41" fill="#7aa5cf"/>
<rect x="373.0" y="665.63" width="118.20" height="8.41" fill="#527cb0"/>
<rect x="373.5" y="665.63" width="1.50" height="8.41" fill="#6a94c4"/>
<rect x="379.6" y="665.63" width="0.80" height="8.41" fill="#7aa5cf"/>
<rect x="390.4" y="665.63" width="1.00" height="8.41" fill="#7aa5cf"/>
<rect x="417.3" y="665.63" width="1.20" height="8.41" fill="#7aa5cf"/>
<rect x="443.5" y="665.63" width="1.10" height="8.41" fill="#7aa5cf"/>
<rect x="470.8" y="665.63" width="0.70" height="8.41" fill="#6a94c4"/>
<rect x="373.0" y="674.03" width="118.20" height="8.41" fill="#527cb0"/>
<rect x="413" y="674.03" width="1.20" height="8.41" fill="#6a94c4"/>
<rect x="443" y="674.03" width="2.40" height="8.41" fill="#6a94c4"/>
<line x1="373.0" y1="632.01" x2="491.2" y2="632.01" stroke="#7c9fcb" stroke-width="0.22"/>
<line x1="373.0" y1="640.41" x2="491.2" y2="640.41" stroke="#7c9fcb" stroke-width="0.22"/>
<line x1="373.0" y1="648.82" x2="491.2" y2="648.82" stroke="#7c9fcb" stroke-width="0.22"/>
<line x1="373.0" y1="657.22" x2="491.2" y2="657.22" stroke="#7c9fcb" stroke-width="0.22"/>
<line x1="373.0" y1="665.63" x2="491.2" y2="665.63" stroke="#7c9fcb" stroke-width="0.22"/>
<line x1="373.0" y1="674.03" x2="491.2" y2="674.03" stroke="#7c9fcb" stroke-width="0.22"/>
<line x1="373.0" y1="682.44" x2="491.2" y2="682.44" stroke="#7c9fcb" stroke-width="0.22"/>
<line x1="373.0" y1="690.84" x2="491.2" y2="690.84" stroke="#7c9fcb" stroke-width="0.22"/>
<line x1="373.0" y1="699.25" x2="491.2" y2="699.25" stroke="#7c9fcb" stroke-width="0.22"/>
<line x1="373.0" y1="707.66" x2="491.2" y2="707.66" stroke="#7c9fcb" stroke-width="0.22"/>
<line x1="373.0" y1="716.06" x2="491.2" y2="716.06" stroke="#7c9fcb" stroke-width="0.22"/>
<line x1="373.0" y1="724.47" x2="491.2" y2="724.47" stroke="#7c9fcb" stroke-width="0.22"/>
<line x1="373.0" y1="732.87" x2="491.2" y2="732.87" stroke="#7c9fcb" stroke-width="0.22"/>
<rect x="373.00" y="732.87" width="4.43" height="8.41" fill="#fbecb0"/>
<rect x="377.38" y="732.87" width="4.43" height="8.41" fill="#fbd293"/>
<rect x="381.76" y="732.87" width="4.43" height="8.41" fill="#fbecb0"/>
<rect x="386.13" y="732.87" width="4.43" height="8.41" fill="#fbecb0"/>
<rect x="390.51" y="732.87" width="4.43" height="8.41" fill="#fbd293"/>
<rect x="394.89" y="732.87" width="4.43" height="8.41" fill="#fbd293"/>
<rect x="399.27" y="732.87" width="4.43" height="8.41" fill="#fbecb0"/>
<rect x="403.64" y="732.87" width="4.43" height="8.41" fill="#fbd293"/>
<rect x="408.02" y="732.87" width="4.43" height="8.41" fill="#fbecb0"/>
<rect x="412.40" y="732.87" width="4.43" height="8.41" fill="#fbecb0"/>
<rect x="416.78" y="732.87" width="4.43" height="8.41" fill="#fbecb0"/>
<rect x="421.16" y="732.87" width="4.43" height="8.41" fill="#fbecb0"/>
<rect x="425.53" y="732.87" width="4.43" height="8.41" fill="#fbecb0"/>
<rect x="429.91" y="732.87" width="4.43" height="8.41" fill="#fbd293"/>
<rect x="434.29" y="732.87" width="4.43" height="8.41" fill="#fbecb0"/>
<rect x="438.67" y="732.87" width="4.43" height="8.41" fill="#eef2d6"/>
<rect x="443.04" y="732.87" width="4.43" height="8.41" fill="#fbd293"/>
<rect x="447.42" y="732.87" width="4.43" height="8.41" fill="#fbecb0"/>
<rect x="451.80" y="732.87" width="4.43" height="8.41" fill="#fbecb0"/>
<rect x="456.18" y="732.87" width="4.43" height="8.41" fill="#fbd293"/>
<rect x="460.56" y="732.87" width="4.43" height="8.41" fill="#fbd293"/>
<rect x="464.93" y="732.87" width="4.43" height="8.41" fill="#fbecb0"/>
<rect x="469.31" y="732.87" width="4.43" height="8.41" fill="#fbd293"/>
<rect x="473.69" y="732.87" width="4.43" height="8.41" fill="#fbecb0"/>
<rect x="478.07" y="732.87" width="4.43" height="8.41" fill="#fbecb0"/>
<rect x="482.44" y="732.87" width="4.43" height="8.41" fill="#fbd293"/>
<rect x="486.82" y="732.87" width="4.43" height="8.41" fill="#fbecb0"/>
<line x1="373.0" y1="732.87" x2="491.2" y2="732.87" stroke="#c9c9c9" stroke-width="0.22"/>
<rect x="373.00" y="741.28" width="4.43" height="8.41" fill="#f0f0c8"/>
<rect x="377.38" y="741.28" width="4.43" height="8.41" fill="#fbecb0"/>
<rect x="381.76" y="741.28" width="4.43" height="8.41" fill="#e8603c"/>
<rect x="386.13" y="741.28" width="4.43" height="8.41" fill="#b0d0e8"/>
<rect x="390.51" y="741.28" width="4.43" height="8.41" fill="#e8f0d8"/>
<rect x="394.89" y="741.28" width="4.43" height="8.41" fill="#f08c56"/>
<rect x="399.27" y="741.28" width="4.43" height="8.41" fill="#7aaad2"/>
<rect x="403.64" y="741.28" width="4.43" height="8.41" fill="#fbecb0"/>
<rect x="408.02" y="741.28" width="4.43" height="8.41" fill="#e8603c"/>
<rect x="412.40" y="741.28" width="4.43" height="8.41" fill="#b0d0e8"/>
<rect x="416.78" y="741.28" width="4.43" height="8.41" fill="#fbecb0"/>
<rect x="421.16" y="741.28" width="4.43" height="8.41" fill="#f8e098"/>
<rect x="425.53" y="741.28" width="4.43" height="8.41" fill="#b0d0e8"/>
<rect x="429.91" y="741.28" width="4.43" height="8.41" fill="#fbecb0"/>
<rect x="434.29" y="741.28" width="4.43" height="8.41" fill="#e0523a"/>
<rect x="438.67" y="741.28" width="4.43" height="8.41" fill="#d6e7f0"/>
<rect x="443.04" y="741.28" width="4.43" height="8.41" fill="#eef2d6"/>
<rect x="447.42" y="741.28" width="4.43" height="8.41" fill="#fbecb0"/>
<rect x="451.80" y="741.28" width="4.43" height="8.41" fill="#88b4d8"/>
<rect x="456.18" y="741.28" width="4.43" height="8.41" fill="#eef2d6"/>
<rect x="460.56" y="741.28" width="4.43" height="8.41" fill="#f09060"/>
<rect x="464.93" y="741.28" width="4.43" height="8.41" fill="#c0dcec"/>
<rect x="469.31" y="741.28" width="4.43" height="8.41" fill="#fbecb0"/>
<rect x="473.69" y="741.28" width="4.43" height="8.41" fill="#fbd293"/>
<rect x="478.07" y="741.28" width="4.43" height="8.41" fill="#eef2d6"/>
<rect x="482.44" y="741.28" width="4.43" height="8.41" fill="#fbecb0"/>
<rect x="486.82" y="741.28" width="4.43" height="8.41" fill="#e04838"/>
<line x1="373.0" y1="741.28" x2="491.2" y2="741.28" stroke="#c9c9c9" stroke-width="0.22"/>
<rect x="373.00" y="749.68" width="4.43" height="8.41" fill="#a0c4e0"/>
<rect x="377.38" y="749.68" width="4.43" height="8.41" fill="#d6e7f0"/>
<rect x="381.76" y="749.68" width="4.43" height="8.41" fill="#b0d0e8"/>
<rect x="386.13" y="749.68" width="4.43" height="8.41" fill="#b0d0e8"/>
<rect x="390.51" y="749.68" width="4.43" height="8.41" fill="#d6e7f0"/>
<rect x="394.89" y="749.68" width="4.43" height="8.41" fill="#d6e7f0"/>
<rect x="399.27" y="749.68" width="4.43" height="8.41" fill="#b0d0e8"/>
<rect x="403.64" y="749.68" width="4.43" height="8.41" fill="#b8d4e8"/>
<rect x="408.02" y="749.68" width="4.43" height="8.41" fill="#b8d4e8"/>
<rect x="412.40" y="749.68" width="4.43" height="8.41" fill="#88b4d8"/>
<rect x="416.78" y="749.68" width="4.43" height="8.41" fill="#d6e7f0"/>
<rect x="421.16" y="749.68" width="4.43" height="8.41" fill="#6a9ccc"/>
<rect x="425.53" y="749.68" width="4.43" height="8.41" fill="#b0d0e8"/>
<rect x="429.91" y="749.68" width="4.43" height="8.41" fill="#d6e7f0"/>
<rect x="434.29" y="749.68" width="4.43" height="8.41" fill="#d6e7f0"/>
<rect x="438.67" y="749.68" width="4.43" height="8.41" fill="#b0d0e8"/>
<rect x="443.04" y="749.68" width="4.43" height="8.41" fill="#eef2d6"/>
<rect x="447.42" y="749.68" width="4.43" height="8.41" fill="#d6e7f0"/>
<rect x="451.80" y="749.68" width="4.43" height="8.41" fill="#b0d0e8"/>
<rect x="456.18" y="749.68" width="4.43" height="8.41" fill="#eef2d6"/>
<rect x="460.56" y="749.68" width="4.43" height="8.41" fill="#b0d0e8"/>
<rect x="464.93" y="749.68" width="4.43" height="8.41" fill="#98c0dc"/>
<rect x="469.31" y="749.68" width="4.43" height="8.41" fill="#d6e7f0"/>
<rect x="473.69" y="749.68" width="4.43" height="8.41" fill="#d6e7f0"/>
<rect x="478.07" y="749.68" width="4.43" height="8.41" fill="#88b4d8"/>
<rect x="482.44" y="749.68" width="4.43" height="8.41" fill="#d6e7f0"/>
<rect x="486.82" y="749.68" width="4.43" height="8.41" fill="#b0d0e8"/>
<line x1="373.0" y1="749.68" x2="491.2" y2="749.68" stroke="#c9c9c9" stroke-width="0.22"/>
<rect x="373.00" y="758.09" width="4.43" height="8.41" fill="#3c70b0"/>
<rect x="377.38" y="758.09" width="4.43" height="8.41" fill="#f8d890"/>
<rect x="381.76" y="758.09" width="4.43" height="8.41" fill="#f8cc80"/>
<rect x="386.13" y="758.09" width="4.43" height="8.41" fill="#4a80b8"/>
<rect x="390.51" y="758.09" width="4.43" height="8.41" fill="#f8e0a0"/>
<rect x="394.89" y="758.09" width="4.43" height="8.41" fill="#f8dc98"/>
<rect x="399.27" y="758.09" width="4.43" height="8.41" fill="#4a80b8"/>
<rect x="403.64" y="758.09" width="4.43" height="8.41" fill="#fbecb0"/>
<rect x="408.02" y="758.09" width="4.43" height="8.41" fill="#f8b070"/>
<rect x="412.40" y="758.09" width="4.43" height="8.41" fill="#7aaad2"/>
<rect x="416.78" y="758.09" width="4.43" height="8.41" fill="#fbecb0"/>
<rect x="421.16" y="758.09" width="4.43" height="8.41" fill="#f8a868"/>
<rect x="425.53" y="758.09" width="4.43" height="8.41" fill="#4a80b8"/>
<rect x="429.91" y="758.09" width="4.43" height="8.41" fill="#fbd293"/>
<rect x="434.29" y="758.09" width="4.43" height="8.41" fill="#fbd293"/>
<rect x="438.67" y="758.09" width="4.43" height="8.41" fill="#4a80b8"/>
<rect x="443.04" y="758.09" width="4.43" height="8.41" fill="#f4f6f2"/>
<rect x="447.42" y="758.09" width="4.43" height="8.41" fill="#c4dcec"/>
<rect x="451.80" y="758.09" width="4.43" height="8.41" fill="#3c70b0"/>
<rect x="456.18" y="758.09" width="4.43" height="8.41" fill="#fbd293"/>
<rect x="460.56" y="758.09" width="4.43" height="8.41" fill="#fbcc8c"/>
<rect x="464.93" y="758.09" width="4.43" height="8.41" fill="#6a9ccc"/>
<rect x="469.31" y="758.09" width="4.43" height="8.41" fill="#fbd293"/>
<rect x="473.69" y="758.09" width="4.43" height="8.41" fill="#fbd293"/>
<rect x="478.07" y="758.09" width="4.43" height="8.41" fill="#5a90c4"/>
<rect x="482.44" y="758.09" width="4.43" height="8.41" fill="#fbecb0"/>
<rect x="486.82" y="758.09" width="4.43" height="8.41" fill="#fbd293"/>
<line x1="373.0" y1="758.09" x2="491.2" y2="758.09" stroke="#c9c9c9" stroke-width="0.22"/>
<rect x="373.00" y="766.49" width="4.43" height="8.41" fill="#3c70b0"/>
<rect x="377.38" y="766.49" width="4.43" height="8.41" fill="#fbecb0"/>
<rect x="381.76" y="766.49" width="4.43" height="8.41" fill="#fbecb0"/>
<rect x="386.13" y="766.49" width="4.43" height="8.41" fill="#4a80b8"/>
<rect x="390.51" y="766.49" width="4.43" height="8.41" fill="#b0d0e8"/>
<rect x="394.89" y="766.49" width="4.43" height="8.41" fill="#eef2d6"/>
<rect x="399.27" y="766.49" width="4.43" height="8.41" fill="#3c70b0"/>
<rect x="403.64" y="766.49" width="4.43" height="8.41" fill="#fbecb0"/>
<rect x="408.02" y="766.49" width="4.43" height="8.41" fill="#fbecb0"/>
<rect x="412.40" y="766.49" width="4.43" height="8.41" fill="#4a80b8"/>
<rect x="416.78" y="766.49" width="4.43" height="8.41" fill="#b0d0e8"/>
<rect x="421.16" y="766.49" width="4.43" height="8.41" fill="#fbecb0"/>
<rect x="425.53" y="766.49" width="4.43" height="8.41" fill="#4a80b8"/>
<rect x="429.91" y="766.49" width="4.43" height="8.41" fill="#eef2d6"/>
<rect x="434.29" y="766.49" width="4.43" height="8.41" fill="#eef2d6"/>
<rect x="438.67" y="766.49" width="4.43" height="8.41" fill="#3c70b0"/>
<rect x="443.04" y="766.49" width="4.43" height="8.41" fill="#c0dcec"/>
<rect x="447.42" y="766.49" width="4.43" height="8.41" fill="#b0d0e8"/>
<rect x="451.80" y="766.49" width="4.43" height="8.41" fill="#3c70b0"/>
<rect x="456.18" y="766.49" width="4.43" height="8.41" fill="#fbecb0"/>
<rect x="460.56" y="766.49" width="4.43" height="8.41" fill="#fbecb0"/>
<rect x="464.93" y="766.49" width="4.43" height="8.41" fill="#4a80b8"/>
<rect x="469.31" y="766.49" width="4.43" height="8.41" fill="#fbd293"/>
<rect x="473.69" y="766.49" width="4.43" height="8.41" fill="#fbecb0"/>
<rect x="478.07" y="766.49" width="4.43" height="8.41" fill="#4a80b8"/>
<rect x="482.44" y="766.49" width="4.43" height="8.41" fill="#eef2d6"/>
<rect x="486.82" y="766.49" width="4.43" height="8.41" fill="#eef2d6"/>
<line x1="373.0" y1="766.49" x2="491.2" y2="766.49" stroke="#c9c9c9" stroke-width="0.22"/>
<text x="493.00" y="628.70" font-size="2.45" fill="#111" textLength="17.60" lengthAdjust="spacingAndGlyphs" stroke="#111" stroke-width="0.13">Potri.005G114700</text>
<text x="493.00" y="637.11" font-size="2.45" fill="#111" textLength="17.60" lengthAdjust="spacingAndGlyphs" stroke="#111" stroke-width="0.13">Potri.010G192100</text>
<text x="493.00" y="645.51" font-size="2.45" fill="#111" textLength="17.60" lengthAdjust="spacingAndGlyphs" stroke="#111" stroke-width="0.13">Potri.013G069900</text>
<text x="493.00" y="653.92" font-size="2.45" fill="#111" textLength="17.60" lengthAdjust="spacingAndGlyphs" stroke="#111" stroke-width="0.13">Potri.012G047700</text>
<text x="493.00" y="662.32" font-size="2.45" fill="#111" textLength="17.60" lengthAdjust="spacingAndGlyphs" stroke="#111" stroke-width="0.13">Potri.015G039100</text>
<text x="493.00" y="670.73" font-size="2.45" fill="#111" textLength="17.60" lengthAdjust="spacingAndGlyphs" stroke="#111" stroke-width="0.13">Potri.008G065400</text>
<text x="493.00" y="679.14" font-size="2.45" fill="#111" textLength="17.60" lengthAdjust="spacingAndGlyphs" stroke="#111" stroke-width="0.13">Potri.014G025300</text>
<text x="493.00" y="687.54" font-size="2.45" fill="#111" textLength="17.60" lengthAdjust="spacingAndGlyphs" stroke="#111" stroke-width="0.13">Potri.010G111400</text>
<text x="493.00" y="695.95" font-size="2.45" fill="#111" textLength="17.60" lengthAdjust="spacingAndGlyphs" stroke="#111" stroke-width="0.13">Potri.011G061400</text>
<text x="493.00" y="704.35" font-size="2.45" fill="#111" textLength="17.60" lengthAdjust="spacingAndGlyphs" stroke="#111" stroke-width="0.13">Potri.004G051600</text>
<text x="493.00" y="712.76" font-size="2.45" fill="#111" textLength="17.60" lengthAdjust="spacingAndGlyphs" stroke="#111" stroke-width="0.13">Potri.001G237900</text>
<text x="493.00" y="721.16" font-size="2.45" fill="#111" textLength="17.60" lengthAdjust="spacingAndGlyphs" stroke="#111" stroke-width="0.13">Potri.007G012100</text>
<text x="493.00" y="729.57" font-size="2.45" fill="#111" textLength="17.60" lengthAdjust="spacingAndGlyphs" stroke="#111" stroke-width="0.13">Potri.009G028200</text>
<text x="493.00" y="737.98" font-size="2.45" fill="#111" textLength="17.60" lengthAdjust="spacingAndGlyphs" stroke="#111" stroke-width="0.13">Potri.005G101800</text>
<text x="493.00" y="746.38" font-size="2.45" fill="#111" textLength="17.60" lengthAdjust="spacingAndGlyphs" stroke="#111" stroke-width="0.13">Potri.002G008800</text>
<text x="493.00" y="754.79" font-size="2.45" fill="#111" textLength="17.60" lengthAdjust="spacingAndGlyphs" stroke="#111" stroke-width="0.13">Potri.005G252800</text>
<text x="493.00" y="763.19" font-size="2.45" fill="#111" textLength="17.60" lengthAdjust="spacingAndGlyphs" stroke="#111" stroke-width="0.13">Potri.014G025300</text>
<text x="493.00" y="771.60" font-size="2.45" fill="#111" textLength="17.60" lengthAdjust="spacingAndGlyphs" stroke="#111" stroke-width="0.13">Potri.002G124100</text>
<rect x="512.8" y="623.8" width="3.4" height="47.8" fill="url(#hm)"/>
<text x="517.20" y="636.20" font-size="2.4" fill="#555" stroke="#555" stroke-width="0.06">6</text>
<text x="517.20" y="648.50" font-size="2.4" fill="#555" stroke="#555" stroke-width="0.06">4</text>
<text x="517.20" y="660.80" font-size="2.4" fill="#555" stroke="#555" stroke-width="0.06">2</text>
<text x="517.20" y="673.10" font-size="2.4" fill="#555" stroke="#555" stroke-width="0.06">0</text>
<rect x="373.0" y="775.7" width="118.20" height="2.7" fill="#a6a6a6"/>
<rect x="373.00" y="778.4" width="1.46" height="0.6" fill="#bdbdbd" opacity="0.8"/>
<rect x="374.46" y="778.4" width="1.46" height="0.5" fill="#bdbdbd" opacity="0.8"/>
<rect x="375.92" y="778.4" width="1.46" height="1.6" fill="#bdbdbd" opacity="0.8"/>
<rect x="377.38" y="778.4" width="1.46" height="2.0" fill="#bdbdbd" opacity="0.8"/>
<rect x="378.84" y="778.4" width="1.46" height="2.4" fill="#bdbdbd" opacity="0.8"/>
<rect x="380.30" y="778.4" width="1.46" height="2.6" fill="#bdbdbd" opacity="0.8"/>
<rect x="381.76" y="778.4" width="1.46" height="1.2" fill="#bdbdbd" opacity="0.8"/>
<rect x="383.21" y="778.4" width="1.46" height="0.6" fill="#bdbdbd" opacity="0.8"/>
<rect x="384.67" y="778.4" width="1.46" height="2.0" fill="#bdbdbd" opacity="0.8"/>
<rect x="386.13" y="778.4" width="1.46" height="0.9" fill="#bdbdbd" opacity="0.8"/>
<rect x="387.59" y="778.4" width="1.46" height="1.0" fill="#bdbdbd" opacity="0.8"/>
<rect x="389.05" y="778.4" width="1.46" height="2.4" fill="#bdbdbd" opacity="0.8"/>
<rect x="390.51" y="778.4" width="1.46" height="0.6" fill="#bdbdbd" opacity="0.8"/>
<rect x="391.97" y="778.4" width="1.46" height="0.5" fill="#bdbdbd" opacity="0.8"/>
<rect x="393.43" y="778.4" width="1.46" height="1.6" fill="#bdbdbd" opacity="0.8"/>
<rect x="394.89" y="778.4" width="1.46" height="2.0" fill="#bdbdbd" opacity="0.8"/>
<rect x="396.35" y="778.4" width="1.46" height="2.4" fill="#bdbdbd" opacity="0.8"/>
<rect x="397.81" y="778.4" width="1.46" height="2.6" fill="#bdbdbd" opacity="0.8"/>
<rect x="399.27" y="778.4" width="1.46" height="1.2" fill="#bdbdbd" opacity="0.8"/>
<rect x="400.73" y="778.4" width="1.46" height="0.6" fill="#bdbdbd" opacity="0.8"/>
<rect x="402.19" y="778.4" width="1.46" height="2.0" fill="#bdbdbd" opacity="0.8"/>
<rect x="403.64" y="778.4" width="1.46" height="0.9" fill="#bdbdbd" opacity="0.8"/>
<rect x="405.10" y="778.4" width="1.46" height="1.0" fill="#bdbdbd" opacity="0.8"/>
<rect x="406.56" y="778.4" width="1.46" height="2.4" fill="#bdbdbd" opacity="0.8"/>
<rect x="408.02" y="778.4" width="1.46" height="0.6" fill="#bdbdbd" opacity="0.8"/>
<rect x="409.48" y="778.4" width="1.46" height="0.5" fill="#bdbdbd" opacity="0.8"/>
<rect x="410.94" y="778.4" width="1.46" height="1.6" fill="#bdbdbd" opacity="0.8"/>
<rect x="412.40" y="778.4" width="1.46" height="2.0" fill="#bdbdbd" opacity="0.8"/>
<rect x="413.86" y="778.4" width="1.46" height="2.4" fill="#bdbdbd" opacity="0.8"/>
<rect x="415.32" y="778.4" width="1.46" height="2.6" fill="#bdbdbd" opacity="0.8"/>
<rect x="416.78" y="778.4" width="1.46" height="1.2" fill="#bdbdbd" opacity="0.8"/>
<rect x="418.24" y="778.4" width="1.46" height="0.6" fill="#bdbdbd" opacity="0.8"/>
<rect x="419.70" y="778.4" width="1.46" height="2.0" fill="#bdbdbd" opacity="0.8"/>
<rect x="421.16" y="778.4" width="1.46" height="0.9" fill="#bdbdbd" opacity="0.8"/>
<rect x="422.61" y="778.4" width="1.46" height="1.0" fill="#bdbdbd" opacity="0.8"/>
<rect x="424.07" y="778.4" width="1.46" height="2.4" fill="#bdbdbd" opacity="0.8"/>
<rect x="425.53" y="778.4" width="1.46" height="0.6" fill="#bdbdbd" opacity="0.8"/>
<rect x="426.99" y="778.4" width="1.46" height="0.5" fill="#bdbdbd" opacity="0.8"/>
<rect x="428.45" y="778.4" width="1.46" height="1.6" fill="#bdbdbd" opacity="0.8"/>
<rect x="429.91" y="778.4" width="1.46" height="2.0" fill="#bdbdbd" opacity="0.8"/>
<rect x="431.37" y="778.4" width="1.46" height="2.4" fill="#bdbdbd" opacity="0.8"/>
<rect x="432.83" y="778.4" width="1.46" height="2.6" fill="#bdbdbd" opacity="0.8"/>
<rect x="434.29" y="778.4" width="1.46" height="1.2" fill="#bdbdbd" opacity="0.8"/>
<rect x="435.75" y="778.4" width="1.46" height="0.6" fill="#bdbdbd" opacity="0.8"/>
<rect x="437.21" y="778.4" width="1.46" height="2.0" fill="#bdbdbd" opacity="0.8"/>
<rect x="438.67" y="778.4" width="1.46" height="0.9" fill="#bdbdbd" opacity="0.8"/>
<rect x="440.13" y="778.4" width="1.46" height="1.0" fill="#bdbdbd" opacity="0.8"/>
<rect x="441.59" y="778.4" width="1.46" height="2.4" fill="#bdbdbd" opacity="0.8"/>
<rect x="443.04" y="778.4" width="1.46" height="0.6" fill="#bdbdbd" opacity="0.8"/>
<rect x="444.50" y="778.4" width="1.46" height="0.5" fill="#bdbdbd" opacity="0.8"/>
<rect x="445.96" y="778.4" width="1.46" height="1.6" fill="#bdbdbd" opacity="0.8"/>
<rect x="447.42" y="778.4" width="1.46" height="2.0" fill="#bdbdbd" opacity="0.8"/>
<rect x="448.88" y="778.4" width="1.46" height="2.4" fill="#bdbdbd" opacity="0.8"/>
<rect x="450.34" y="778.4" width="1.46" height="2.6" fill="#bdbdbd" opacity="0.8"/>
<rect x="451.80" y="778.4" width="1.46" height="1.2" fill="#bdbdbd" opacity="0.8"/>
<rect x="453.26" y="778.4" width="1.46" height="0.6" fill="#bdbdbd" opacity="0.8"/>
<rect x="454.72" y="778.4" width="1.46" height="2.0" fill="#bdbdbd" opacity="0.8"/>
<rect x="456.18" y="778.4" width="1.46" height="0.9" fill="#bdbdbd" opacity="0.8"/>
<rect x="457.64" y="778.4" width="1.46" height="1.0" fill="#bdbdbd" opacity="0.8"/>
<rect x="459.10" y="778.4" width="1.46" height="2.4" fill="#bdbdbd" opacity="0.8"/>
<rect x="460.56" y="778.4" width="1.46" height="0.6" fill="#bdbdbd" opacity="0.8"/>
<rect x="462.01" y="778.4" width="1.46" height="0.5" fill="#bdbdbd" opacity="0.8"/>
<rect x="463.47" y="778.4" width="1.46" height="1.6" fill="#bdbdbd" opacity="0.8"/>
<rect x="464.93" y="778.4" width="1.46" height="2.0" fill="#bdbdbd" opacity="0.8"/>
<rect x="466.39" y="778.4" width="1.46" height="2.4" fill="#bdbdbd" opacity="0.8"/>
<rect x="467.85" y="778.4" width="1.46" height="2.6" fill="#bdbdbd" opacity="0.8"/>
<rect x="469.31" y="778.4" width="1.46" height="1.2" fill="#bdbdbd" opacity="0.8"/>
<rect x="470.77" y="778.4" width="1.46" height="0.6" fill="#bdbdbd" opacity="0.8"/>
<rect x="472.23" y="778.4" width="1.46" height="2.0" fill="#bdbdbd" opacity="0.8"/>
<rect x="473.69" y="778.4" width="1.46" height="0.9" fill="#bdbdbd" opacity="0.8"/>
<rect x="475.15" y="778.4" width="1.46" height="1.0" fill="#bdbdbd" opacity="0.8"/>
<rect x="476.61" y="778.4" width="1.46" height="2.4" fill="#bdbdbd" opacity="0.8"/>
<rect x="478.07" y="778.4" width="1.46" height="0.6" fill="#bdbdbd" opacity="0.8"/>
<rect x="479.53" y="778.4" width="1.46" height="0.5" fill="#bdbdbd" opacity="0.8"/>
<rect x="480.99" y="778.4" width="1.46" height="1.6" fill="#bdbdbd" opacity="0.8"/>
<rect x="482.44" y="778.4" width="1.46" height="2.0" fill="#bdbdbd" opacity="0.8"/>
<rect x="483.90" y="778.4" width="1.46" height="2.4" fill="#bdbdbd" opacity="0.8"/>
<rect x="485.36" y="778.4" width="1.46" height="2.6" fill="#bdbdbd" opacity="0.8"/>
<rect x="486.82" y="778.4" width="1.46" height="1.2" fill="#bdbdbd" opacity="0.8"/>
<rect x="488.28" y="778.4" width="1.46" height="0.6" fill="#bdbdbd" opacity="0.8"/>
<rect x="489.74" y="778.4" width="1.46" height="2.0" fill="#bdbdbd" opacity="0.8"/>
<path d="M356.5,639.4 V750.7 H363.25 M356.5,639.4 H369.4 M373.0,627.80 H369.4 V651.5 H370.8 M370.8,640.41 V662 H371.6 M370.8,640.41 H371.8 M373.0,636.21 H371.8 V644.61 H373.0 M371.6,657.22 V671 H372.2 M371.6,657.22 H372.2 M373.0,653.02 H372.2 V661.42 H373.0 M373.0,669.83 H372.2 V728.67 H373.0 M363.25,741.3 V760.2 H365.06 M363.25,741.3 H367.4 M373.0,737.08 H367.4 V745.48 H373.0 M373.0,753.89 H365.06 V766.3 H368.1 M373.0,762.29 H368.1 V770.70 H373.0 M373.0,678.24 H372.30 M373.0,686.64 H372.35 M373.0,695.05 H372.40 M373.0,703.45 H372.45 M373.0,711.86 H372.50 M373.0,720.26 H372.55" stroke="#333" stroke-width="0.42" fill="none"/>
<circle cx="302.4" cy="789.9" r="1.9" fill="#82c341"/>
<circle cx="302.4" cy="789.9" r="0.85" fill="#e6f4cf"/>
<circle cx="302.4" cy="789.9" r="1.9" fill="none" stroke="#6aa32d" stroke-width="0.35"/>
<text x="305.40" y="791.25" font-size="3.9" fill="#111" font-weight="bold" textLength="19.20" lengthAdjust="spacingAndGlyphs" stroke="#111" stroke-width="0.06">Publication</text>
<text x="309.30" y="798.50" font-size="3.45" fill="#222" textLength="87.20" lengthAdjust="spacingAndGlyphs" stroke="#222" stroke-width="0.06">1&gt; The WUS homeobox-containing (WOX) protein family</text>
<text x="309.30" y="804.30" font-size="3.45" fill="#222" textLength="58.40" lengthAdjust="spacingAndGlyphs" stroke="#222" stroke-width="0.06">2&gt; The true story of the HD-Zip family</text>
</svg>
</body></html>
